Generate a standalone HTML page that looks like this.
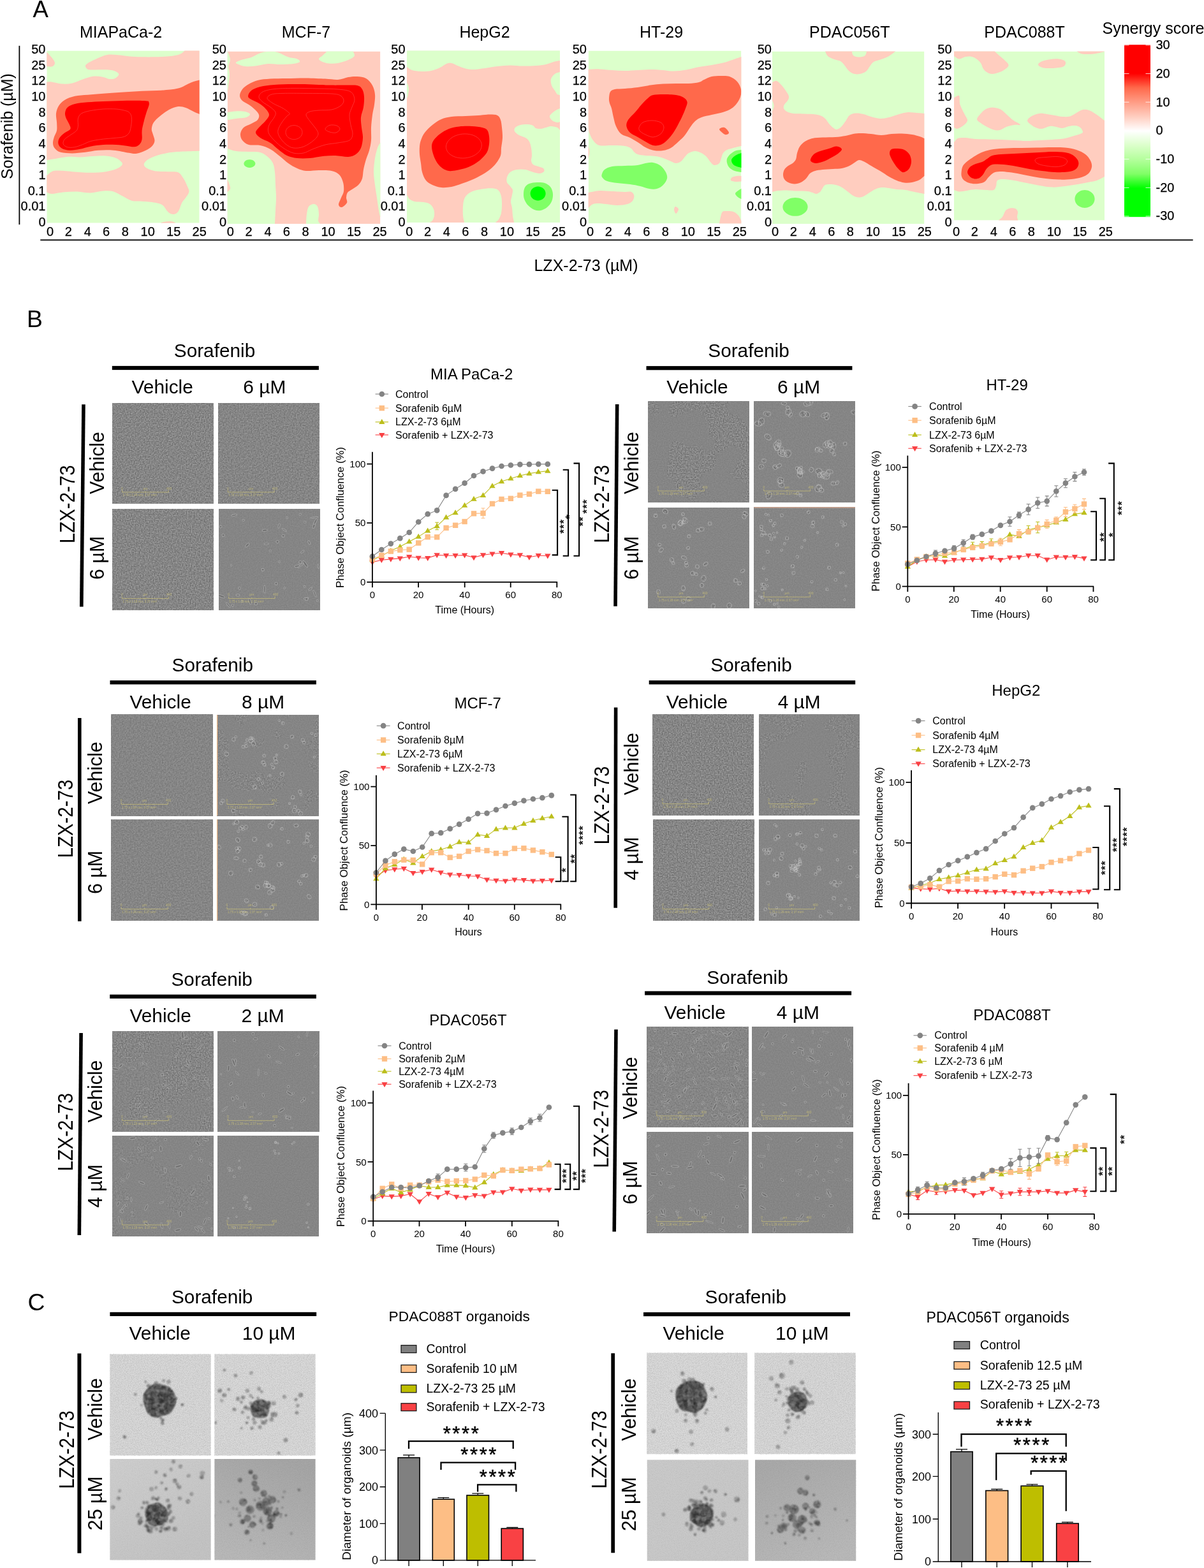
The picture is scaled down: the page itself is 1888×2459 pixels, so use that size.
<!DOCTYPE html>
<html lang="en">
<head>
<meta charset="utf-8">
<title>Figure</title>
<style>
html,body{margin:0;padding:0;background:#fff}
body{width:1888px;height:2459px;overflow:hidden}
svg{display:block}
text{font-family:"Liberation Sans",sans-serif;fill:#000}
</style>
</head>
<body>
<svg width="1888" height="2459" viewBox="0 0 1888 2459">
<g id="panelA">
<text x="51.4" y="27" font-size="36.5">A</text>
<rect x="29.5" y="71.8" width="1.8" height="280.4" fill="#000"/>
<text transform="translate(19.6 198) rotate(-90)" font-size="25" text-anchor="middle">Sorafenib (µM)</text>
<rect x="63.3" y="375.5" width="1807.4" height="1.8" fill="#000"/>
<text x="919" y="424.5" font-size="25" text-anchor="middle">LZX-2-73 (µM)</text>
<clipPath id="hc0"><rect x="73.3" y="79.5" width="239.4" height="270.2"/></clipPath>
<g clip-path="url(#hc0)">
<rect x="73.3" y="79.5" width="239.4" height="270.2" fill="#dcffcb"/>
<path d="M68.8 79.9C69.6 80.3 71.2 80.3 73.3 82C75.3 83.7 78.8 87.3 81 90.1C83.1 92.8 85.8 96.2 86 98.6C86.2 100.9 84.1 103.3 82 104.2C79.8 105.2 75.5 104.2 73.3 104.2C71.1 104.2 69.6 104.2 68.8 104.2L68.8 79.9Z" fill="#ffcdbf"/>
<path d="M289.4 74.9C289.4 75.7 291.1 77.7 289.4 79.5C287.7 81.4 285.4 84.4 279.3 86C273.2 87.6 264.1 88.5 253 89.1C241.9 89.6 224.3 89.6 212.5 89.1C200.7 88.5 189.6 86.5 182.1 86C174.7 85.5 172.7 85.2 168 86C163.3 86.9 158.9 88.9 153.8 91.1C148.8 93.3 140.9 97 137.6 99.2C134.3 101.4 133.6 102.5 134 104.2C134.3 105.9 135.7 108.4 139.6 109.3C143.6 110.1 151.8 109.1 157.9 109.3C163.9 109.5 171.4 109.2 176.1 110.3C180.8 111.4 185.4 113.7 186.2 115.8C187 117.8 183.5 121.1 181.1 122.4C178.8 123.8 175.6 124.2 172 123.9C168.5 123.5 164.3 121.1 159.9 120.4C155.5 119.7 150.8 119.1 145.7 119.8C140.7 120.5 134.9 122.7 129.5 124.5C124.1 126.3 118.7 129.4 113.3 130.5C107.9 131.7 102.5 131.9 97.1 131.6C91.7 131.2 84.9 129 81 128.5C77 128 75.6 128.5 73.3 128.5C70.9 128.5 67.9 128.5 66.8 128.5L66.8 251C67.9 251 70.2 251.2 73.3 251C76.3 250.7 79.7 250.2 85 249.3C90.3 248.5 98.5 246.4 105.2 245.9C112 245.4 118.7 246.7 125.5 246.5C132.2 246.3 139 245.2 145.7 244.9C152.5 244.6 159.9 244 166 244.5C172 245 177.9 246.2 182.1 247.9C186.4 249.7 189.9 253 191.3 255C192.6 257 191.8 258.4 190.2 260.1C188.7 261.8 186.2 263.6 182.1 265.1C178.1 266.6 172.7 268.2 166 269.2C159.2 270.1 150.4 270.8 141.7 270.8C132.9 270.8 121.8 269.7 113.3 269.2C104.9 268.6 96.5 267.6 91.1 267.6C85.7 267.6 83.9 267.9 81 269.2C78 270.5 75.6 274.1 73.3 275.2C70.9 276.4 67.9 276.1 66.8 276.3L66.8 301.6C67.9 301.6 70.9 301.2 73.3 301.6C75.6 302 76.3 304.1 81 304C85.6 303.9 94.4 301.7 101.2 301.2C107.9 300.6 114.7 300.3 121.4 300.5C128.2 300.8 134.9 302.7 141.7 302.6C148.4 302.4 155.8 299.9 161.9 299.5C168 299.2 173 299.2 178.1 300.5C183.2 301.9 187.5 305.3 192.3 307.6C197 310 201.4 313.4 206.4 314.7C211.5 316.1 216.6 315.2 222.6 315.7C228.7 316.2 237.5 316.7 242.9 317.7C248.3 318.8 251.6 319.4 255 321.8C258.4 324.2 260.4 329.6 263.1 331.9C265.8 334.3 268.5 336 271.2 336C273.9 336 276.9 335 279.3 331.9C281.7 328.9 283.3 321.5 285.4 317.7C287.4 314 289.6 312.5 291.4 309.7C293.3 306.8 296.2 303.6 296.5 300.5C296.8 297.5 295 295 293.5 291.4C291.9 287.9 289.8 282.8 287.4 279.3C285 275.8 283.3 271.9 279.3 270.2C275.2 268.5 269.2 269.5 263.1 269.2C257 268.8 248.3 269 242.9 268.2C237.5 267.3 233.6 265.8 230.7 264.1C227.9 262.4 225.7 260.2 225.7 258C225.7 255.9 227.9 253.2 230.7 251C233.6 248.8 237.5 246.7 242.9 244.9C248.3 243 256.4 241 263.1 239.8C269.9 238.6 275.1 238.3 283.3 237.8C291.6 237.3 306.6 237 312.7 236.8C318.8 236.6 318.6 236.8 319.8 236.8L319.8 74.9L289.4 74.9Z" fill="#ffcdbf"/>
<path d="M253 353.2C253 352.5 250.6 350.1 253 349.1C255.3 348.1 263.4 347 267.2 347.1C270.9 347.2 273.9 348.7 275.2 349.7C276.6 350.7 275.2 352.6 275.2 353.2L253 353.2Z" fill="#ffcdbf"/>
<path d="M319.8 123.5C318.6 123.8 316.1 124.5 312.7 125.5C309.3 126.5 305.1 127.3 299.5 129.5C294 131.7 287.1 136.6 279.3 138.6C271.5 140.7 262.4 141 253 141.7C243.5 142.3 233.1 142.2 222.6 142.7C212.2 143.2 200.4 144 190.2 144.7C180.1 145.4 170.7 146.1 161.9 146.7C153.1 147.4 145 148.1 137.6 148.8C130.2 149.4 123.5 149.4 117.4 150.8C111.3 152.1 105.4 154.3 101.2 156.9C97 159.4 94.3 162.4 92.1 166C89.9 169.5 88.5 173.7 88 178.1C87.5 182.5 88.9 187.9 89.1 192.3C89.2 196.7 89.7 200.7 89.1 204.4C88.4 208.1 86 211.2 85 214.5C84 217.9 82.8 221.6 83 224.7C83.1 227.7 84 230.4 86 232.7C88 235.1 90.6 237.5 95.1 238.8C99.7 240.1 106.9 240.4 113.3 240.4C119.7 240.4 126.8 239.6 133.6 238.8C140.3 238 146.4 236.3 153.8 235.8C161.2 235.3 170 235.1 178.1 235.8C186.2 236.5 196.3 239 202.4 239.8C208.5 240.7 210.1 241.5 214.5 240.8C218.9 240.2 224.7 237.8 228.7 235.8C232.7 233.8 236.5 231.2 238.8 228.7C241.1 226.2 242.3 223.6 242.5 220.6C242.6 217.6 240.6 213.5 239.8 210.5C239.1 207.4 237.6 205.4 237.8 202.4C238 199.4 238.6 195.6 240.8 192.3C243 188.9 246.9 185.5 251 182.1C255 178.8 260.4 174.6 265.1 172C269.9 169.5 274.9 167.5 279.3 167C283.7 166.5 287.4 167.6 291.4 169C295.5 170.3 300 173.4 303.6 175.1C307.1 176.8 310 177.9 312.7 179.1C315.4 180.3 318.6 181.6 319.8 182.1L319.8 123.5Z" fill="#ff694b"/>
<path d="M232.7 158.5C232.9 159.4 234.3 161 233.8 163.9C233.3 166.9 231.1 171.7 229.7 176.1C228.4 180.5 226.8 185.5 225.7 190.2C224.5 195 223.1 199.7 222.6 204.4C222.1 209.1 223.3 214.9 222.6 218.6C222 222.3 220.6 224.7 218.6 226.7C216.6 228.6 213.9 230 210.5 230.3C207.1 230.7 203.1 229.2 198.3 228.7C193.6 228.2 188.2 227.3 182.1 227.1C176.1 226.8 168.7 226.6 161.9 227.1C155.2 227.5 147.7 228.6 141.7 229.7C135.6 230.8 130.9 232.7 125.5 233.8C120.1 234.8 114 236 109.3 235.8C104.6 235.6 100.1 234.4 97.1 232.7C94.2 231.1 92.2 228.4 91.5 225.7C90.8 223 91.5 219.4 93.1 216.6C94.7 213.7 98.3 210.8 101.2 208.5C104.1 206.1 109.1 204.7 110.3 202.4C111.5 200 109.5 197.3 108.3 194.3C107.1 191.3 104.2 187.2 103.2 184.2C102.2 181.1 101.7 178.8 102.2 176.1C102.7 173.4 103.7 170.2 106.3 168C108.8 165.8 112.2 164.2 117.4 162.9C122.6 161.6 130.2 161 137.6 160.3C145 159.6 152.8 159.3 161.9 158.9C171 158.5 182.1 158 192.3 157.9C202.4 157.7 215.9 157.8 222.6 157.9C229.4 158 231.1 158.4 232.7 158.5Z" fill="#ff0000"/>
<path d="M202.4 176.1C204.4 177.9 205.9 180.5 206.4 184.2C206.9 187.9 206.1 194.3 205.4 198.3C204.7 202.4 204.2 205.8 202.4 208.5C200.5 211.2 198.3 213.2 194.3 214.5C190.2 215.9 184.2 215.9 178.1 216.6C172 217.2 163.9 217.7 157.9 218.6C151.8 219.4 146.4 220.3 141.7 221.6C136.9 223 133.6 225.2 129.5 226.7C125.5 228.2 121.4 230 117.4 230.7C113.3 231.4 108.3 231.6 105.2 230.7C102.2 229.9 99.8 227.7 99.2 225.7C98.5 223.6 99.5 220.8 101.2 218.6C102.9 216.4 106.3 214.7 109.3 212.5C112.3 210.3 117.2 207.8 119.4 205.4C121.6 203.1 121.9 201.5 122.4 198.3C123 195.1 121.6 189.6 122.4 186.2C123.3 182.8 124.3 180.2 127.5 178.1C130.7 176 135.9 174.8 141.7 173.6C147.4 172.5 155.2 171.5 161.9 171C168.7 170.6 176.8 170.7 182.1 171C187.5 171.4 190.9 172.2 194.3 173C197.7 173.9 200.4 174.2 202.4 176.1Z" fill="none" stroke="#ff5050" stroke-width="0.6"/>
</g>
<text x="189.6" y="58.7" font-size="25" text-anchor="middle">MIAPaCa-2</text>
<g font-size="20" text-anchor="end" stroke="#000" stroke-width="0.25">
<text x="71.5" y="84">50</text>
<text x="71.5" y="108.6">25</text>
<text x="71.5" y="133.3">12</text>
<text x="71.5" y="157.9">10</text>
<text x="71.5" y="182.6">8</text>
<text x="71.5" y="207.2">6</text>
<text x="71.5" y="231.8">4</text>
<text x="71.5" y="256.5">2</text>
<text x="71.5" y="281.1">1</text>
<text x="71.5" y="305.8">0.1</text>
<text x="71.5" y="330.4">0.01</text>
<text x="71.5" y="355">0</text>
</g>
<g font-size="20" text-anchor="middle" stroke="#000" stroke-width="0.25">
<text x="78.5" y="370">0</text>
<text x="107.3" y="370">2</text>
<text x="137.2" y="370">4</text>
<text x="166.6" y="370">6</text>
<text x="196.3" y="370">8</text>
<text x="231.7" y="370">10</text>
<text x="272.2" y="370">15</text>
<text x="312.7" y="370">25</text>
</g>
<clipPath id="hc1"><rect x="356.6" y="80.6" width="239.8" height="270.4"/></clipPath>
<g clip-path="url(#hc1)">
<rect x="356.6" y="80.6" width="239.8" height="270.4" fill="#ffcdbf"/>
<path d="M370 98C371 96.8 376 94.9 380 93.6C384 92.3 390 91.4 394 90C398 88.6 400.7 86.4 404 85C407.3 83.6 410 82.1 414 81.4C418 80.7 424 80.5 428 80.8C432 81.1 434 81.5 438 83C442 84.5 447.3 88 452 89.6C456.7 91.2 463 91.2 466 92.4C469 93.6 471 95.7 470 97C469 98.3 465 99.3 460 100C455 100.7 446.7 101 440 101C433.3 101 426.7 99.6 420 100C413.3 100.4 406 102.9 400 103.6C394 104.3 388.3 104.4 384 104C379.7 103.6 376.3 102 374 101C371.7 100 369 99.2 370 98Z" fill="#dcffcb"/>
<path d="M353 80.6C353.6 80.6 355.6 79.7 356.6 80.6C357.6 81.5 358.3 83.8 359 86C359.7 88.2 361.1 91 361 94C360.9 97 358.6 100.3 358.4 104C358.2 107.7 359.9 112 360 116C360.1 120 359.6 123.3 359 128C358.4 132.7 357.6 141.3 356.6 144C355.6 146.7 353.6 144 353 144L353 80.6Z" fill="#dcffcb"/>
<path d="M512 77C512 77.7 513 79.3 512 81C511 82.7 508 85.1 506 87C504 88.9 500 90.7 500 92.4C500 94.1 503.3 95.8 506 97C508.7 98.2 512 99.3 516 99.6C520 99.9 525 99.9 530 99C535 98.1 541.7 95.8 546 94C550.3 92.2 554.3 90.2 555.6 88C556.9 85.8 554.3 82.8 554 81C553.7 79.2 554 77.7 554 77L512 77Z" fill="#dcffcb"/>
<path d="M353 176C353.6 176 353.8 176.3 356.6 176C359.4 175.7 365.4 174.6 370 174.4C374.6 174.2 380.3 174.2 384 175C387.7 175.8 391.7 177.5 392 179C392.3 180.5 389.7 182.8 386 184C382.3 185.2 374.9 185.3 370 186C365.1 186.7 359.4 187.7 356.6 188C353.8 188.3 353.6 188 353 188L353 176Z" fill="#dcffcb"/>
<path d="M353 233C353.6 233 353.8 232.3 356.6 233C359.4 233.7 364.4 236.2 370 237C375.6 237.8 383.7 237.7 390 238C396.3 238.3 403 237.7 408 239C413 240.3 416.7 243.2 420 246C423.3 248.8 426.2 252 428 256C429.8 260 430.3 264.3 431 270C431.7 275.7 431.7 283.3 432 290C432.3 296.7 433 303.3 433 310C433 316.7 432.3 323.2 432 330C431.7 336.8 431.2 346.8 431 351C430.8 355.2 431 354.3 431 355L353 355L353 233Z" fill="#dcffcb"/>
<path d="M353 282C353.6 282 355.4 280.7 356.6 282C357.8 283.3 359.3 287.7 360 290C360.7 292.3 361.6 294.2 361 296C360.4 297.8 357.9 300.2 356.6 301C355.3 301.8 353.6 301 353 301L353 282Z" fill="#ffcdbf"/>
<path d="M480 355C480 354.3 479.8 354.2 480 351C480.2 347.8 480.3 340.5 481 336C481.7 331.5 482.2 326.7 484 324C485.8 321.3 489.7 320 492 320C494.3 320 496.7 321.3 498 324C499.3 326.7 499.8 332.3 500 336C500.2 339.7 498.7 343.5 499 346C499.3 348.5 501.5 349.5 502 351C502.5 352.5 502 354.3 502 355L480 355Z" fill="#dcffcb"/>
<path d="M600 224C599.4 224 597.7 222.7 596.4 224C595.1 225.3 593.4 228 592 232C590.6 236 589 241.7 588 248C587 254.3 586 263 586 270C586 277 587.2 283.3 588 290C588.8 296.7 590 303.3 591 310C592 316.7 593.1 325 594 330C594.9 335 595.4 338.3 596.4 340C597.4 341.7 599.4 340 600 340L600 224Z" fill="#dcffcb"/>
<path d="M400.4 256.6C400.4 257.7 399.9 258.9 399.2 259.8C398.4 260.7 397.2 261.6 395.9 262.1C394.6 262.7 392.9 263 391.4 263C389.9 263 388.2 262.7 386.9 262.1C385.6 261.6 384.4 260.7 383.6 259.8C382.9 258.9 382.4 257.7 382.4 256.6C382.4 255.5 382.9 254.3 383.6 253.4C384.4 252.5 385.6 251.6 386.9 251.1C388.2 250.5 389.9 250.2 391.4 250.2C392.9 250.2 394.6 250.5 395.9 251.1C397.2 251.6 398.4 252.5 399.2 253.4C399.9 254.3 400.4 255.5 400.4 256.6Z" fill="#80ff66"/>
<path d="M376 150C376 147 377.7 143 380 140C382.3 137 386 134.3 390 132C394 129.7 398.3 127.4 404 126C409.7 124.6 416.3 124.1 424 123.6C431.7 123.1 440.7 123.2 450 123C459.3 122.8 470 122.3 480 122.4C490 122.5 501.7 123.2 510 123.6C518.3 124 524 125.4 530 125C536 124.6 541 121.8 546 121C551 120.2 555.3 119.7 560 120C564.7 120.3 570 120.7 574 123C578 125.3 581.7 129.8 584 134C586.3 138.2 587.5 143 588 148C588.5 153 587.7 158.7 587 164C586.3 169.3 584.8 174 584 180C583.2 186 582.3 193.3 582 200C581.7 206.7 582.5 214 582 220C581.5 226 580.3 231 579 236C577.7 241 575.5 245 574 250C572.5 255 571 261 570 266C569 271 569.3 276 568 280C566.7 284 564.7 287.2 562 290C559.3 292.8 554.8 295 552 297C549.2 299 546.5 299.8 545 302C543.5 304.2 543.2 307.3 543 310C542.8 312.7 545.2 315.5 544 318C542.8 320.5 538.2 324.5 536 325C533.8 325.5 531.2 323.5 531 321C530.8 318.5 533.7 313.5 535 310C536.3 306.5 538.5 304 539 300C539.5 296 539.2 290.3 538 286C536.8 281.7 535 277 532 274C529 271 525.3 269.2 520 268C514.7 266.8 506.7 267 500 267C493.3 267 485.7 268.5 480 268C474.3 267.5 470.7 266 466 264C461.3 262 456.3 259 452 256C447.7 253 444.7 249.7 440 246C435.3 242.3 429.3 237 424 234C418.7 231 413.7 229.2 408 228C402.3 226.8 394.7 228.3 390 227C385.3 225.7 382.2 222.8 380 220C377.8 217.2 376.7 213.3 377 210C377.3 206.7 379.2 202.7 382 200C384.8 197.3 390.3 196 394 194C397.7 192 402 190.3 404 188C406 185.7 406.7 182.7 406 180C405.3 177.3 402.7 174.7 400 172C397.3 169.3 393.3 166.3 390 164C386.7 161.7 382.3 160.3 380 158C377.7 155.7 376 153 376 150Z" fill="#ff694b"/>
<path d="M389 151C389 148.7 390.8 144.5 394 142C397.2 139.5 402 137.5 408 136C414 134.5 421.3 133.7 430 133C438.7 132.3 450 132.1 460 132C470 131.9 480 132.1 490 132.4C500 132.7 511.7 133.4 520 133.6C528.3 133.8 533.3 133.5 540 133.6C546.7 133.7 555.3 132.9 560 134C564.7 135.1 566.2 137 568 140C569.8 143 570.7 147.3 571 152C571.3 156.7 570.8 162.7 570 168C569.2 173.3 566.5 178.7 566 184C565.5 189.3 566.5 194.7 567 200C567.5 205.3 569.2 210.7 569 216C568.8 221.3 567.8 227.7 566 232C564.2 236.3 561.3 239.7 558 242C554.7 244.3 551.3 245.7 546 246C540.7 246.3 532.7 244.2 526 244C519.3 243.8 512.7 244.3 506 245C499.3 245.7 492.7 247.5 486 248C479.3 248.5 472 248.7 466 248C460 247.3 455 246.3 450 244C445 241.7 440.3 237.3 436 234C431.7 230.7 428.7 227 424 224C419.3 221 411.8 218.7 408 216C404.2 213.3 401.3 210.7 401 208C400.7 205.3 403.5 203 406 200C408.5 197 413.3 193.3 416 190C418.7 186.7 422 183.3 422 180C422 176.7 418.7 173 416 170C413.3 167 409.7 164.3 406 162C402.3 159.7 396.8 157.8 394 156C391.2 154.2 389 153.3 389 151Z" fill="#ff0000"/>
<path d="M406 152C406 149.3 408 146.1 412 144C416 141.9 422 140.5 430 139.6C438 138.7 448.3 138.5 460 138.4C471.7 138.3 488.3 138.7 500 139C511.7 139.3 521.7 139.2 530 140C538.3 140.8 545.7 141.3 550 144C554.3 146.7 555.7 152 556 156C556.3 160 553.3 164 552 168C550.7 172 548.3 175.3 548 180C547.7 184.7 549.2 191 550 196C550.8 201 553.3 206 553 210C552.7 214 551.8 217.7 548 220C544.2 222.3 536.3 222.8 530 224C523.7 225.2 516.7 225.3 510 227C503.3 228.7 495.7 231.8 490 234C484.3 236.2 481 239 476 240C471 241 465.3 241.3 460 240C454.7 238.7 449 235.3 444 232C439 228.7 433.8 224 430 220C426.2 216 422.3 212 421 208C419.7 204 420.5 200 422 196C423.5 192 428.3 187.3 430 184C431.7 180.7 433 178.7 432 176C431 173.3 427.3 170.7 424 168C420.7 165.3 415 162.7 412 160C409 157.3 406 154.7 406 152Z" fill="none" stroke="#ff5050" stroke-width="0.6"/>
<path d="M419 154C418.7 151.7 421.8 149.3 426 148C430.2 146.7 435 146.7 444 146.4C453 146.1 467.3 146.3 480 146.4C492.7 146.5 511 146.4 520 147C529 147.6 530.8 148.2 534 150C537.2 151.8 539 155.3 539 158C539 160.7 537.2 163.7 534 166C530.8 168.3 525.7 170.8 520 172C514.3 173.2 505.7 172.5 500 173C494.3 173.5 489.3 173.8 486 175C482.7 176.2 480 177.5 480 180C480 182.5 483.7 186.7 486 190C488.3 193.3 491.8 196.7 494 200C496.2 203.3 499.3 206.7 499 210C498.7 213.3 495.8 216.7 492 220C488.2 223.3 481.3 228 476 230C470.7 232 464.7 232.7 460 232C455.3 231.3 451.7 229 448 226C444.3 223 440 217.7 438 214C436 210.3 435.3 207.7 436 204C436.7 200.3 439.7 195.7 442 192C444.3 188.3 448 184.3 450 182C452 179.7 455 180 454 178C453 176 448.3 172.7 444 170C439.7 167.3 432.2 164.7 428 162C423.8 159.3 419.3 156.3 419 154Z" fill="none" stroke="#ff5050" stroke-width="0.6"/>
<path d="M474 207.6C474 209.4 473.3 211.5 472.3 213.1C471.2 214.7 469.4 216.2 467.5 217.1C465.6 218 463.2 218.6 461 218.6C458.8 218.6 456.4 218 454.5 217.1C452.6 216.2 450.8 214.7 449.7 213.1C448.7 211.5 448 209.4 448 207.6C448 205.8 448.7 203.7 449.7 202.1C450.8 200.5 452.6 199 454.5 198.1C456.4 197.2 458.8 196.6 461 196.6C463.2 196.6 465.6 197.2 467.5 198.1C469.4 199 471.2 200.5 472.3 202.1C473.3 203.7 474 205.8 474 207.6Z" fill="none" stroke="#ff5050" stroke-width="0.6"/>
<path d="M510 202.4C510 200.6 514 197.3 517 196.4C520 195.5 525.3 196 528 197C530.7 198 533.2 200.6 533 202.4C532.8 204.2 529.7 207.2 527 208C524.3 208.8 519.8 207.9 517 207C514.2 206.1 510 204.2 510 202.4Z" fill="none" stroke="#ff5050" stroke-width="0.6"/>
</g>
<text x="480" y="58.7" font-size="25" text-anchor="middle">MCF-7</text>
<g font-size="20" text-anchor="end" stroke="#000" stroke-width="0.25">
<text x="355" y="84">50</text>
<text x="355" y="108.6">25</text>
<text x="355" y="133.3">12</text>
<text x="355" y="157.9">10</text>
<text x="355" y="182.6">8</text>
<text x="355" y="207.2">6</text>
<text x="355" y="231.8">4</text>
<text x="355" y="256.5">2</text>
<text x="355" y="281.1">1</text>
<text x="355" y="305.8">0.1</text>
<text x="355" y="330.4">0.01</text>
<text x="355" y="355">0</text>
</g>
<g font-size="20" text-anchor="middle" stroke="#000" stroke-width="0.25">
<text x="361.3" y="370">0</text>
<text x="390.1" y="370">2</text>
<text x="420" y="370">4</text>
<text x="449.4" y="370">6</text>
<text x="479.1" y="370">8</text>
<text x="514.5" y="370">10</text>
<text x="555" y="370">15</text>
<text x="595.5" y="370">25</text>
</g>
<clipPath id="hc2"><rect x="638" y="79.6" width="240" height="269.4"/></clipPath>
<g clip-path="url(#hc2)">
<rect x="638" y="79.6" width="240" height="269.4" fill="#ffcdbf"/>
<path d="M634 76L882 76L882 95C881.3 95 880.3 94.7 878 95C875.7 95.3 871.7 96 868 97C864.3 98 860.7 100 856 101C851.3 102 846 102.6 840 103C834 103.4 826.7 103.7 820 103.6C813.3 103.5 806.7 102.3 800 102.4C793.3 102.5 786.7 103.2 780 104C773.3 104.8 766 106.2 760 107C754 107.8 748.7 108.8 744 109C739.3 109.2 736 108.8 732 108C728 107.2 724 105.5 720 104C716 102.5 711.3 99.7 708 99C704.7 98.3 703 98.8 700 100C697 101.2 694 104.2 690 106C686 107.8 681 110 676 111C671 112 665 112.2 660 112C655 111.8 649.7 111.2 646 110C642.3 108.8 640 106 638 105C636 104 634.7 104.2 634 104L634 76Z" fill="#dcffcb"/>
<path d="M882 113C881.3 113 880 112.5 878 113C876 113.5 872.3 114.2 870 116C867.7 117.8 864.8 121 864 124C863.2 127 864 131 865 134C866 137 868.5 139.7 870 142C871.5 144.3 872.7 146.8 874 148C875.3 149.2 876.7 148.8 878 149C879.3 149.2 881.3 149 882 149L882 113Z" fill="#dcffcb"/>
<path d="M882 170C881.3 170 880 169.3 878 170C876 170.7 872.7 172 870 174C867.3 176 862.7 179.5 862 182C861.3 184.5 864 187.3 866 189C868 190.7 872 191.7 874 192C876 192.3 876.7 191.2 878 191C879.3 190.8 881.3 191 882 191L882 170Z" fill="#dcffcb"/>
<path d="M634 130C634.7 130 636.8 128.7 638 130C639.2 131.3 640.7 135 641 138C641.3 141 640.5 145.3 640 148C639.5 150.7 639 153 638 154C637 155 634.7 154 634 154L634 130Z" fill="#dcffcb"/>
<path d="M882 204C881.3 204 879.3 204.7 878 204C876.7 203.3 876.3 201 874 200C871.7 199 867 198 864 198C861 198 858.7 199.3 856 200C853.3 200.7 850.7 201.8 848 202C845.3 202.2 842 201.8 840 201C838 200.2 838 198 836 197C834 196 831.3 195.2 828 195C824.7 194.8 819.3 195.2 816 196C812.7 196.8 809.5 198.3 808 200C806.5 201.7 806 204 807 206C808 208 811.2 210.3 814 212C816.8 213.7 821.3 214.3 824 216C826.7 217.7 828.5 219.3 830 222C831.5 224.7 832.3 228.3 833 232C833.7 235.7 834 240.7 834 244C834 247.3 832.7 249.7 833 252C833.3 254.3 834.2 256.5 836 258C837.8 259.5 841.3 260 844 261C846.7 262 850.5 262.7 852 264C853.5 265.3 854 267.7 853 269C852 270.3 848.8 271.8 846 272C843.2 272.2 839.7 271 836 270C832.3 269 828.3 266.7 824 266C819.7 265.3 814 265.3 810 266C806 266.7 802.5 268 800 270C797.5 272 795.8 275.3 795 278C794.2 280.7 794.2 283.7 795 286C795.8 288.3 798.5 290 800 292C801.5 294 803.5 295.7 804 298C804.5 300.3 803.5 303 803 306C802.5 309 801 312.7 801 316C801 319.3 802.5 322.3 803 326C803.5 329.7 803.5 334.2 804 338C804.5 341.8 805.7 346.5 806 349C806.3 351.5 806 352.3 806 353L882 353L882 204Z" fill="#dcffcb"/>
<path d="M634 306C634.7 306 636.7 305 638 306C639.3 307 640 310.3 642 312C644 313.7 646.3 315.2 650 316C653.7 316.8 660 316.3 664 317C668 317.7 671.3 318.2 674 320C676.7 321.8 678.8 325 680 328C681.2 331 681.3 335 681 338C680.7 341 679.2 344.2 678 346C676.8 347.8 674.7 347.8 674 349C673.3 350.2 674 352.3 674 353L634 353L634 306Z" fill="#dcffcb"/>
<path d="M728 353C728 352.3 728.3 351.5 728 349C727.7 346.5 726.3 342.2 726 338C725.7 333.8 725.7 328.3 726 324C726.3 319.7 726.7 315.3 728 312C729.3 308.7 731.3 306.2 734 304C736.7 301.8 739.7 300.3 744 299C748.3 297.7 755 296.6 760 296C765 295.4 770.3 295.1 774 295.6C777.7 296.1 780 296.9 782 299C784 301.1 785.2 304.5 786 308C786.8 311.5 787 315.7 787 320C787 324.3 786.8 330 786 334C785.2 338 783.5 341.5 782 344C780.5 346.5 777.8 347.5 777 349C776.2 350.5 777 352.3 777 353L728 353Z" fill="#dcffcb"/>
<path d="M658 230C658.3 226.3 658.7 223.7 660 220C661.3 216.3 663 212 666 208C669 204 673.7 199.5 678 196C682.3 192.5 687 189.2 692 187C697 184.8 701.7 183.8 708 183C714.3 182.2 723 182.3 730 182C737 181.7 743.7 181.4 750 181C756.3 180.6 763 179.6 768 179.6C773 179.6 777.2 179.6 780 181C782.8 182.4 783.8 184.8 785 188C786.2 191.2 786.5 195.3 787 200C787.5 204.7 788.2 210.7 788 216C787.8 221.3 786.5 227.3 786 232C785.5 236.7 786.3 240 785 244C783.7 248 780.8 252.3 778 256C775.2 259.7 771.7 263 768 266C764.3 269 760.7 271.3 756 274C751.3 276.7 745.3 279.7 740 282C734.7 284.3 729.3 286.2 724 288C718.7 289.8 713.3 292 708 293C702.7 294 697 294.5 692 294C687 293.5 682 291.8 678 290C674 288.2 670.7 286.3 668 283C665.3 279.7 663.3 274.5 662 270C660.7 265.5 660.7 260.7 660 256C659.3 251.3 658.3 246.3 658 242C657.7 237.7 657.7 233.7 658 230Z" fill="#ff694b"/>
<path d="M677 230C677 226 677.8 223.3 680 220C682.2 216.7 686 213 690 210C694 207 699 203.9 704 202C709 200.1 714 199.1 720 198.4C726 197.7 734 197.7 740 198C746 198.3 752 199 756 200C760 201 762.2 201.7 764 204C765.8 206.3 766.5 210.3 767 214C767.5 217.7 767.5 222 767 226C766.5 230 765.8 234.3 764 238C762.2 241.7 759 245 756 248C753 251 750 253.5 746 256C742 258.5 737 261.2 732 263C727 264.8 720.7 266.2 716 267C711.3 267.8 707.7 268.5 704 268C700.3 267.5 697 266 694 264C691 262 688.3 259.3 686 256C683.7 252.7 681.5 248.3 680 244C678.5 239.7 677 234 677 230Z" fill="#ff0000"/>
<path d="M821 304C821.1 300.8 821.5 296.7 823 294C824.5 291.3 826.8 289.3 830 288C833.2 286.7 838 286.2 842 286C846 285.8 850.5 285.8 854 287C857.5 288.2 860.8 290.2 863 293C865.2 295.8 866.7 300.2 867 304C867.3 307.8 866.5 312.5 865 316C863.5 319.5 860.8 322.7 858 325C855.2 327.3 851.3 329.3 848 330C844.7 330.7 841.3 330.3 838 329C834.7 327.7 830.6 324.7 828 322C825.4 319.3 823.6 316 822.4 313C821.2 310 820.9 307.2 821 304Z" fill="#80ff66"/>
<path d="M855.6 303.6C855.6 305.4 855 307.5 854 309.1C853 310.7 851.3 312.2 849.6 313.1C847.9 314 845.6 314.6 843.6 314.6C841.6 314.6 839.3 314 837.6 313.1C835.9 312.2 834.2 310.7 833.2 309.1C832.2 307.5 831.6 305.4 831.6 303.6C831.6 301.8 832.2 299.7 833.2 298.1C834.2 296.5 835.9 295 837.6 294.1C839.3 293.2 841.6 292.6 843.6 292.6C845.6 292.6 847.9 293.2 849.6 294.1C851.3 295 853 296.5 854 298.1C855 299.7 855.6 301.8 855.6 303.6Z" fill="#00ff00"/>
<path d="M755.3 226.6C755.6 229.7 754.5 233.4 752.4 236.4C750.3 239.3 746.7 242.2 742.8 244.2C738.9 246.1 733.7 247.5 729.1 247.9C724.4 248.3 719.1 247.8 714.9 246.6C710.7 245.4 706.6 243.1 704.1 240.6C701.5 238 699.8 234.6 699.5 231.4C699.2 228.3 700.3 224.6 702.4 221.6C704.5 218.7 708.1 215.8 712 213.8C715.9 211.9 721.1 210.5 725.7 210.1C730.4 209.7 735.7 210.2 739.9 211.4C744.1 212.6 748.2 214.9 750.7 217.4C753.3 220 755 223.4 755.3 226.6Z" fill="none" stroke="#ff5050" stroke-width="0.6"/>
</g>
<text x="760" y="58.7" font-size="25" text-anchor="middle">HepG2</text>
<g font-size="20" text-anchor="end" stroke="#000" stroke-width="0.25">
<text x="635.6" y="84">50</text>
<text x="635.6" y="108.6">25</text>
<text x="635.6" y="133.3">12</text>
<text x="635.6" y="157.9">10</text>
<text x="635.6" y="182.6">8</text>
<text x="635.6" y="207.2">6</text>
<text x="635.6" y="231.8">4</text>
<text x="635.6" y="256.5">2</text>
<text x="635.6" y="281.1">1</text>
<text x="635.6" y="305.8">0.1</text>
<text x="635.6" y="330.4">0.01</text>
<text x="635.6" y="355">0</text>
</g>
<g font-size="20" text-anchor="middle" stroke="#000" stroke-width="0.25">
<text x="641.7" y="370">0</text>
<text x="670.5" y="370">2</text>
<text x="700.4" y="370">4</text>
<text x="729.8" y="370">6</text>
<text x="759.5" y="370">8</text>
<text x="794.9" y="370">10</text>
<text x="835.4" y="370">15</text>
<text x="875.9" y="370">25</text>
</g>
<clipPath id="hc3"><rect x="922.6" y="79.6" width="239.8" height="270.8"/></clipPath>
<g clip-path="url(#hc3)">
<rect x="922.6" y="79.6" width="239.8" height="270.8" fill="#dcffcb"/>
<path d="M919 109C919.6 109 919.1 109.1 922.6 109C926.1 108.9 933.8 108.2 940 108.4C946.2 108.6 953.3 109.6 960 110C966.7 110.4 973.3 111 980 111C986.7 111 993.3 110.3 1000 110C1006.7 109.7 1013.3 109 1020 109C1026.7 109 1034 109.6 1040 110C1046 110.4 1050 111.7 1056 111.6C1062 111.5 1069.3 110.7 1076 109.6C1082.7 108.5 1089.3 106.3 1096 105C1102.7 103.7 1109.3 103.2 1116 102C1122.7 100.8 1130.7 99.3 1136 98C1141.3 96.7 1143.6 95.5 1148 94C1152.4 92.5 1159.4 90 1162.4 89C1165.4 88 1165.4 88.2 1166 88L1166 229C1165.4 229 1165.1 228.5 1162.4 229C1159.7 229.5 1153.7 231 1150 232C1146.3 233 1142.7 233.7 1140 235C1137.3 236.3 1135.5 237.8 1134 240C1132.5 242.2 1132 245.3 1131 248C1130 250.7 1129.8 254.2 1128 256C1126.2 257.8 1122.3 259.3 1120 259C1117.7 258.7 1116 256.2 1114 254C1112 251.8 1110.3 248.3 1108 246C1105.7 243.7 1103 241.5 1100 240C1097 238.5 1093.3 237 1090 237C1086.7 237 1082.7 238.5 1080 240C1077.3 241.5 1076 243.8 1074 246C1072 248.2 1070.3 251.3 1068 253C1065.7 254.7 1062.7 256 1060 256C1057.3 256 1055.3 254.3 1052 253C1048.7 251.7 1044 249.3 1040 248C1036 246.7 1032.7 245.7 1028 245C1023.3 244.3 1016.7 244.5 1012 244C1007.3 243.5 1003 243 1000 242C997 241 995.7 239.5 994 238C992.3 236.5 992.3 234.5 990 233C987.7 231.5 985 229.8 980 229C975 228.2 966.7 228.2 960 228C953.3 227.8 945 229.3 940 228C935 226.7 932.7 223.3 930 220C927.3 216.7 925.2 211.3 924 208C922.8 204.7 923.4 201.3 922.6 200C921.8 198.7 919.6 200 919 200L919 109Z" fill="#ffcdbf"/>
<path d="M919 230C919.6 230 921.7 228.7 922.6 230C923.5 231.3 924.4 235 924.4 238C924.4 241 923.5 246.3 922.6 248C921.7 249.7 919.6 248 919 248L919 230Z" fill="#ffcdbf"/>
<path d="M919 302C919.6 302 919.1 302.5 922.6 302C926.1 301.5 933.8 299.3 940 299C946.2 298.7 953.3 299.7 960 300C966.7 300.3 975 300.8 980 301C985 301.2 987.6 300 990 301C992.4 302 994.1 304.7 994.4 307C994.7 309.3 993.7 312.8 992 315C990.3 317.2 988 318.8 984 320C980 321.2 973.7 322 968 322C962.3 322 955.3 320.5 950 320C944.7 319.5 939.7 318.8 936 319C932.3 319.2 930.2 319.8 928 321C925.8 322.2 924.1 325.2 922.6 326C921.1 326.8 919.6 326 919 326L919 302Z" fill="#ffcdbf"/>
<path d="M1166 276C1165.4 276 1164.1 276 1162.4 276C1160.7 276 1158.4 275.7 1156 276C1153.6 276.3 1149.7 276.8 1148 278C1146.3 279.2 1145 281.8 1146 283C1147 284.2 1151.3 284.8 1154 285C1156.7 285.2 1160.4 284.5 1162.4 284.4C1164.4 284.3 1165.4 284.4 1166 284.4L1166 276Z" fill="#ffcdbf"/>
<path d="M1057 329C1056.8 327.2 1057.8 324.2 1059 324C1060.2 323.8 1063.8 326.2 1064 328C1064.2 329.8 1061.2 334.8 1060 335C1058.8 335.2 1057.2 330.8 1057 329Z" fill="#ffcdbf"/>
<path d="M1128 355C1128 354.2 1127.7 352.9 1128 350.4C1128.3 347.9 1129.2 343.1 1130 340C1130.8 336.9 1131.3 333.5 1133 332C1134.7 330.5 1137.2 331 1140 331C1142.8 331 1147 330.8 1150 332C1153 333.2 1155.9 335.7 1158 338C1160.1 340.3 1161.1 344.3 1162.4 346C1163.7 347.7 1165.4 347.7 1166 348L1166 355L1128 355Z" fill="#ffcdbf"/>
<path d="M955 154C955.2 151 955.5 146.3 957 144C958.5 141.7 960.2 140.8 964 140C967.8 139.2 974 139.5 980 139C986 138.5 993.3 137.9 1000 137C1006.7 136.1 1013.3 134.5 1020 133.6C1026.7 132.7 1033.3 132 1040 131.6C1046.7 131.2 1053.3 131.1 1060 131C1066.7 130.9 1074 131.3 1080 131C1086 130.7 1092 130 1096 129C1100 128 1100.7 126.5 1104 125C1107.3 123.5 1111.7 121 1116 120C1120.3 119 1125.3 119 1130 119C1134.7 119 1139.7 118.5 1144 120C1148.3 121.5 1153 124.7 1156 128C1159 131.3 1161.2 136 1162 140C1162.8 144 1162.3 148 1161 152C1159.7 156 1156.8 160.7 1154 164C1151.2 167.3 1148 169.8 1144 172C1140 174.2 1134.7 175.7 1130 177C1125.3 178.3 1121 178.8 1116 180C1111 181.2 1104.3 182.3 1100 184C1095.7 185.7 1093 187.3 1090 190C1087 192.7 1084.7 196.3 1082 200C1079.3 203.7 1077 208.3 1074 212C1071 215.7 1067.7 218.7 1064 222C1060.3 225.3 1056 229.7 1052 232C1048 234.3 1044.3 235.3 1040 236C1035.7 236.7 1030.7 236.8 1026 236C1021.3 235.2 1016.3 233.2 1012 231C1007.7 228.8 1004 225.5 1000 223C996 220.5 992.3 218.2 988 216C983.7 213.8 977.7 213 974 210C970.3 207 968 202.3 966 198C964 193.7 963.2 188.7 962 184C960.8 179.3 960 173.7 959 170C958 166.3 956.7 164.7 956 162C955.3 159.3 954.8 157 955 154Z" fill="#ff694b"/>
<path d="M1128 203C1127.8 201.2 1133.5 199.2 1136 200C1138.5 200.8 1142.8 206.2 1143 208C1143.2 209.8 1139.5 211.8 1137 211C1134.5 210.2 1128.2 204.8 1128 203Z" fill="#ff694b"/>
<path d="M1016 154C1019 151.5 1020 150 1024 149C1028 148 1034 148 1040 148C1046 148 1054.7 148.2 1060 149C1065.3 149.8 1069.1 151.2 1072 153C1074.9 154.8 1077.1 157.2 1077.6 160C1078.1 162.8 1076.3 166.3 1075 170C1073.7 173.7 1071.8 178 1070 182C1068.2 186 1066.3 189.7 1064 194C1061.7 198.3 1059 203.7 1056 208C1053 212.3 1049.3 216.8 1046 220C1042.7 223.2 1039.7 225.7 1036 227C1032.3 228.3 1028 228.8 1024 228C1020 227.2 1016 224.2 1012 222C1008 219.8 1004 217.3 1000 215C996 212.7 990.9 210.8 988 208C985.1 205.2 982.9 201.3 982.4 198C981.9 194.7 982.7 191.7 985 188C987.3 184.3 992.5 180 996 176C999.5 172 1002.7 167.7 1006 164C1009.3 160.3 1013 156.5 1016 154Z" fill="#ff0000"/>
<path d="M943.6 274C944.1 271.8 945.3 268.2 948 266C950.7 263.8 954.7 262 960 261C965.3 260 973.3 260.3 980 260C986.7 259.7 994.7 259.7 1000 259C1005.3 258.3 1008 256.7 1012 256C1016 255.3 1020 254.3 1024 255C1028 255.7 1032.7 257.5 1036 260C1039.3 262.5 1042.3 266.7 1044 270C1045.7 273.3 1046.7 276.7 1046 280C1045.3 283.3 1042.7 287.3 1040 290C1037.3 292.7 1033.7 295 1030 296C1026.3 297 1022.3 296.7 1018 296C1013.7 295.3 1009 293.2 1004 292C999 290.8 994 289.8 988 289C982 288.2 974 287.8 968 287C962 286.2 955.8 285.3 952 284C948.2 282.7 946.4 280.7 945 279C943.6 277.3 943.1 276.2 943.6 274Z" fill="#80ff66"/>
<path d="M1166 235C1165.4 235 1164.7 234.7 1162.4 235C1160.1 235.3 1155.2 235.5 1152 237C1148.8 238.5 1145.1 241.5 1143 244C1140.9 246.5 1139.6 249 1139.6 252C1139.6 255 1140.9 259.3 1143 262C1145.1 264.7 1148.8 266.7 1152 268C1155.2 269.3 1160.1 269.7 1162.4 270C1164.7 270.3 1165.4 270 1166 270L1166 235Z" fill="#80ff66"/>
<path d="M1166 240C1165.4 240 1164.6 239.3 1162.4 240C1160.2 240.7 1155.6 242.2 1153 244C1150.4 245.8 1147.3 248.5 1147 251C1146.7 253.5 1148.4 257 1151 259C1153.6 261 1159.9 262.3 1162.4 263C1164.9 263.7 1165.4 263 1166 263L1166 240Z" fill="#00ff00"/>
<path d="M1166 296C1165.4 296 1164.1 295.3 1162.4 296C1160.7 296.7 1157.6 298.7 1156 300C1154.4 301.3 1152.8 302.5 1153 304C1153.2 305.5 1155.4 307.7 1157 309C1158.6 310.3 1160.9 311.5 1162.4 312C1163.9 312.5 1165.4 312 1166 312L1166 296Z" fill="#80ff66"/>
<path d="M1002 200C1002.7 197.7 1004.7 193.8 1008 192C1011.3 190.2 1017.3 189 1022 189C1026.7 189 1032.8 190.2 1036 192C1039.2 193.8 1041 197 1041 200C1041 203 1038.8 207.5 1036 210C1033.2 212.5 1028 214.8 1024 215C1020 215.2 1015.3 212.5 1012 211C1008.7 209.5 1005.7 207.8 1004 206C1002.3 204.2 1001.3 202.3 1002 200Z" fill="none" stroke="#ff5050" stroke-width="0.6"/>
</g>
<text x="1037" y="58.7" font-size="25" text-anchor="middle">HT-29</text>
<g font-size="20" text-anchor="end" stroke="#000" stroke-width="0.25">
<text x="920" y="84">50</text>
<text x="920" y="108.6">25</text>
<text x="920" y="133.3">12</text>
<text x="920" y="157.9">10</text>
<text x="920" y="182.6">8</text>
<text x="920" y="207.2">6</text>
<text x="920" y="231.8">4</text>
<text x="920" y="256.5">2</text>
<text x="920" y="281.1">1</text>
<text x="920" y="305.8">0.1</text>
<text x="920" y="330.4">0.01</text>
<text x="920" y="355">0</text>
</g>
<g font-size="20" text-anchor="middle" stroke="#000" stroke-width="0.25">
<text x="925.6" y="370">0</text>
<text x="954.4" y="370">2</text>
<text x="984.3" y="370">4</text>
<text x="1013.7" y="370">6</text>
<text x="1043.4" y="370">8</text>
<text x="1078.8" y="370">10</text>
<text x="1119.3" y="370">15</text>
<text x="1159.8" y="370">25</text>
</g>
<clipPath id="hc4"><rect x="1211" y="80.6" width="238.4" height="270.4"/></clipPath>
<g clip-path="url(#hc4)">
<rect x="1211" y="80.6" width="238.4" height="270.4" fill="#dcffcb"/>
<path d="M1294 77C1294 77.6 1293.3 78.8 1294 80.6C1294.7 82.4 1295.7 85.9 1298 88C1300.3 90.1 1304.7 91.7 1308 93C1311.3 94.3 1315.3 94.5 1318 96C1320.7 97.5 1322 99.7 1324 102C1326 104.3 1327.7 107.7 1330 110C1332.3 112.3 1335 114.6 1338 115.6C1341 116.6 1344.7 116.6 1348 116C1351.3 115.4 1355.3 114 1358 112C1360.7 110 1362 106.5 1364 104C1366 101.5 1367 98.8 1370 97C1373 95.2 1378 94.5 1382 93C1386 91.5 1390.3 90.1 1394 88C1397.7 85.9 1402.3 82.4 1404 80.6C1405.7 78.8 1404 77.6 1404 77L1294 77Z" fill="#ffcdbf"/>
<path d="M1336 77C1336 77.6 1335.7 78.9 1336 80.6C1336.3 82.3 1336.3 85.5 1338 87C1339.7 88.5 1343 89.5 1346 89.6C1349 89.7 1353.8 89.1 1356 87.6C1358.2 86.1 1358.5 82.4 1359 80.6C1359.5 78.8 1359 77.6 1359 77L1336 77Z" fill="#dcffcb"/>
<path d="M1207 129C1207.7 129 1209.2 129.3 1211 129C1212.8 128.7 1215.5 126.2 1218 127C1220.5 127.8 1223.7 131.5 1226 134C1228.3 136.5 1230.2 139.2 1232 142C1233.8 144.8 1236.5 148.3 1237 151C1237.5 153.7 1236.2 155.8 1235 158C1233.8 160.2 1231 162 1230 164C1229 166 1228.3 168.2 1229 170C1229.7 171.8 1231.5 173.7 1234 175C1236.5 176.3 1240 177.4 1244 178C1248 178.6 1253 178.2 1258 178.4C1263 178.6 1269.3 178.6 1274 179C1278.7 179.4 1282.7 179.8 1286 181C1289.3 182.2 1291.7 183.8 1294 186C1296.3 188.2 1298 191.7 1300 194C1302 196.3 1304 198.5 1306 200C1308 201.5 1309.8 203.2 1312 203C1314.2 202.8 1316.7 201.2 1319 199C1321.3 196.8 1323.8 193 1326 190C1328.2 187 1329.3 183.1 1332 181C1334.7 178.9 1338.3 177.9 1342 177.6C1345.7 177.3 1350 178.1 1354 179C1358 179.9 1361.7 181.8 1366 183C1370.3 184.2 1375.3 185.8 1380 186C1384.7 186.2 1389 185.2 1394 184C1399 182.8 1405 180.3 1410 179C1415 177.7 1419.3 176.3 1424 176C1428.7 175.7 1433.8 176.7 1438 177C1442.2 177.3 1446.9 177.8 1449.4 178C1451.9 178.2 1452.4 178 1453 178L1453 304C1452.4 304 1452.6 304.5 1449.4 304C1446.2 303.5 1438.9 302 1434 301C1429.1 300 1424.7 298.7 1420 298C1415.3 297.3 1410.3 297.5 1406 297C1401.7 296.5 1398 295.5 1394 295C1390 294.5 1385.7 293.7 1382 294C1378.3 294.3 1375.3 295.5 1372 297C1368.7 298.5 1365 301.2 1362 303C1359 304.8 1356.7 306.9 1354 308C1351.3 309.1 1348.7 309.8 1346 309.6C1343.3 309.4 1340.7 308.4 1338 307C1335.3 305.6 1332.7 303 1330 301C1327.3 299 1324.7 296.7 1322 295C1319.3 293.3 1317 292 1314 291C1311 290 1307.3 289.2 1304 289C1300.7 288.8 1296.3 289 1294 290C1291.7 291 1291.3 293.2 1290 295C1288.7 296.8 1287.7 299.5 1286 301C1284.3 302.5 1282 303.8 1280 304C1278 304.2 1276.3 302.7 1274 302C1271.7 301.3 1270 300.4 1266 300C1262 299.6 1255.3 299.9 1250 299.6C1244.7 299.3 1239 298.5 1234 298.4C1229 298.3 1223.8 298.6 1220 299C1216.2 299.4 1213.2 300.7 1211 301C1208.8 301.3 1207.7 301 1207 301L1207 129Z" fill="#ffcdbf"/>
<path d="M1207 158C1207.7 158 1209.9 156.7 1211 158C1212.1 159.3 1213.6 163.3 1213.6 166C1213.6 168.7 1212.1 172.7 1211 174C1209.9 175.3 1207.7 174 1207 174L1207 158Z" fill="#dcffcb"/>
<path d="M1453 218L1453 275C1452.4 275.2 1451.2 274.8 1449.4 276C1447.6 277.2 1445.2 280.3 1442 282C1438.8 283.7 1434 285.3 1430 286C1426 286.7 1422 286.9 1418 286.4C1414 285.9 1410 284.6 1406 283C1402 281.4 1398.3 279.5 1394 277C1389.7 274.5 1384.7 270.8 1380 268C1375.3 265.2 1370.3 262.5 1366 260C1361.7 257.5 1357.2 254.5 1354 253C1350.8 251.5 1349.3 250.7 1347 251C1344.7 251.3 1342.5 253.5 1340 255C1337.5 256.5 1335.3 258.5 1332 260C1328.7 261.5 1324.3 263.2 1320 264C1315.7 264.8 1311 264.7 1306 265C1301 265.3 1294.7 265.5 1290 266C1285.3 266.5 1281.3 267 1278 268C1274.7 269 1272.3 270 1270 272C1267.7 274 1266.3 277.7 1264 280C1261.7 282.3 1259 284.6 1256 286C1253 287.4 1249.3 288.4 1246 288.4C1242.7 288.4 1238.7 287.2 1236 286C1233.3 284.8 1231.3 283 1230 281C1228.7 279 1228 276.5 1228 274C1228 271.5 1228.7 268.3 1230 266C1231.3 263.7 1233.8 261.7 1236 260C1238.2 258.3 1241 257.7 1243 256C1245 254.3 1246.8 252.7 1248 250C1249.2 247.3 1249 243.3 1250 240C1251 236.7 1252 233 1254 230C1256 227 1258.7 224.2 1262 222C1265.3 219.8 1269.3 218.1 1274 217C1278.7 215.9 1284 215.9 1290 215.6C1296 215.3 1304 215.4 1310 215C1316 214.6 1321.3 213.8 1326 213C1330.7 212.2 1334 210.7 1338 210C1342 209.3 1345.3 209 1350 209C1354.7 209 1360.7 209.5 1366 210C1371.3 210.5 1376.7 212 1382 212C1387.3 212 1392.7 210.4 1398 210C1403.3 209.6 1408.7 209.4 1414 209.6C1419.3 209.8 1425.3 210.3 1430 211C1434.7 211.7 1438.8 213 1442 214C1445.2 215 1447.6 216.3 1449.4 217C1451.2 217.7 1452.4 217.8 1453 218Z" fill="#ff694b"/>
<path d="M1271 250C1271.5 248 1273.5 244.2 1276 242C1278.5 239.8 1282 238.5 1286 237C1290 235.5 1295.7 234.2 1300 233C1304.3 231.8 1308.7 229.4 1312 229.6C1315.3 229.8 1319.7 232.1 1320 234C1320.3 235.9 1316.7 238.8 1314 241C1311.3 243.2 1307.7 245 1304 247C1300.3 249 1296 251.5 1292 253C1288 254.5 1283.2 255.8 1280 256C1276.8 256.2 1274.5 255 1273 254C1271.5 253 1270.5 252 1271 250Z" fill="#ff0000"/>
<path d="M1395 240C1395.2 237.8 1395.8 235.2 1398 234C1400.2 232.8 1404.7 232.8 1408 233C1411.3 233.2 1415 233.5 1418 235C1421 236.5 1424.2 239.2 1426 242C1427.8 244.8 1428.8 248.7 1429 252C1429.2 255.3 1428.2 259.3 1427 262C1425.8 264.7 1424 266.7 1422 268C1420 269.3 1417.3 270.7 1415 270C1412.7 269.3 1410.2 266.3 1408 264C1405.8 261.7 1403.8 258.8 1402 256C1400.2 253.2 1398.2 249.7 1397 247C1395.8 244.3 1394.8 242.2 1395 240Z" fill="#ff0000"/>
<path d="M1266.6 324.4C1266.6 326.8 1265.6 329.5 1264 331.6C1262.3 333.7 1259.6 335.7 1256.8 336.9C1254 338.1 1250.3 338.8 1247 338.8C1243.7 338.8 1240 338.1 1237.2 336.9C1234.4 335.7 1231.7 333.7 1230 331.6C1228.4 329.5 1227.4 326.8 1227.4 324.4C1227.4 322 1228.4 319.3 1230 317.2C1231.7 315.1 1234.4 313.1 1237.2 311.9C1240 310.7 1243.7 310 1247 310C1250.3 310 1254 310.7 1256.8 311.9C1259.6 313.1 1262.3 315.1 1264 317.2C1265.6 319.3 1266.6 322 1266.6 324.4Z" fill="#80ff66"/>
</g>
<text x="1332.3" y="58.7" font-size="25" text-anchor="middle">PDAC056T</text>
<g font-size="20" text-anchor="end" stroke="#000" stroke-width="0.25">
<text x="1210" y="84">50</text>
<text x="1210" y="108.6">25</text>
<text x="1210" y="133.3">12</text>
<text x="1210" y="157.9">10</text>
<text x="1210" y="182.6">8</text>
<text x="1210" y="207.2">6</text>
<text x="1210" y="231.8">4</text>
<text x="1210" y="256.5">2</text>
<text x="1210" y="281.1">1</text>
<text x="1210" y="305.8">0.1</text>
<text x="1210" y="330.4">0.01</text>
<text x="1210" y="355">0</text>
</g>
<g font-size="20" text-anchor="middle" stroke="#000" stroke-width="0.25">
<text x="1215.6" y="370">0</text>
<text x="1244.4" y="370">2</text>
<text x="1274.3" y="370">4</text>
<text x="1303.7" y="370">6</text>
<text x="1333.4" y="370">8</text>
<text x="1368.8" y="370">10</text>
<text x="1409.3" y="370">15</text>
<text x="1449.8" y="370">25</text>
</g>
<clipPath id="hc5"><rect x="1496" y="80.6" width="236" height="265"/></clipPath>
<g clip-path="url(#hc5)">
<rect x="1496" y="80.6" width="236" height="265" fill="#dcffcb"/>
<path d="M1492 77L1560 77C1560 77.6 1558.7 78.8 1560 80.6C1561.3 82.4 1565.3 85.6 1568 88C1570.7 90.4 1573.7 92.7 1576 95C1578.3 97.3 1581.4 99.8 1581.6 102C1581.8 104.2 1579.3 106.2 1577 108C1574.7 109.8 1571.5 111.7 1568 113C1564.5 114.3 1559.3 115.9 1556 116C1552.7 116.1 1550.3 114.9 1548 113.6C1545.7 112.3 1543.7 110.4 1542 108C1540.3 105.6 1539.7 101.5 1538 99C1536.3 96.5 1534.3 94.7 1532 93C1529.7 91.3 1527 89.7 1524 89C1521 88.3 1517.3 88.4 1514 89C1510.7 89.6 1507 92.6 1504 92.4C1501 92.2 1498 88.9 1496 88C1494 87.1 1492.7 87.2 1492 87L1492 77Z" fill="#ffcdbf"/>
<path d="M1628 102C1627.3 100.4 1629.3 98.4 1632 97C1634.7 95.6 1639.3 94.4 1644 93.6C1648.7 92.8 1655.8 92.2 1660 92.4C1664.2 92.6 1667.2 93.7 1669 95C1670.8 96.3 1671.5 98.3 1671 100C1670.5 101.7 1669.5 103.8 1666 105C1662.5 106.2 1655 106.8 1650 107C1645 107.2 1639.7 107.2 1636 106.4C1632.3 105.6 1628.7 103.6 1628 102Z" fill="#ffcdbf"/>
<path d="M1689 77C1689 77.6 1687.8 79.4 1689 80.6C1690.2 81.8 1692.5 83.7 1696 84.4C1699.5 85.1 1705.3 85.2 1710 85C1714.7 84.8 1720.3 83.7 1724 83C1727.7 82.3 1730.7 81.6 1732 80.6C1733.3 79.6 1732 77.6 1732 77L1689 77Z" fill="#ffcdbf"/>
<path d="M1492 153C1492.7 153 1494 153.5 1496 153C1498 152.5 1502.5 148.5 1504 150C1505.5 151.5 1504.3 158.7 1505 162C1505.7 165.3 1506.7 167 1508 170C1509.3 173 1511.5 177 1513 180C1514.5 183 1516.8 185.7 1517 188C1517.2 190.3 1515.8 192 1514 194C1512.2 196 1508.3 198.7 1506 200C1503.7 201.3 1501.7 202 1500 202C1498.3 202 1497.3 200.3 1496 200C1494.7 199.7 1492.7 200 1492 200L1492 153Z" fill="#ffcdbf"/>
<path d="M1532 187C1532 184.5 1535.7 180.7 1538 178C1540.3 175.3 1543 172.6 1546 171C1549 169.4 1552.3 168.4 1556 168.4C1559.7 168.4 1564.3 169.2 1568 171C1571.7 172.8 1574.7 176.2 1578 179C1581.3 181.8 1584.3 185.2 1588 188C1591.7 190.8 1599.7 194.3 1600 195.6C1600.3 196.9 1593.7 195.4 1590 196C1586.3 196.6 1581.7 197.7 1578 199C1574.3 200.3 1571.3 203.2 1568 204C1564.7 204.8 1561.7 204.6 1558 203.6C1554.3 202.6 1549.3 199.8 1546 198C1542.7 196.2 1540.3 194.8 1538 193C1535.7 191.2 1532 189.5 1532 187Z" fill="#ffcdbf"/>
<path d="M1736 190L1736 276C1735.3 276.2 1734.7 275.8 1732 277C1729.3 278.2 1724.3 281.5 1720 283C1715.7 284.5 1711 285 1706 286C1701 287 1696 288 1690 289C1684 290 1676.7 291.2 1670 292C1663.3 292.8 1656.7 293.8 1650 293.6C1643.3 293.4 1636.7 292.1 1630 291C1623.3 289.9 1616.7 288.3 1610 287C1603.3 285.7 1596 284 1590 283C1584 282 1578.3 281 1574 281C1569.7 281 1566 281.2 1564 283C1562 284.8 1563 289.5 1562 292C1561 294.5 1560.7 297 1558 298C1555.3 299 1550.7 298.2 1546 298C1541.3 297.8 1535 296.8 1530 297C1525 297.2 1520.3 298.4 1516 299C1511.7 299.6 1507.3 300.6 1504 300.4C1500.7 300.2 1498 298.4 1496 298C1494 297.6 1492.7 298 1492 298L1492 223C1492.7 223 1494.3 224 1496 223C1497.7 222 1499 218.2 1502 217C1505 215.8 1509.3 215.8 1514 216C1518.7 216.2 1524 217.6 1530 218C1536 218.4 1543.3 218.2 1550 218.4C1556.7 218.6 1563.3 218.7 1570 219C1576.7 219.3 1583.3 219.7 1590 220C1596.7 220.3 1603.3 221 1610 221C1616.7 221 1623.3 220.3 1630 220C1636.7 219.7 1643.3 219.5 1650 219C1656.7 218.5 1664.3 218 1670 217C1675.7 216 1680 214.2 1684 213C1688 211.8 1691.7 211 1694 210C1696.3 209 1698 208.7 1698 207C1698 205.3 1696 201.7 1694 200C1692 198.3 1689 197.3 1686 197C1683 196.7 1679.3 197.3 1676 198C1672.7 198.7 1669.3 200.8 1666 201C1662.7 201.2 1659.3 199.5 1656 199C1652.7 198.5 1649.7 197.5 1646 198C1642.3 198.5 1637.7 201.7 1634 202C1630.3 202.3 1627 201.2 1624 200C1621 198.8 1618.2 196.8 1616 195C1613.8 193.2 1610.7 191.2 1611 189C1611.3 186.8 1614.8 183.8 1618 182C1621.2 180.2 1626 178.5 1630 178C1634 177.5 1638 178.5 1642 179C1646 179.5 1650 180.3 1654 181C1658 181.7 1662 182.8 1666 183C1670 183.2 1674.3 183.4 1678 182.4C1681.7 181.4 1684.7 178.7 1688 177C1691.3 175.3 1694.7 172.7 1698 172C1701.3 171.3 1704.3 171.7 1708 173C1711.7 174.3 1716 177.3 1720 180C1724 182.7 1729.3 187.3 1732 189C1734.7 190.7 1735.3 189.8 1736 190Z" fill="#ffcdbf"/>
<path d="M1566 349C1566 348.4 1565 347.1 1566 345.6C1567 344.1 1570.2 342.6 1572 340C1573.8 337.4 1575 332.3 1577 330C1579 327.7 1581.5 326.9 1584 326.4C1586.5 325.9 1590 326.1 1592 327C1594 327.9 1595.5 329.8 1596 332C1596.5 334.2 1594.9 337.7 1595 340C1595.1 342.3 1596.2 344.1 1596.4 345.6C1596.6 347.1 1596.4 348.4 1596.4 349L1566 349Z" fill="#ffcdbf"/>
<path d="M1507.6 270C1507.9 267.2 1508.3 263 1510 260C1511.7 257 1514.7 254.7 1518 252C1521.3 249.3 1526 246.3 1530 244C1534 241.7 1537.3 239.7 1542 238C1546.7 236.3 1552 234.9 1558 234C1564 233.1 1570.7 232.7 1578 232.4C1585.3 232.1 1594 232.1 1602 232C1610 231.9 1618 231.8 1626 231.6C1634 231.4 1642.7 231 1650 231C1657.3 231 1663.7 230.9 1670 231.6C1676.3 232.3 1682.7 233.3 1688 235C1693.3 236.7 1698.3 239.2 1702 242C1705.7 244.8 1708.3 248.7 1710 252C1711.7 255.3 1712.5 258.7 1712 262C1711.5 265.3 1709.7 269.3 1707 272C1704.3 274.7 1700.5 276.5 1696 278C1691.5 279.5 1686 280.4 1680 281C1674 281.6 1666.7 281.8 1660 281.6C1653.3 281.4 1646.7 280.8 1640 280C1633.3 279.2 1626.7 278.2 1620 277C1613.3 275.8 1606.3 274.2 1600 273C1593.7 271.8 1587.3 270.7 1582 270C1576.7 269.3 1572 268.8 1568 269C1564 269.2 1561 269.5 1558 271C1555 272.5 1552.3 275.7 1550 278C1547.7 280.3 1546.7 283.3 1544 285C1541.3 286.7 1537.7 287.6 1534 288C1530.3 288.4 1525.7 288.4 1522 287.6C1518.3 286.8 1514.3 284.8 1512 283C1509.7 281.2 1508.7 279.2 1508 277C1507.3 274.8 1507.3 272.8 1507.6 270Z" fill="#ff694b"/>
<path d="M1517 270C1517 267.5 1518.8 264.2 1521 262C1523.2 259.8 1526.8 258.3 1530 257C1533.2 255.7 1537 255.3 1540 254C1543 252.7 1545.3 250.7 1548 249C1550.7 247.3 1552.3 245.2 1556 244C1559.7 242.8 1564.3 242.5 1570 242C1575.7 241.5 1583.3 241.3 1590 241C1596.7 240.7 1603.3 240.3 1610 240C1616.7 239.7 1623.3 239.3 1630 239C1636.7 238.7 1643.3 238 1650 238C1656.7 238 1664.7 238.2 1670 239C1675.3 239.8 1678.7 241 1682 243C1685.3 245 1688.5 248.3 1690 251C1691.5 253.7 1691.7 256.5 1691 259C1690.3 261.5 1688.8 264.2 1686 266C1683.2 267.8 1679.3 268.9 1674 269.6C1668.7 270.3 1660.7 270.3 1654 270C1647.3 269.7 1640.7 268.8 1634 268C1627.3 267.2 1620.7 266.2 1614 265C1607.3 263.8 1600.7 262.2 1594 261C1587.3 259.8 1579.7 258.6 1574 258C1568.3 257.4 1563.7 257.3 1560 257.6C1556.3 257.9 1554.3 258.6 1552 260C1549.7 261.4 1547.7 263.8 1546 266C1544.3 268.2 1543.7 270.8 1542 273C1540.3 275.2 1538.3 277.8 1536 279C1533.7 280.2 1530.5 280.7 1528 280.4C1525.5 280.1 1522.8 278.7 1521 277C1519.2 275.3 1517 272.5 1517 270Z" fill="#ff0000"/>
<path d="M1716.6 312C1716.6 314.3 1715.8 317 1714.5 319C1713.2 321 1711.1 323 1708.8 324.1C1706.5 325.3 1703.6 326 1701 326C1698.4 326 1695.5 325.3 1693.2 324.1C1690.9 323 1688.8 321 1687.5 319C1686.2 317 1685.4 314.3 1685.4 312C1685.4 309.7 1686.2 307 1687.5 305C1688.8 303 1690.9 301 1693.2 299.9C1695.5 298.7 1698.4 298 1701 298C1703.6 298 1706.5 298.7 1708.8 299.9C1711.1 301 1713.2 303 1714.5 305C1715.8 307 1716.6 309.7 1716.6 312Z" fill="#80ff66"/>
<path d="M1623 252C1622.8 250.5 1623.8 248.9 1627 248C1630.2 247.1 1636.8 246.8 1642 246.4C1647.2 246 1653.5 245.3 1658 245.6C1662.5 245.9 1666.4 246.8 1669 248C1671.6 249.2 1673.6 251.2 1673.6 253C1673.6 254.8 1671.9 257.6 1669 259C1666.1 260.4 1660.8 261.4 1656 261.6C1651.2 261.8 1644.7 260.8 1640 260C1635.3 259.2 1630.8 258.3 1628 257C1625.2 255.7 1623.2 253.5 1623 252Z" fill="none" stroke="#ff5050" stroke-width="0.6"/>
</g>
<text x="1606.5" y="58.7" font-size="25" text-anchor="middle">PDAC088T</text>
<g font-size="20" text-anchor="end" stroke="#000" stroke-width="0.25">
<text x="1492.6" y="84">50</text>
<text x="1492.6" y="108.6">25</text>
<text x="1492.6" y="133.3">12</text>
<text x="1492.6" y="157.9">10</text>
<text x="1492.6" y="182.6">8</text>
<text x="1492.6" y="207.2">6</text>
<text x="1492.6" y="231.8">4</text>
<text x="1492.6" y="256.5">2</text>
<text x="1492.6" y="281.1">1</text>
<text x="1492.6" y="305.8">0.1</text>
<text x="1492.6" y="330.4">0.01</text>
<text x="1492.6" y="355">0</text>
</g>
<g font-size="20" text-anchor="middle" stroke="#000" stroke-width="0.25">
<text x="1499.6" y="370">0</text>
<text x="1528.4" y="370">2</text>
<text x="1558.3" y="370">4</text>
<text x="1587.7" y="370">6</text>
<text x="1617.4" y="370">8</text>
<text x="1652.8" y="370">10</text>
<text x="1693.3" y="370">15</text>
<text x="1733.8" y="370">25</text>
</g>
<linearGradient id="cb" x1="0" y1="0" x2="0" y2="1"><stop offset="0" stop-color="#ff0000"/><stop offset="0.1667" stop-color="#ff0000"/><stop offset="0.25" stop-color="#ff694b"/><stop offset="0.3333" stop-color="#ff9c85"/><stop offset="0.4167" stop-color="#ffcdbf"/><stop offset="0.5" stop-color="#ffffff"/><stop offset="0.5833" stop-color="#dcffcb"/><stop offset="0.6667" stop-color="#b4ff9c"/><stop offset="0.75" stop-color="#80ff66"/><stop offset="0.8333" stop-color="#00ff00"/><stop offset="1" stop-color="#00ff00"/></linearGradient>
<rect x="1763" y="70.2" width="41" height="270" fill="url(#cb)"/>
<path d="M1763 70.8 h7.5 M1796.5 70.8 h7.5" stroke="#fff" stroke-width="0.8"/>
<path d="M1763 115.5 h7.5 M1796.5 115.5 h7.5" stroke="#fff" stroke-width="0.8"/>
<path d="M1763 160.2 h7.5 M1796.5 160.2 h7.5" stroke="#fff" stroke-width="0.8"/>
<path d="M1763 204.9 h7.5 M1796.5 204.9 h7.5" stroke="#fff" stroke-width="0.8"/>
<path d="M1763 249.6 h7.5 M1796.5 249.6 h7.5" stroke="#fff" stroke-width="0.8"/>
<path d="M1763 294.3 h7.5 M1796.5 294.3 h7.5" stroke="#fff" stroke-width="0.8"/>
<path d="M1763 339 h7.5 M1796.5 339 h7.5" stroke="#fff" stroke-width="0.8"/>
<g font-size="20" stroke="#000" stroke-width="0.25">
<text x="1812.5" y="77.1">30</text>
<text x="1812.5" y="121.8">20</text>
<text x="1812.5" y="166.5">10</text>
<text x="1812.5" y="211.2">0</text>
<text x="1812.5" y="255.9">-10</text>
<text x="1812.5" y="300.6">-20</text>
<text x="1812.5" y="345.3">-30</text>
</g>
<text x="1728.5" y="52.9" font-size="25">Synergy score</text>
</g>
<g id="panelB">

<text x="41.9" y="512.8" font-size="37.3">B</text>
<text transform="translate(336.5 559.7) rotate(0) scale(0.980 1)" font-size="30.4" text-anchor="middle">Sorafenib</text><rect x="175.8" y="573.9" width="324.1" height="6.2" fill="#000"/><text transform="translate(254.7 616.8) rotate(0) scale(0.990 1)" font-size="30.2" text-anchor="middle">Vehicle</text><text transform="translate(414.8 616.8) rotate(0) scale(0.990 1)" font-size="30.2" text-anchor="middle">6 µM</text>
<path d="M131 634.3L127.8 951.5" stroke="#000" stroke-width="5.6" fill="none"/><text transform="translate(117.3 790.8) rotate(-90) scale(0.912 1)" font-size="32.3" text-anchor="middle">LZX-2-73</text><text transform="translate(162.8 726) rotate(-90) scale(0.975 1)" font-size="31.2" text-anchor="middle">Vehicle</text><text transform="translate(162.8 874.8) rotate(-90) scale(0.975 1)" font-size="31.2" text-anchor="middle">6 µM</text>
<g><filter id="mf1" x="0" y="0" width="100%" height="100%" color-interpolation-filters="sRGB"><feTurbulence type="fractalNoise" baseFrequency="0.5" numOctaves="2" seed="1" result="n"/><feColorMatrix in="n" type="matrix" values="0.36 0 0 0 0.342 0.36 0 0 0 0.342 0.36 0 0 0 0.342 0 0 0 0 1" result="g"/></filter><rect x="176.1" y="632.1" width="158.8" height="157.4" filter="url(#mf1)"/><path d="M191.5 768.7v3.2H264.2v-3.2M227.9 771.9v-1.6" stroke="#d2c776" stroke-width="0.9" stroke-opacity="0.75" fill="none"/><g font-size="5" text-anchor="middle" opacity="0.7"><text x="191.5" y="767.5" style="fill:#d2c776">0</text><text x="227.9" y="767.5" style="fill:#d2c776">µm</text><text x="265.2" y="767.5" style="fill:#d2c776">400</text><text x="192.5" y="778.3" text-anchor="start" font-size="4.6" style="fill:#d2c776">1.75 x 1.28 mm, 2.37 mm²</text></g></g>
<g><filter id="mf2" x="0" y="0" width="100%" height="100%" color-interpolation-filters="sRGB"><feTurbulence type="fractalNoise" baseFrequency="0.48" numOctaves="2" seed="2" result="n"/><feColorMatrix in="n" type="matrix" values="0.27 0 0 0 0.387 0.27 0 0 0 0.387 0.27 0 0 0 0.387 0 0 0 0 1" result="g"/></filter><rect x="342" y="632.1" width="158.5" height="157.4" filter="url(#mf2)"/><path d="M357.4 768.7v3.2H430v-3.2M393.7 771.9v-1.6" stroke="#d2c776" stroke-width="0.9" stroke-opacity="0.75" fill="none"/><g font-size="5" text-anchor="middle" opacity="0.7"><text x="357.4" y="767.5" style="fill:#d2c776">0</text><text x="393.7" y="767.5" style="fill:#d2c776">µm</text><text x="431" y="767.5" style="fill:#d2c776">400</text><text x="358.4" y="778.3" text-anchor="start" font-size="4.6" style="fill:#d2c776">1.75 x 1.28 mm, 2.37 mm²</text></g></g>
<g><filter id="mf3" x="0" y="0" width="100%" height="100%" color-interpolation-filters="sRGB"><feTurbulence type="fractalNoise" baseFrequency="0.5" numOctaves="2" seed="3" result="n"/><feColorMatrix in="n" type="matrix" values="0.36 0 0 0 0.342 0.36 0 0 0 0.342 0.36 0 0 0 0.342 0 0 0 0 1" result="g"/></filter><rect x="176.1" y="798" width="158.8" height="158.3" filter="url(#mf3)"/><path d="M191.5 935.4v3.2H264.2v-3.2M227.9 938.6v-1.6" stroke="#d2c776" stroke-width="0.9" stroke-opacity="0.75" fill="none"/><g font-size="5" text-anchor="middle" opacity="0.7"><text x="191.5" y="934.2" style="fill:#d2c776">0</text><text x="227.9" y="934.2" style="fill:#d2c776">µm</text><text x="265.2" y="934.2" style="fill:#d2c776">400</text><text x="192.5" y="945" text-anchor="start" font-size="4.6" style="fill:#d2c776">1.75 x 1.28 mm, 2.37 mm²</text></g></g>
<g><filter id="mf4" x="0" y="0" width="100%" height="100%" color-interpolation-filters="sRGB"><feTurbulence type="fractalNoise" baseFrequency="0.55" numOctaves="1" seed="4" result="n"/><feColorMatrix in="n" type="matrix" values="0.1 0 0 0 0.472 0.1 0 0 0 0.472 0.1 0 0 0 0.472 0 0 0 0 1" result="g"/></filter><rect x="343.2" y="798" width="158.3" height="158.3" filter="url(#mf4)"/><clipPath id="mc4"><rect x="343.2" y="798" width="158.3" height="158.3"/></clipPath><g clip-path="url(#mc4)"><path d="M488.9 921.7L492.3 918.2M495.2 935.1L499.4 939.8M389.9 852.8L391.2 850.9M360.5 952L360.9 956.1M498.6 885.5L498.1 879.3M448.4 832.9L451.6 836.5M343.1 933.7L335.4 930M412 831.9L408.8 832.5M472.2 866.7L469.1 867.1M462.5 888.4L458.4 890.2M483.7 848.5L483.3 842M393 946.8L394 950.8M414.8 928.8L413.3 933.2" fill="none" stroke="#b4b4b4" stroke-width="1.6" stroke-opacity="0.3" stroke-linecap="round"/><path d="M488.9 921.7L492.3 918.2M495.2 935.1L499.4 939.8M389.9 852.8L391.2 850.9M360.5 952L360.9 956.1M498.6 885.5L498.1 879.3M448.4 832.9L451.6 836.5M343.1 933.7L335.4 930M412 831.9L408.8 832.5M472.2 866.7L469.1 867.1M462.5 888.4L458.4 890.2M483.7 848.5L483.3 842M393 946.8L394 950.8M414.8 928.8L413.3 933.2" fill="none" stroke="#686868" stroke-width="0.8" stroke-opacity="0.6" stroke-linecap="round"/><g fill="#666666" fill-opacity="0.6" stroke="#c2c2c2" stroke-width="1.1" stroke-opacity="0.5"><circle cx="381.6" cy="815.9" r="1.5"/><ellipse cx="486.8" cy="923.5" rx="3.4" ry="1.1" transform="rotate(137 486.8 923.5)"/><circle cx="444.1" cy="840.2" r="2"/><ellipse cx="493.5" cy="930.9" rx="5.6" ry="1.2" transform="rotate(67 493.5 930.9)"/><ellipse cx="478.7" cy="884.5" rx="5.9" ry="1.7" transform="rotate(54 478.7 884.5)"/><circle cx="423.6" cy="863.9" r="1.4"/><circle cx="470.6" cy="806.7" r="1.6"/><ellipse cx="417.9" cy="852.9" rx="3.3" ry="1.1" transform="rotate(179 417.9 852.9)"/><ellipse cx="387.8" cy="854.9" rx="3.8" ry="1.7" transform="rotate(134 387.8 854.9)"/><circle cx="478.2" cy="818.8" r="1.5"/><ellipse cx="357.9" cy="948.8" rx="5" ry="1.2" transform="rotate(51 357.9 948.8)"/><circle cx="450.1" cy="812" r="1.4"/><ellipse cx="437.6" cy="824.5" rx="3.9" ry="1.2" transform="rotate(103 437.6 824.5)"/><ellipse cx="499.1" cy="888.2" rx="3.3" ry="1" transform="rotate(79 499.1 888.2)"/><circle cx="435.1" cy="849.6" r="2.1"/><ellipse cx="445.7" cy="830.9" rx="4.2" ry="1.1" transform="rotate(36 445.7 830.9)"/><circle cx="350.1" cy="839.3" r="2"/><ellipse cx="367.1" cy="807.9" rx="4.6" ry="1.3" transform="rotate(167 367.1 807.9)"/><circle cx="446.1" cy="922" r="1.3"/><ellipse cx="480" cy="938.8" rx="3.8" ry="1.6" transform="rotate(166 480 938.8)"/><circle cx="470.9" cy="881.5" r="2"/><ellipse cx="492.8" cy="811.5" rx="6.1" ry="0.9" transform="rotate(174 492.8 811.5)"/><circle cx="364.9" cy="949.4" r="1.7"/><circle cx="433" cy="915.2" r="2"/><ellipse cx="347.2" cy="935.2" rx="5.5" ry="1.7" transform="rotate(20 347.2 935.2)"/><ellipse cx="471.5" cy="886.8" rx="5.9" ry="1" transform="rotate(141 471.5 886.8)"/><circle cx="362.6" cy="886.5" r="1.2"/><circle cx="480.8" cy="939.6" r="2.1"/><ellipse cx="415.2" cy="831.7" rx="4" ry="1.7" transform="rotate(175 415.2 831.7)"/><circle cx="477.6" cy="919.8" r="1.4"/><ellipse cx="474.3" cy="865.2" rx="3.2" ry="1.1" transform="rotate(143 474.3 865.2)"/><circle cx="346" cy="826" r="1.9"/><circle cx="437.9" cy="881.2" r="1.3"/><ellipse cx="373" cy="933.3" rx="2.8" ry="1.4" transform="rotate(0 373 933.3)"/><ellipse cx="465.9" cy="887.7" rx="4.4" ry="1.5" transform="rotate(168 465.9 887.7)"/><circle cx="412.1" cy="893.4" r="2"/><circle cx="375.7" cy="922.5" r="1.7"/><ellipse cx="484.7" cy="850.9" rx="3.2" ry="1.4" transform="rotate(66 484.7 850.9)"/><ellipse cx="492.3" cy="824.5" rx="4.4" ry="1.7" transform="rotate(105 492.3 824.5)"/><ellipse cx="494.6" cy="818" rx="5" ry="1.5" transform="rotate(117 494.6 818)"/><ellipse cx="391.9" cy="943.2" rx="4.8" ry="1.5" transform="rotate(73 391.9 943.2)"/><ellipse cx="414.9" cy="923.9" rx="6.1" ry="1.3" transform="rotate(91 414.9 923.9)"/><circle cx="401.4" cy="946.7" r="2.1"/><circle cx="497.6" cy="942" r="1.4"/><circle cx="379.5" cy="943.2" r="1.3"/></g></g><path d="M358.6 935.4v3.2H431.1v-3.2M394.8 938.6v-1.6" stroke="#d2c776" stroke-width="0.9" stroke-opacity="0.75" fill="none"/><g font-size="5" text-anchor="middle" opacity="0.7"><text x="358.6" y="934.2" style="fill:#d2c776">0</text><text x="394.8" y="934.2" style="fill:#d2c776">µm</text><text x="432.1" y="934.2" style="fill:#d2c776">400</text><text x="359.6" y="945" text-anchor="start" font-size="4.6" style="fill:#d2c776">1.75 x 1.28 mm, 2.37 mm²</text></g></g>
<g>
<text x="739.7" y="594.8" font-size="24" text-anchor="middle">MIA PaCa-2</text>
<g font-size="16">
<g fill="#848484" stroke="none"><path d="M588.6 618H609" stroke="#848484" stroke-width="1.1"/><circle cx="598.8" cy="618" r="4.35"/></g>
<text x="620" y="623.6">Control</text>
<g fill="#fdbe85" stroke="none"><path d="M588.6 640H609" stroke="#fdbe85" stroke-width="1.1"/><rect x="594.6" y="635.8" width="8.4" height="8.4"/></g>
<text x="620" y="645.6">Sorafenib 6µM</text>
<g fill="#bcbe1c" stroke="none"><path d="M588.6 661.8H609" stroke="#bcbe1c" stroke-width="1.1"/><path d="M598.8 656.9l4.7 8h-9.4z"/></g>
<text x="620" y="667.4">LZX-2-73 6µM</text>
<g fill="#f94144" stroke="none"><path d="M588.6 682H609" stroke="#f94144" stroke-width="1.1"/><path d="M598.8 686.9l4.7 -8h-9.4z"/></g>
<text x="620" y="687.6">Sorafenib + LZX-2-73</text>
</g>
<g fill="#f94144" stroke="none"><polyline points="583.9,881.6 598.3,878.2 612.8,876.9 627.3,875.6 641.7,873 656.2,874.8 670.7,875.1 685.2,870.4 699.6,871.2 714.1,871.2 728.6,870.6 743,874.3 757.5,870.4 772,868.5 786.5,867.2 800.9,869.6 815.4,870.4 829.9,873.8 844.3,871.2 858.8,871.7" fill="none" stroke="#f94144" stroke-width="1.1"/><path d="M583.9 886.5l4.7 -8h-9.4z"/><path d="M598.3 883.1l4.7 -8h-9.4z"/><path d="M612.8 881.8l4.7 -8h-9.4z"/><path d="M627.3 880.5l4.7 -8h-9.4z"/><path d="M641.7 877.9l4.7 -8h-9.4z"/><path d="M656.2 879.7l4.7 -8h-9.4z"/><path d="M670.7 880l4.7 -8h-9.4z"/><path d="M685.2 875.3l4.7 -8h-9.4z"/><path d="M699.6 876.1l4.7 -8h-9.4z"/><path d="M714.1 876.1l4.7 -8h-9.4z"/><path d="M728.6 875.5l4.7 -8h-9.4z"/><path d="M743 879.2l4.7 -8h-9.4z"/><path d="M757.5 875.3l4.7 -8h-9.4z"/><path d="M772 873.4l4.7 -8h-9.4z"/><path d="M786.5 872.1l4.7 -8h-9.4z"/><path d="M800.9 874.5l4.7 -8h-9.4z"/><path d="M815.4 875.3l4.7 -8h-9.4z"/><path d="M829.9 878.7l4.7 -8h-9.4z"/><path d="M844.3 876.1l4.7 -8h-9.4z"/><path d="M858.8 876.6l4.7 -8h-9.4z"/></g>
<g fill="#bcbe1c" stroke="none"><polyline points="583.9,878.2 598.3,871.7 612.8,863.8 627.3,857.3 641.7,849.4 656.2,841.6 670.7,832.4 685.2,825.1 699.6,811.4 714.1,804.1 728.6,792.6 743,782.6 757.5,776.9 772,762.2 786.5,755.1 800.9,750.4 815.4,746 829.9,742.6 844.3,740.2 858.8,738.6" fill="none" stroke="#bcbe1c" stroke-width="1.1"/><path d="M685.2 819.3V830.8M682.2 819.3h6M682.2 830.8h6" fill="none" stroke="#bcbe1c" stroke-width="1.1"/><path d="M583.9 873.3l4.7 8h-9.4z"/><path d="M598.3 866.8l4.7 8h-9.4z"/><path d="M612.8 858.9l4.7 8h-9.4z"/><path d="M627.3 852.4l4.7 8h-9.4z"/><path d="M641.7 844.5l4.7 8h-9.4z"/><path d="M656.2 836.7l4.7 8h-9.4z"/><path d="M670.7 827.5l4.7 8h-9.4z"/><path d="M685.2 820.2l4.7 8h-9.4z"/><path d="M699.6 806.5l4.7 8h-9.4z"/><path d="M714.1 799.2l4.7 8h-9.4z"/><path d="M728.6 787.7l4.7 8h-9.4z"/><path d="M743 777.7l4.7 8h-9.4z"/><path d="M757.5 772l4.7 8h-9.4z"/><path d="M772 757.3l4.7 8h-9.4z"/><path d="M786.5 750.2l4.7 8h-9.4z"/><path d="M800.9 745.5l4.7 8h-9.4z"/><path d="M815.4 741.1l4.7 8h-9.4z"/><path d="M829.9 737.7l4.7 8h-9.4z"/><path d="M844.3 735.3l4.7 8h-9.4z"/><path d="M858.8 733.7l4.7 8h-9.4z"/></g>
<g fill="#fdbe85" stroke="none"><polyline points="583.9,876.9 598.3,870.9 612.8,864.6 627.3,862.5 641.7,861.7 656.2,851.5 670.7,842.1 685.2,842.3 699.6,827.9 714.1,823.8 728.6,818 743,805.4 757.5,804.9 772,790 786.5,782.9 800.9,781.8 815.4,776.6 829.9,774.8 844.3,770.6 858.8,770.8" fill="none" stroke="#fdbe85" stroke-width="1.1"/><path d="M757.5 797V812.8M754.5 797h6M754.5 812.8h6" fill="none" stroke="#fdbe85" stroke-width="1.1"/><rect x="579.7" y="872.7" width="8.4" height="8.4"/><rect x="594.1" y="866.7" width="8.4" height="8.4"/><rect x="608.6" y="860.4" width="8.4" height="8.4"/><rect x="623.1" y="858.3" width="8.4" height="8.4"/><rect x="637.5" y="857.5" width="8.4" height="8.4"/><rect x="652" y="847.3" width="8.4" height="8.4"/><rect x="666.5" y="837.9" width="8.4" height="8.4"/><rect x="681" y="838.1" width="8.4" height="8.4"/><rect x="695.4" y="823.7" width="8.4" height="8.4"/><rect x="709.9" y="819.6" width="8.4" height="8.4"/><rect x="724.4" y="813.8" width="8.4" height="8.4"/><rect x="738.8" y="801.2" width="8.4" height="8.4"/><rect x="753.3" y="800.7" width="8.4" height="8.4"/><rect x="767.8" y="785.8" width="8.4" height="8.4"/><rect x="782.3" y="778.7" width="8.4" height="8.4"/><rect x="796.7" y="777.6" width="8.4" height="8.4"/><rect x="811.2" y="772.4" width="8.4" height="8.4"/><rect x="825.7" y="770.6" width="8.4" height="8.4"/><rect x="840.1" y="766.4" width="8.4" height="8.4"/><rect x="854.6" y="766.6" width="8.4" height="8.4"/></g>
<g fill="#848484" stroke="none"><polyline points="583.9,872.5 598.3,862 612.8,852.6 627.3,844.2 641.7,835 656.2,818.5 670.7,806.2 685.2,800.4 699.6,776.9 714.1,766.9 728.6,757.7 743,746 757.5,739.4 772,734.7 786.5,731 800.9,729.5 815.4,728.4 829.9,728.2 844.3,727.9 858.8,727.9" fill="none" stroke="#848484" stroke-width="1.1"/><circle cx="583.9" cy="872.5" r="4.35"/><circle cx="598.3" cy="862" r="4.35"/><circle cx="612.8" cy="852.6" r="4.35"/><circle cx="627.3" cy="844.2" r="4.35"/><circle cx="641.7" cy="835" r="4.35"/><circle cx="656.2" cy="818.5" r="4.35"/><circle cx="670.7" cy="806.2" r="4.35"/><circle cx="685.2" cy="800.4" r="4.35"/><circle cx="699.6" cy="776.9" r="4.35"/><circle cx="714.1" cy="766.9" r="4.35"/><circle cx="728.6" cy="757.7" r="4.35"/><circle cx="743" cy="746" r="4.35"/><circle cx="757.5" cy="739.4" r="4.35"/><circle cx="772" cy="734.7" r="4.35"/><circle cx="786.5" cy="731" r="4.35"/><circle cx="800.9" cy="729.5" r="4.35"/><circle cx="815.4" cy="728.4" r="4.35"/><circle cx="829.9" cy="728.2" r="4.35"/><circle cx="844.3" cy="727.9" r="4.35"/><circle cx="858.8" cy="727.9" r="4.35"/></g>
<path d="M583.9 708.8V913.7M575.3 912.8H874.1M575.3 727.6h8.6M575.3 820.1h8.6M583.9 912.8v8.4M656.1 912.8v8.4M728.7 912.8v8.4M800.7 912.8v8.4M873.3 912.8v8.4" fill="none" stroke="#000" stroke-width="1.8"/>
<g font-size="15" text-anchor="end">
<text x="573.4" y="732.9">100</text>
<text x="573.4" y="825.4">50</text>
<text x="573.4" y="918.1">0</text>
</g><g font-size="15" text-anchor="middle">
<text x="583.9" y="938">0</text>
<text x="656.1" y="938">20</text>
<text x="728.7" y="938">40</text>
<text x="800.7" y="938">60</text>
<text x="873.3" y="938">80</text>
</g>
<text x="728.7" y="961.5" font-size="16" text-anchor="middle">Time (Hours)</text>
<text transform="translate(539.3 811.4) rotate(-90)" font-size="16.8" text-anchor="middle">Phase Object Confluence (%)</text>
<text transform="translate(889.5 825.4) rotate(-90)" font-size="17.4" text-anchor="middle" letter-spacing="0.85" stroke="#000" stroke-width="0.45">***</text>
<text transform="translate(898.7 810.3) rotate(-90)" font-size="17.4" text-anchor="middle" letter-spacing="0.85" stroke="#000" stroke-width="0.45">*</text>
<text transform="translate(919.6 817.6) rotate(-90)" font-size="17.4" text-anchor="middle" letter-spacing="0.85" stroke="#000" stroke-width="0.45">**</text>
<path d="M865.7 768.7H874.1V870.4H865.7M882.7 736.8H891.1V871.7H882.7M899.5 726.6H908.1V871.7H899.5" fill="none" stroke="#000" stroke-width="2.1"/>
</g>
<text transform="translate(925.7 794) rotate(-90)" font-size="17.4" text-anchor="middle" letter-spacing="0.85" stroke="#000" stroke-width="0.45">***</text>
<text transform="translate(1174 560) rotate(0) scale(0.980 1)" font-size="30.4" text-anchor="middle">Sorafenib</text><rect x="1013.5" y="574.1" width="322.9" height="6.2" fill="#000"/><text transform="translate(1093.4 616.9) rotate(0) scale(0.990 1)" font-size="30.2" text-anchor="middle">Vehicle</text><text transform="translate(1252.6 616.9) rotate(0) scale(0.990 1)" font-size="30.2" text-anchor="middle">6 µM</text>
<path d="M967.7 633.9L965 950.8" stroke="#000" stroke-width="5.6" fill="none"/><text transform="translate(955.1 790.4) rotate(-90) scale(0.912 1)" font-size="32.3" text-anchor="middle">LZX-2-73</text><text transform="translate(1001.3 726) rotate(-90) scale(0.975 1)" font-size="31.2" text-anchor="middle">Vehicle</text><text transform="translate(1001.3 874.8) rotate(-90) scale(0.975 1)" font-size="31.2" text-anchor="middle">6 µM</text>
<g><filter id="mb5" x="0" y="0" width="100%" height="100%" color-interpolation-filters="sRGB"><feTurbulence type="fractalNoise" baseFrequency="0.55" numOctaves="1" seed="105" result="n"/><feColorMatrix in="n" type="matrix" values="0.1 0 0 0 0.472 0.1 0 0 0 0.472 0.1 0 0 0 0.472 0 0 0 0 1" result="g"/></filter><rect x="1016.4" y="629.5" width="158.4" height="158.2" filter="url(#mb5)"/><filter id="mf5" x="0" y="0" width="100%" height="100%" color-interpolation-filters="sRGB"><feTurbulence type="fractalNoise" baseFrequency="0.5" numOctaves="2" seed="5" result="n"/><feColorMatrix in="n" type="matrix" values="0.36 0 0 0 0.342 0.36 0 0 0 0.342 0.36 0 0 0 0.342 0 0 0 0 1" result="g"/><feTurbulence type="fractalNoise" baseFrequency="0.02" numOctaves="2" seed="36" result="p"/><feColorMatrix in="p" type="matrix" values="0 0 0 0 0 0 0 0 0 0 0 0 0 0 0 14 0 0 0 -6.58" result="m"/><feComposite in="g" in2="m" operator="in"/></filter><rect x="1016.4" y="629.5" width="158.4" height="158.2" filter="url(#mf5)"/><path d="M1031.8 766.8v3.2H1104.3v-3.2M1068 770v-1.6" stroke="#d2c776" stroke-width="0.9" stroke-opacity="0.75" fill="none"/><g font-size="5" text-anchor="middle" opacity="0.7"><text x="1031.8" y="765.6" style="fill:#d2c776">0</text><text x="1068" y="765.6" style="fill:#d2c776">µm</text><text x="1105.3" y="765.6" style="fill:#d2c776">400</text><text x="1032.8" y="776.4" text-anchor="start" font-size="4.6" style="fill:#d2c776">1.75 x 1.28 mm, 2.37 mm²</text></g></g>
<g><filter id="mf6" x="0" y="0" width="100%" height="100%" color-interpolation-filters="sRGB"><feTurbulence type="fractalNoise" baseFrequency="0.55" numOctaves="1" seed="6" result="n"/><feColorMatrix in="n" type="matrix" values="0.1 0 0 0 0.472 0.1 0 0 0 0.472 0.1 0 0 0 0.472 0 0 0 0 1" result="g"/></filter><rect x="1182.4" y="629.5" width="158.5" height="158.2" filter="url(#mf6)"/><clipPath id="mc6"><rect x="1182.4" y="629.5" width="158.5" height="158.2"/></clipPath><g clip-path="url(#mc6)"><defs><g id="cs6"><ellipse cx="1307" cy="758.2" rx="4" ry="2.7" transform="rotate(0 1307 758.2)"/><ellipse cx="1312.9" cy="756.9" rx="3.4" ry="2.1" transform="rotate(125 1312.9 756.9)"/><ellipse cx="1297.2" cy="695.3" rx="4.2" ry="3.4" transform="rotate(49 1297.2 695.3)"/><ellipse cx="1292.5" cy="743.9" rx="4.7" ry="3.7" transform="rotate(22 1292.5 743.9)"/><ellipse cx="1236.2" cy="645.9" rx="5.2" ry="4.4" transform="rotate(113 1236.2 645.9)"/><ellipse cx="1301.1" cy="739.6" rx="5.2" ry="3.3" transform="rotate(11 1301.1 739.6)"/><ellipse cx="1215.4" cy="732.6" rx="3.6" ry="3.1" transform="rotate(49 1215.4 732.6)"/><ellipse cx="1284" cy="739.1" rx="5.3" ry="4.7" transform="rotate(7 1284 739.1)"/><ellipse cx="1222.2" cy="697.8" rx="3.6" ry="2.3" transform="rotate(128 1222.2 697.8)"/><ellipse cx="1265.6" cy="649.5" rx="4.7" ry="3.3" transform="rotate(50 1265.6 649.5)"/><ellipse cx="1295.2" cy="747.1" rx="5.5" ry="4.4" transform="rotate(3 1295.2 747.1)"/><ellipse cx="1301.8" cy="695.8" rx="5.6" ry="4.4" transform="rotate(78 1301.8 695.8)"/><ellipse cx="1219.2" cy="700.3" rx="6" ry="3.7" transform="rotate(108 1219.2 700.3)"/><ellipse cx="1338.6" cy="646.3" rx="3.9" ry="3.3" transform="rotate(22 1338.6 646.3)"/><ellipse cx="1287.9" cy="768.7" rx="3.9" ry="3.3" transform="rotate(19 1287.9 768.7)"/><ellipse cx="1257.2" cy="740.3" rx="3.8" ry="2.3" transform="rotate(174 1257.2 740.3)"/><circle cx="1256" cy="733.5" r="2.3"/><circle cx="1223.2" cy="755.1" r="2.9"/><ellipse cx="1235.3" cy="711.2" rx="5.9" ry="5.2" transform="rotate(107 1235.3 711.2)"/><ellipse cx="1225.8" cy="704.7" rx="4" ry="2.6" transform="rotate(96 1225.8 704.7)"/><ellipse cx="1282.4" cy="703.6" rx="3.6" ry="2.3" transform="rotate(158 1282.4 703.6)"/><ellipse cx="1225.2" cy="710.4" rx="5.9" ry="4.8" transform="rotate(40 1225.2 710.4)"/><ellipse cx="1229.3" cy="632.5" rx="3.9" ry="2.4" transform="rotate(7 1229.3 632.5)"/><ellipse cx="1272.4" cy="736.7" rx="3.6" ry="3.2" transform="rotate(127 1272.4 736.7)"/><ellipse cx="1194" cy="661.2" rx="5.8" ry="4.5" transform="rotate(108 1194 661.2)"/><circle cx="1308" cy="712.4" r="2.5"/><ellipse cx="1299.2" cy="698.9" rx="4.6" ry="3.6" transform="rotate(36 1299.2 698.9)"/><ellipse cx="1228.4" cy="712.7" rx="4.7" ry="3.4" transform="rotate(17 1228.4 712.7)"/><ellipse cx="1292.8" cy="651.1" rx="5.4" ry="3.4" transform="rotate(158 1292.8 651.1)"/><ellipse cx="1225.4" cy="760.8" rx="4.7" ry="3.5" transform="rotate(5 1225.4 760.8)"/><ellipse cx="1205.6" cy="777" rx="5.7" ry="4.1" transform="rotate(112 1205.6 777)"/><ellipse cx="1216.8" cy="698.5" rx="5.4" ry="3.7" transform="rotate(93 1216.8 698.5)"/><circle cx="1302.8" cy="698.6" r="3.3"/><circle cx="1250.9" cy="773.7" r="2.3"/><circle cx="1253.6" cy="739.5" r="2.9"/><ellipse cx="1298.3" cy="742.1" rx="5.1" ry="3.4" transform="rotate(110 1298.3 742.1)"/><ellipse cx="1239.5" cy="650.8" rx="3.7" ry="2.4" transform="rotate(126 1239.5 650.8)"/><ellipse cx="1204.2" cy="685.5" rx="5.9" ry="3.9" transform="rotate(38 1204.2 685.5)"/><ellipse cx="1259.1" cy="649.2" rx="5.2" ry="4.6" transform="rotate(178 1259.1 649.2)"/><circle cx="1325.1" cy="696.1" r="2.8"/><ellipse cx="1253.9" cy="739" rx="5.3" ry="3.8" transform="rotate(83 1253.9 739)"/><ellipse cx="1265.7" cy="633" rx="5.4" ry="4.1" transform="rotate(169 1265.7 633)"/><ellipse cx="1284.1" cy="763.7" rx="3.6" ry="2.9" transform="rotate(38 1284.1 763.7)"/><circle cx="1256.4" cy="741.8" r="2.2"/><ellipse cx="1193.6" cy="731.9" rx="4.3" ry="3.4" transform="rotate(152 1193.6 731.9)"/><ellipse cx="1254.4" cy="744.4" rx="5.1" ry="4.1" transform="rotate(75 1254.4 744.4)"/><circle cx="1235.2" cy="639.4" r="2.8"/><ellipse cx="1202.9" cy="648.8" rx="5.9" ry="3.7" transform="rotate(7 1202.9 648.8)"/><ellipse cx="1288.8" cy="744" rx="4.7" ry="3.2" transform="rotate(113 1288.8 744)"/><circle cx="1266.8" cy="626.8" r="3"/><ellipse cx="1223.8" cy="753.4" rx="5" ry="4.5" transform="rotate(175 1223.8 753.4)"/><circle cx="1255.6" cy="776.8" r="2.3"/><ellipse cx="1284.9" cy="745.2" rx="3.6" ry="2.9" transform="rotate(87 1284.9 745.2)"/><ellipse cx="1290.5" cy="746.9" rx="3.5" ry="2.6" transform="rotate(118 1290.5 746.9)"/><circle cx="1197.9" cy="722.6" r="3.2"/><ellipse cx="1295" cy="697.7" rx="4.7" ry="4.2" transform="rotate(109 1295 697.7)"/><circle cx="1281.3" cy="705.6" r="3.2"/><circle cx="1287.3" cy="706.8" r="2.6"/><ellipse cx="1221.4" cy="730.5" rx="4.2" ry="2.6" transform="rotate(151 1221.4 730.5)"/><ellipse cx="1220.2" cy="694.4" rx="4.8" ry="4.1" transform="rotate(120 1220.2 694.4)"/><ellipse cx="1269" cy="630.6" rx="5.7" ry="4.9" transform="rotate(2 1269 630.6)"/><ellipse cx="1254.1" cy="737.6" rx="4.4" ry="3.6" transform="rotate(57 1254.1 737.6)"/><ellipse cx="1228" cy="709.1" rx="4.6" ry="3.1" transform="rotate(164 1228 709.1)"/><ellipse cx="1188.8" cy="664.4" rx="5.7" ry="3.7" transform="rotate(12 1188.8 664.4)"/><ellipse cx="1304.4" cy="706.8" rx="3.6" ry="3.2" transform="rotate(151 1304.4 706.8)"/><circle cx="1249.9" cy="734.4" r="2.5"/><ellipse cx="1283.2" cy="765.7" rx="6" ry="5" transform="rotate(129 1283.2 765.7)"/><ellipse cx="1307.3" cy="699.2" rx="5.1" ry="3.4" transform="rotate(86 1307.3 699.2)"/><ellipse cx="1218.6" cy="702.2" rx="4.6" ry="3.9" transform="rotate(117 1218.6 702.2)"/><ellipse cx="1296.6" cy="652.6" rx="5.9" ry="3.9" transform="rotate(95 1296.6 652.6)"/></g></defs><mask id="mm6" maskUnits="userSpaceOnUse" x="1182.4" y="629.5" width="158.5" height="158.2"><use href="#cs6" fill="#fff"/></mask><filter id="mi6" x="0" y="0" width="100%" height="100%" color-interpolation-filters="sRGB"><feTurbulence type="fractalNoise" baseFrequency="0.45" numOctaves="2" seed="13" result="n"/><feColorMatrix in="n" type="matrix" values="0.4 0 0 0 0.305 0.4 0 0 0 0.305 0.4 0 0 0 0.305 0 0 0 0 1" result="g"/></filter><g mask="url(#mm6)"><rect x="1182.4" y="629.5" width="158.5" height="158.2" filter="url(#mi6)"/></g><use href="#cs6" fill="none" stroke="#c8c8c8" stroke-width="1.3" stroke-opacity="0.42"/></g><path d="M1197.8 766.8v3.2H1270.4v-3.2M1234.1 770v-1.6" stroke="#d2c776" stroke-width="0.9" stroke-opacity="0.75" fill="none"/><g font-size="5" text-anchor="middle" opacity="0.7"><text x="1197.8" y="765.6" style="fill:#d2c776">0</text><text x="1234.1" y="765.6" style="fill:#d2c776">µm</text><text x="1271.4" y="765.6" style="fill:#d2c776">400</text><text x="1198.8" y="776.4" text-anchor="start" font-size="4.6" style="fill:#d2c776">1.75 x 1.28 mm, 2.37 mm²</text></g></g>
<g><filter id="mf7" x="0" y="0" width="100%" height="100%" color-interpolation-filters="sRGB"><feTurbulence type="fractalNoise" baseFrequency="0.55" numOctaves="1" seed="7" result="n"/><feColorMatrix in="n" type="matrix" values="0.1 0 0 0 0.472 0.1 0 0 0 0.472 0.1 0 0 0 0.472 0 0 0 0 1" result="g"/></filter><rect x="1016.4" y="796.3" width="158.4" height="157.7" filter="url(#mf7)"/><clipPath id="mc7"><rect x="1016.4" y="796.3" width="158.4" height="157.7"/></clipPath><g clip-path="url(#mc7)"><defs><g id="cs7"><ellipse cx="1068.4" cy="821.5" rx="3.8" ry="2.3" transform="rotate(137 1068.4 821.5)"/><circle cx="1072" cy="819.2" r="2.4"/><circle cx="1055.6" cy="883" r="2.3"/><ellipse cx="1164.7" cy="895.2" rx="3.6" ry="2.2" transform="rotate(149 1164.7 895.2)"/><ellipse cx="1169.1" cy="805.5" rx="4.3" ry="2.9" transform="rotate(36 1169.1 805.5)"/><ellipse cx="1106.5" cy="884.4" rx="3.8" ry="2.4" transform="rotate(146 1106.5 884.4)"/><circle cx="1075.9" cy="882.5" r="2.4"/><ellipse cx="1066.6" cy="819.3" rx="4.1" ry="3" transform="rotate(116 1066.6 819.3)"/><ellipse cx="1056.8" cy="825.9" rx="4.1" ry="2.5" transform="rotate(76 1056.8 825.9)"/><circle cx="1153.5" cy="910.4" r="2.9"/><ellipse cx="1036.6" cy="862.6" rx="4" ry="2.6" transform="rotate(125 1036.6 862.6)"/><ellipse cx="1166.9" cy="810.2" rx="3.5" ry="3" transform="rotate(80 1166.9 810.2)"/><ellipse cx="1072.5" cy="874.6" rx="4.1" ry="2.6" transform="rotate(23 1072.5 874.6)"/><circle cx="1091.6" cy="900.4" r="2.3"/><ellipse cx="1118.3" cy="950.9" rx="4.2" ry="2.9" transform="rotate(98 1118.3 950.9)"/><circle cx="1072" cy="942.9" r="3.1"/><circle cx="1094.6" cy="831.8" r="2.9"/><circle cx="1079.8" cy="939.2" r="3.4"/><circle cx="1080.4" cy="841" r="2.5"/><ellipse cx="1103.4" cy="906.9" rx="4.6" ry="3.7" transform="rotate(97 1103.4 906.9)"/><circle cx="1041.7" cy="825.4" r="2.8"/><circle cx="1093.3" cy="888.8" r="2.8"/><circle cx="1086.1" cy="899.2" r="3"/><ellipse cx="1100.1" cy="830.1" rx="4" ry="2.9" transform="rotate(174 1100.1 830.1)"/><circle cx="1079" cy="859.6" r="2.4"/><circle cx="1028" cy="808.7" r="2.7"/><circle cx="1070.9" cy="806.4" r="2.2"/><circle cx="1034.1" cy="854.2" r="2.3"/><circle cx="1113.2" cy="821.1" r="2.8"/><ellipse cx="1074.6" cy="817.2" rx="4.2" ry="3.8" transform="rotate(119 1074.6 817.2)"/><ellipse cx="1066.5" cy="820.5" rx="4" ry="3.3" transform="rotate(122 1066.5 820.5)"/><ellipse cx="1043.3" cy="801.8" rx="4.5" ry="3.4" transform="rotate(37 1043.3 801.8)"/><circle cx="1159.5" cy="914.8" r="2.9"/><ellipse cx="1032.5" cy="928.2" rx="3.4" ry="3" transform="rotate(91 1032.5 928.2)"/><circle cx="1100.6" cy="918" r="3"/><ellipse cx="1143.7" cy="949.7" rx="4.2" ry="3.6" transform="rotate(102 1143.7 949.7)"/><circle cx="1053.4" cy="877.9" r="3.1"/><circle cx="1073.3" cy="814.2" r="2.7"/><ellipse cx="1071.6" cy="922.6" rx="3.9" ry="2.8" transform="rotate(93 1071.6 922.6)"/><circle cx="1076.5" cy="886.6" r="2.7"/></g></defs><mask id="mm7" maskUnits="userSpaceOnUse" x="1016.4" y="796.3" width="158.4" height="157.7"><use href="#cs7" fill="#fff"/></mask><filter id="mi7" x="0" y="0" width="100%" height="100%" color-interpolation-filters="sRGB"><feTurbulence type="fractalNoise" baseFrequency="0.45" numOctaves="2" seed="14" result="n"/><feColorMatrix in="n" type="matrix" values="0.4 0 0 0 0.305 0.4 0 0 0 0.305 0.4 0 0 0 0.305 0 0 0 0 1" result="g"/></filter><g mask="url(#mm7)"><rect x="1016.4" y="796.3" width="158.4" height="157.7" filter="url(#mi7)"/></g><use href="#cs7" fill="none" stroke="#c8c8c8" stroke-width="1.3" stroke-opacity="0.42"/></g><path d="M1031.8 933.1v3.2H1104.3v-3.2M1068 936.3v-1.6" stroke="#d2c776" stroke-width="0.9" stroke-opacity="0.75" fill="none"/><g font-size="5" text-anchor="middle" opacity="0.7"><text x="1031.8" y="931.9" style="fill:#d2c776">0</text><text x="1068" y="931.9" style="fill:#d2c776">µm</text><text x="1105.3" y="931.9" style="fill:#d2c776">400</text><text x="1032.8" y="942.7" text-anchor="start" font-size="4.6" style="fill:#d2c776">1.75 x 1.28 mm, 2.37 mm²</text></g></g>
<g><filter id="mf8" x="0" y="0" width="100%" height="100%" color-interpolation-filters="sRGB"><feTurbulence type="fractalNoise" baseFrequency="0.55" numOctaves="1" seed="8" result="n"/><feColorMatrix in="n" type="matrix" values="0.1 0 0 0 0.472 0.1 0 0 0 0.472 0.1 0 0 0 0.472 0 0 0 0 1" result="g"/></filter><rect x="1182.4" y="795.5" width="158.5" height="158.5" filter="url(#mf8)"/><clipPath id="mc8"><rect x="1182.4" y="795.5" width="158.5" height="158.5"/></clipPath><g clip-path="url(#mc8)"><defs><g id="cs8"><circle cx="1219.4" cy="946.2" r="1.4"/><circle cx="1197.6" cy="835.7" r="2.7"/><circle cx="1214.5" cy="947.5" r="1.9"/><circle cx="1201.2" cy="838" r="1.2"/><circle cx="1194.6" cy="839.1" r="2.3"/><circle cx="1199.4" cy="923.3" r="1.8"/><circle cx="1201" cy="806.5" r="1.6"/><circle cx="1195.2" cy="922.9" r="2.4"/><circle cx="1267.8" cy="803.3" r="2.3"/><circle cx="1194.3" cy="916.3" r="1.6"/><circle cx="1320.1" cy="818.4" r="2.3"/><circle cx="1197.4" cy="916.8" r="2.5"/><circle cx="1214.9" cy="820.7" r="2"/><circle cx="1195.4" cy="937" r="2"/><circle cx="1218.4" cy="835.2" r="1.2"/><circle cx="1225.6" cy="862.9" r="1.8"/><circle cx="1322.1" cy="824.6" r="1.8"/><circle cx="1221.3" cy="952.1" r="1.7"/><circle cx="1212.7" cy="824.1" r="1.9"/><circle cx="1190.9" cy="935.1" r="1.3"/><circle cx="1206.9" cy="839.3" r="2.3"/><circle cx="1208.1" cy="942.2" r="1.9"/><circle cx="1194.2" cy="936.5" r="1.4"/><circle cx="1273" cy="912.4" r="1.7"/><circle cx="1184.9" cy="926.6" r="1.5"/><circle cx="1189.5" cy="946.6" r="2.3"/><circle cx="1274" cy="825" r="2.7"/><circle cx="1197.3" cy="891" r="1.9"/><circle cx="1208.3" cy="816.4" r="2.1"/><circle cx="1203.9" cy="865.4" r="2.3"/><circle cx="1257.2" cy="858.3" r="1.7"/><circle cx="1204.8" cy="807.6" r="1.5"/><circle cx="1194" cy="830.4" r="2"/><circle cx="1300.1" cy="890.2" r="2.4"/><circle cx="1261.9" cy="847.6" r="1.8"/><circle cx="1214.7" cy="842.2" r="1.6"/><circle cx="1213.1" cy="836.2" r="1.5"/><circle cx="1209.4" cy="845.2" r="2.4"/><circle cx="1234" cy="844.2" r="2.4"/><circle cx="1322.7" cy="898.1" r="1.4"/><circle cx="1242.9" cy="887.9" r="2.6"/><circle cx="1184.6" cy="942.4" r="2.2"/><circle cx="1296.9" cy="924.3" r="2.1"/><circle cx="1250.4" cy="873.2" r="2"/><circle cx="1225.9" cy="808.1" r="2.3"/><circle cx="1275.1" cy="819.4" r="2.4"/><circle cx="1226.7" cy="925" r="1.6"/><circle cx="1282.1" cy="835.3" r="1.6"/><circle cx="1193.9" cy="826.1" r="2.4"/><circle cx="1312.6" cy="854.3" r="2.4"/><circle cx="1244.3" cy="898.6" r="2.4"/><circle cx="1326.6" cy="919" r="1.4"/><circle cx="1290.2" cy="810.9" r="1.9"/><circle cx="1324.3" cy="940.5" r="1.3"/><circle cx="1318" cy="898.3" r="1.7"/><circle cx="1203.1" cy="918.8" r="1.7"/><circle cx="1310.3" cy="909.5" r="2.1"/><circle cx="1230.2" cy="852.7" r="1.7"/><circle cx="1202" cy="909" r="1.7"/><circle cx="1325.3" cy="822.1" r="2.3"/></g></defs><mask id="mm8" maskUnits="userSpaceOnUse" x="1182.4" y="795.5" width="158.5" height="158.5"><use href="#cs8" fill="#fff"/></mask><filter id="mi8" x="0" y="0" width="100%" height="100%" color-interpolation-filters="sRGB"><feTurbulence type="fractalNoise" baseFrequency="0.45" numOctaves="2" seed="15" result="n"/><feColorMatrix in="n" type="matrix" values="0.4 0 0 0 0.305 0.4 0 0 0 0.305 0.4 0 0 0 0.305 0 0 0 0 1" result="g"/></filter><g mask="url(#mm8)"><rect x="1182.4" y="795.5" width="158.5" height="158.5" filter="url(#mi8)"/></g><use href="#cs8" fill="none" stroke="#c8c8c8" stroke-width="1.3" stroke-opacity="0.42"/></g><rect x="1182.4" y="795.5" width="158.5" height="1" fill="#f0b090"/><path d="M1197.8 933v3.2H1270.4v-3.2M1234.1 936.2v-1.6" stroke="#d2c776" stroke-width="0.9" stroke-opacity="0.75" fill="none"/><g font-size="5" text-anchor="middle" opacity="0.7"><text x="1197.8" y="931.8" style="fill:#d2c776">0</text><text x="1234.1" y="931.8" style="fill:#d2c776">µm</text><text x="1271.4" y="931.8" style="fill:#d2c776">400</text><text x="1198.8" y="942.6" text-anchor="start" font-size="4.6" style="fill:#d2c776">1.75 x 1.28 mm, 2.37 mm²</text></g></g>
<g>
<text x="1579.1" y="611.6" font-size="24" text-anchor="middle">HT-29</text>
<g font-size="16">
<g fill="#848484" stroke="none"><path d="M1424.3 637.4H1444.8" stroke="#848484" stroke-width="1.1"/><circle cx="1434.6" cy="637.4" r="4.35"/></g>
<text x="1457.1" y="643">Control</text>
<g fill="#fdbe85" stroke="none"><path d="M1424.3 659.2H1444.8" stroke="#fdbe85" stroke-width="1.1"/><rect x="1430.4" y="655" width="8.4" height="8.4"/></g>
<text x="1457.1" y="664.8">Sorafenib 6µM</text>
<g fill="#bcbe1c" stroke="none"><path d="M1424.3 682H1444.8" stroke="#bcbe1c" stroke-width="1.1"/><path d="M1434.6 677.1l4.7 8h-9.4z"/></g>
<text x="1457.1" y="687.6">LZX-2-73 6µM</text>
<g fill="#f94144" stroke="none"><path d="M1424.3 703.2H1444.8" stroke="#f94144" stroke-width="1.1"/><path d="M1434.6 708.1l4.7 -8h-9.4z"/></g>
<text x="1457.1" y="708.8">Sorafenib + LZX-2-73</text>
</g>
<g fill="#f94144" stroke="none"><polyline points="1423.3,888.7 1437.9,880.8 1452.4,878.2 1467,877.7 1481.5,880.8 1496.1,878.2 1510.7,877.7 1525.2,877.4 1539.8,876.9 1554.4,874.3 1568.9,878.2 1583.5,874.3 1598,873.8 1612.6,871.2 1627.2,871.2 1641.7,877.7 1656.3,873.5 1670.9,873.8 1685.4,873 1700,875.6" fill="none" stroke="#f94144" stroke-width="1.1"/><path d="M1423.3 893.6l4.7 -8h-9.4z"/><path d="M1437.9 885.7l4.7 -8h-9.4z"/><path d="M1452.4 883.1l4.7 -8h-9.4z"/><path d="M1467 882.6l4.7 -8h-9.4z"/><path d="M1481.5 885.7l4.7 -8h-9.4z"/><path d="M1496.1 883.1l4.7 -8h-9.4z"/><path d="M1510.7 882.6l4.7 -8h-9.4z"/><path d="M1525.2 882.3l4.7 -8h-9.4z"/><path d="M1539.8 881.8l4.7 -8h-9.4z"/><path d="M1554.4 879.2l4.7 -8h-9.4z"/><path d="M1568.9 883.1l4.7 -8h-9.4z"/><path d="M1583.5 879.2l4.7 -8h-9.4z"/><path d="M1598 878.7l4.7 -8h-9.4z"/><path d="M1612.6 876.1l4.7 -8h-9.4z"/><path d="M1627.2 876.1l4.7 -8h-9.4z"/><path d="M1641.7 882.6l4.7 -8h-9.4z"/><path d="M1656.3 878.4l4.7 -8h-9.4z"/><path d="M1670.9 878.7l4.7 -8h-9.4z"/><path d="M1685.4 877.9l4.7 -8h-9.4z"/><path d="M1700 880.5l4.7 -8h-9.4z"/></g>
<g fill="#bcbe1c" stroke="none"><polyline points="1423.3,888.7 1437.9,878.2 1452.4,873 1467,870.9 1481.5,871.7 1496.1,867 1510.7,861.2 1525.2,856 1539.8,854.7 1554.4,850.7 1568.9,848.1 1583.5,838.4 1598,840.8 1612.6,831.1 1627.2,827.2 1641.7,824 1656.3,819.3 1670.9,814.6 1685.4,806.2 1700,804.1" fill="none" stroke="#bcbe1c" stroke-width="1.1"/><path d="M1525.2 850.2V861.7M1522.2 850.2h6M1522.2 861.7h6M1539.8 849.4V859.9M1536.8 849.4h6M1536.8 859.9h6M1554.4 845V856.5M1551.4 845h6M1551.4 856.5h6M1612.6 824.5V837.6M1609.6 824.5h6M1609.6 837.6h6M1627.2 818.5V835.8M1624.2 818.5h6M1624.2 835.8h6" fill="none" stroke="#bcbe1c" stroke-width="1.1"/><path d="M1423.3 883.8l4.7 8h-9.4z"/><path d="M1437.9 873.3l4.7 8h-9.4z"/><path d="M1452.4 868.1l4.7 8h-9.4z"/><path d="M1467 866l4.7 8h-9.4z"/><path d="M1481.5 866.8l4.7 8h-9.4z"/><path d="M1496.1 862.1l4.7 8h-9.4z"/><path d="M1510.7 856.3l4.7 8h-9.4z"/><path d="M1525.2 851.1l4.7 8h-9.4z"/><path d="M1539.8 849.8l4.7 8h-9.4z"/><path d="M1554.4 845.8l4.7 8h-9.4z"/><path d="M1568.9 843.2l4.7 8h-9.4z"/><path d="M1583.5 833.5l4.7 8h-9.4z"/><path d="M1598 835.9l4.7 8h-9.4z"/><path d="M1612.6 826.2l4.7 8h-9.4z"/><path d="M1627.2 822.3l4.7 8h-9.4z"/><path d="M1641.7 819.1l4.7 8h-9.4z"/><path d="M1656.3 814.4l4.7 8h-9.4z"/><path d="M1670.9 809.7l4.7 8h-9.4z"/><path d="M1685.4 801.3l4.7 8h-9.4z"/><path d="M1700 799.2l4.7 8h-9.4z"/></g>
<g fill="#fdbe85" stroke="none"><polyline points="1423.3,883.5 1437.9,877.4 1452.4,873 1467,870.4 1481.5,867.8 1496.1,866.4 1510.7,862 1525.2,858.6 1539.8,856 1554.4,852.8 1568.9,849.9 1583.5,846.3 1598,837.1 1612.6,833.7 1627.2,827.7 1641.7,821.9 1656.3,815.9 1670.9,802.8 1685.4,797.8 1700,790.5" fill="none" stroke="#fdbe85" stroke-width="1.1"/><path d="M1568.9 844.2V855.7M1565.9 844.2h6M1565.9 855.7h6M1598 830.6V843.7M1595 830.6h6M1595 843.7h6M1641.7 815.4V828.5M1638.7 815.4h6M1638.7 828.5h6M1656.3 810.7V821.1M1653.3 810.7h6M1653.3 821.1h6M1670.9 795.5V810.1M1667.9 795.5h6M1667.9 810.1h6M1685.4 791.3V804.4M1682.4 791.3h6M1682.4 804.4h6M1700 782.1V798.9M1697 782.1h6M1697 798.9h6" fill="none" stroke="#fdbe85" stroke-width="1.1"/><rect x="1419.1" y="879.3" width="8.4" height="8.4"/><rect x="1433.7" y="873.2" width="8.4" height="8.4"/><rect x="1448.2" y="868.8" width="8.4" height="8.4"/><rect x="1462.8" y="866.2" width="8.4" height="8.4"/><rect x="1477.3" y="863.6" width="8.4" height="8.4"/><rect x="1491.9" y="862.2" width="8.4" height="8.4"/><rect x="1506.5" y="857.8" width="8.4" height="8.4"/><rect x="1521" y="854.4" width="8.4" height="8.4"/><rect x="1535.6" y="851.8" width="8.4" height="8.4"/><rect x="1550.2" y="848.6" width="8.4" height="8.4"/><rect x="1564.7" y="845.7" width="8.4" height="8.4"/><rect x="1579.3" y="842.1" width="8.4" height="8.4"/><rect x="1593.8" y="832.9" width="8.4" height="8.4"/><rect x="1608.4" y="829.5" width="8.4" height="8.4"/><rect x="1623" y="823.5" width="8.4" height="8.4"/><rect x="1637.5" y="817.7" width="8.4" height="8.4"/><rect x="1652.1" y="811.7" width="8.4" height="8.4"/><rect x="1666.7" y="798.6" width="8.4" height="8.4"/><rect x="1681.2" y="793.6" width="8.4" height="8.4"/><rect x="1695.8" y="786.3" width="8.4" height="8.4"/></g>
<g fill="#848484" stroke="none"><polyline points="1423.3,884.8 1437.9,878.8 1452.4,873 1467,867.8 1481.5,863.8 1496.1,859.9 1510.7,851.5 1525.2,842.1 1539.8,837.9 1554.4,832.7 1568.9,823.8 1583.5,818 1598,807.8 1612.6,798.9 1627.2,788.7 1641.7,785.8 1656.3,770.3 1670.9,757.7 1685.4,747.5 1700,740.5" fill="none" stroke="#848484" stroke-width="1.1"/><path d="M1467 863V872.5M1464 863h6M1464 872.5h6M1496.1 855.7V864.1M1493.1 855.7h6M1493.1 864.1h6M1510.7 846.3V856.8M1507.7 846.3h6M1507.7 856.8h6M1525.2 838.2V846M1522.2 838.2h6M1522.2 846h6M1583.5 810.7V825.3M1580.5 810.7h6M1580.5 825.3h6M1598 803.1V812.5M1595 803.1h6M1595 812.5h6M1612.6 790.5V807.2M1609.6 790.5h6M1609.6 807.2h6M1627.2 780V797.3M1624.2 780h6M1624.2 797.3h6M1641.7 777.9V793.6M1638.7 777.9h6M1638.7 793.6h6M1656.3 761.7V779M1653.3 761.7h6M1653.3 779h6M1670.9 750.7V764.8M1667.9 750.7h6M1667.9 764.8h6M1685.4 740.5V754.6M1682.4 740.5h6M1682.4 754.6h6M1700 735.7V745.2M1697 735.7h6M1697 745.2h6" fill="none" stroke="#848484" stroke-width="1.1"/><circle cx="1423.3" cy="884.8" r="4.35"/><circle cx="1437.9" cy="878.8" r="4.35"/><circle cx="1452.4" cy="873" r="4.35"/><circle cx="1467" cy="867.8" r="4.35"/><circle cx="1481.5" cy="863.8" r="4.35"/><circle cx="1496.1" cy="859.9" r="4.35"/><circle cx="1510.7" cy="851.5" r="4.35"/><circle cx="1525.2" cy="842.1" r="4.35"/><circle cx="1539.8" cy="837.9" r="4.35"/><circle cx="1554.4" cy="832.7" r="4.35"/><circle cx="1568.9" cy="823.8" r="4.35"/><circle cx="1583.5" cy="818" r="4.35"/><circle cx="1598" cy="807.8" r="4.35"/><circle cx="1612.6" cy="798.9" r="4.35"/><circle cx="1627.2" cy="788.7" r="4.35"/><circle cx="1641.7" cy="785.8" r="4.35"/><circle cx="1656.3" cy="770.3" r="4.35"/><circle cx="1670.9" cy="757.7" r="4.35"/><circle cx="1685.4" cy="747.5" r="4.35"/><circle cx="1700" cy="740.5" r="4.35"/></g>
<path d="M1423.3 714.5V920.5M1414.7 919.6H1715.1M1414.7 732.9h8.6M1414.7 826.4h8.6M1423.3 919.6v8.4M1495.8 919.6v8.4M1568.7 919.6v8.4M1641.7 919.6v8.4M1714.5 919.6v8.4" fill="none" stroke="#000" stroke-width="1.8"/>
<g font-size="15" text-anchor="end">
<text x="1412.8" y="738.2">100</text>
<text x="1412.8" y="831.7">50</text>
<text x="1412.8" y="924.9">0</text>
</g><g font-size="15" text-anchor="middle">
<text x="1423.3" y="944.8">0</text>
<text x="1495.8" y="944.8">20</text>
<text x="1568.7" y="944.8">40</text>
<text x="1641.7" y="944.8">60</text>
<text x="1714.5" y="944.8">80</text>
</g>
<text x="1568.7" y="969.4" font-size="16" text-anchor="middle">Time (Hours)</text>
<text transform="translate(1379.2 817) rotate(-90)" font-size="16.8" text-anchor="middle">Phase Object Confluence (%)</text>
<text transform="translate(1736.5 841.9) rotate(-90)" font-size="17.4" text-anchor="middle" letter-spacing="0.85" stroke="#000" stroke-width="0.45">**</text>
<text transform="translate(1750.9 838.5) rotate(-90)" font-size="17.4" text-anchor="middle" letter-spacing="0.85" stroke="#000" stroke-width="0.45">*</text>
<text transform="translate(1764.6 796.6) rotate(-90)" font-size="17.4" text-anchor="middle" letter-spacing="0.85" stroke="#000" stroke-width="0.45">***</text>
<path d="M1710.1 802.3H1719V878.2H1710.1M1724.2 781.8H1732.9V878.2H1724.2M1738.1 726.6H1746.8V878.2H1738.1" fill="none" stroke="#000" stroke-width="2.1"/>
</g>
<text transform="translate(333.3 1053.2) rotate(0) scale(0.980 1)" font-size="30.4" text-anchor="middle">Sorafenib</text><rect x="172.5" y="1067.1" width="323.4" height="6.2" fill="#000"/><text transform="translate(251.6 1110.8) rotate(0) scale(0.990 1)" font-size="30.2" text-anchor="middle">Vehicle</text><text transform="translate(412.6 1110.8) rotate(0) scale(0.990 1)" font-size="30.2" text-anchor="middle">8 µM</text>
<path d="M124.8 1126L124.8 1444.8" stroke="#000" stroke-width="5.6" fill="none"/><text transform="translate(113.7 1284.1) rotate(-90) scale(0.912 1)" font-size="32.3" text-anchor="middle">LZX-2-73</text><text transform="translate(160 1212) rotate(-90) scale(0.975 1)" font-size="31.2" text-anchor="middle">Vehicle</text><text transform="translate(160 1368) rotate(-90) scale(0.975 1)" font-size="31.2" text-anchor="middle">6 µM</text>
<g><filter id="mf9" x="0" y="0" width="100%" height="100%" color-interpolation-filters="sRGB"><feTurbulence type="fractalNoise" baseFrequency="0.46" numOctaves="2" seed="9" result="n"/><feColorMatrix in="n" type="matrix" values="0.2 0 0 0 0.422 0.2 0 0 0 0.422 0.2 0 0 0 0.422 0 0 0 0 1" result="g"/></filter><rect x="174.8" y="1120.5" width="159.2" height="158.7" filter="url(#mf9)"/><path d="M190.2 1258.2v3.2H263.2v-3.2M226.7 1261.4v-1.6" stroke="#d2c776" stroke-width="0.9" stroke-opacity="0.75" fill="none"/><g font-size="5" text-anchor="middle" opacity="0.7"><text x="190.2" y="1257" style="fill:#d2c776">0</text><text x="226.7" y="1257" style="fill:#d2c776">µm</text><text x="264.2" y="1257" style="fill:#d2c776">400</text><text x="191.2" y="1267.8" text-anchor="start" font-size="4.6" style="fill:#d2c776">1.75 x 1.28 mm, 2.37 mm²</text></g></g>
<g><filter id="mb10" x="0" y="0" width="100%" height="100%" color-interpolation-filters="sRGB"><feTurbulence type="fractalNoise" baseFrequency="0.55" numOctaves="1" seed="110" result="n"/><feColorMatrix in="n" type="matrix" values="0.1 0 0 0 0.472 0.1 0 0 0 0.472 0.1 0 0 0 0.472 0 0 0 0 1" result="g"/></filter><rect x="340.6" y="1121.3" width="159.2" height="157.9" filter="url(#mb10)"/><filter id="mf10" x="0" y="0" width="100%" height="100%" color-interpolation-filters="sRGB"><feTurbulence type="fractalNoise" baseFrequency="0.48" numOctaves="2" seed="10" result="n"/><feColorMatrix in="n" type="matrix" values="0.27 0 0 0 0.387 0.27 0 0 0 0.387 0.27 0 0 0 0.387 0 0 0 0 1" result="g"/><feTurbulence type="fractalNoise" baseFrequency="0.025" numOctaves="2" seed="41" result="p"/><feColorMatrix in="p" type="matrix" values="0 0 0 0 0 0 0 0 0 0 0 0 0 0 0 14 0 0 0 -7" result="m"/><feComposite in="g" in2="m" operator="in"/></filter><rect x="340.6" y="1121.3" width="159.2" height="157.9" filter="url(#mf10)"/><clipPath id="mc10"><rect x="340.6" y="1121.3" width="159.2" height="157.9"/></clipPath><g clip-path="url(#mc10)"><defs><g id="cs10"><circle cx="431.3" cy="1189.3" r="2.5"/><circle cx="433.9" cy="1184.1" r="1.8"/><circle cx="393.5" cy="1161.8" r="3.1"/><circle cx="349.5" cy="1255.7" r="2.5"/><circle cx="395.5" cy="1157.9" r="1.8"/><circle cx="397.6" cy="1166.4" r="3.2"/><circle cx="437.8" cy="1130.1" r="1.5"/><circle cx="387.4" cy="1160.4" r="1.9"/><circle cx="412.5" cy="1195.6" r="2.6"/><circle cx="414.9" cy="1199.2" r="2.2"/><circle cx="385.7" cy="1165.7" r="1.6"/><circle cx="355.2" cy="1182.5" r="3.1"/><circle cx="365.8" cy="1271.6" r="2.8"/><circle cx="495" cy="1152.7" r="2.1"/><circle cx="411.8" cy="1228.1" r="1.7"/><circle cx="476.8" cy="1164.4" r="2"/><circle cx="489" cy="1150.1" r="1.8"/><circle cx="393.5" cy="1157.7" r="2.4"/><circle cx="385.9" cy="1170.1" r="2.2"/><circle cx="474.8" cy="1160.5" r="2.4"/><circle cx="423.3" cy="1216" r="1.6"/><circle cx="414.2" cy="1185" r="2.2"/><circle cx="426.2" cy="1198.7" r="1.8"/><circle cx="492.9" cy="1187.2" r="1.6"/><circle cx="397.9" cy="1159.6" r="1.8"/><circle cx="472" cy="1246.3" r="1.7"/><circle cx="462.8" cy="1265.3" r="2.1"/><circle cx="470.3" cy="1241.6" r="2.6"/><circle cx="366.4" cy="1159.8" r="2.6"/><circle cx="442.3" cy="1213.9" r="2.9"/><circle cx="467.9" cy="1271.4" r="2.2"/><circle cx="454.1" cy="1260.1" r="1.6"/><circle cx="461.6" cy="1271.4" r="3.2"/><circle cx="471.5" cy="1275.7" r="3.1"/><circle cx="428.5" cy="1203.8" r="2.2"/><circle cx="448.8" cy="1170.8" r="3.1"/><circle cx="459.2" cy="1250.6" r="2.7"/><circle cx="458" cy="1155.4" r="2.5"/><circle cx="432.7" cy="1194.8" r="3"/><circle cx="443.8" cy="1134.1" r="2.2"/><circle cx="346.8" cy="1259.6" r="2.2"/><circle cx="381.4" cy="1171.1" r="2.3"/><circle cx="405.4" cy="1221.7" r="2.1"/><circle cx="369.8" cy="1155.4" r="1.6"/><circle cx="399.6" cy="1234.4" r="3"/></g></defs><mask id="mm10" maskUnits="userSpaceOnUse" x="340.6" y="1121.3" width="159.2" height="157.9"><use href="#cs10" fill="#fff"/></mask><filter id="mi10" x="0" y="0" width="100%" height="100%" color-interpolation-filters="sRGB"><feTurbulence type="fractalNoise" baseFrequency="0.45" numOctaves="2" seed="17" result="n"/><feColorMatrix in="n" type="matrix" values="0.4 0 0 0 0.305 0.4 0 0 0 0.305 0.4 0 0 0 0.305 0 0 0 0 1" result="g"/></filter><g mask="url(#mm10)"><rect x="340.6" y="1121.3" width="159.2" height="157.9" filter="url(#mi10)"/></g><use href="#cs10" fill="none" stroke="#c8c8c8" stroke-width="1.3" stroke-opacity="0.42"/></g><rect x="339.9" y="1121.3" width="1.2" height="157.9" fill="#ffc08e"/><path d="M356 1258.3v3.2H429v-3.2M392.5 1261.5v-1.6" stroke="#d2c776" stroke-width="0.9" stroke-opacity="0.75" fill="none"/><g font-size="5" text-anchor="middle" opacity="0.7"><text x="356" y="1257.1" style="fill:#d2c776">0</text><text x="392.5" y="1257.1" style="fill:#d2c776">µm</text><text x="430" y="1257.1" style="fill:#d2c776">400</text><text x="357" y="1267.9" text-anchor="start" font-size="4.6" style="fill:#d2c776">1.75 x 1.28 mm, 2.37 mm²</text></g></g>
<g><filter id="mf11" x="0" y="0" width="100%" height="100%" color-interpolation-filters="sRGB"><feTurbulence type="fractalNoise" baseFrequency="0.46" numOctaves="2" seed="11" result="n"/><feColorMatrix in="n" type="matrix" values="0.2 0 0 0 0.422 0.2 0 0 0 0.422 0.2 0 0 0 0.422 0 0 0 0 1" result="g"/></filter><rect x="174.8" y="1285" width="159.2" height="158.5" filter="url(#mf11)"/><path d="M190.2 1422.5v3.2H263.2v-3.2M226.7 1425.7v-1.6" stroke="#d2c776" stroke-width="0.9" stroke-opacity="0.75" fill="none"/><g font-size="5" text-anchor="middle" opacity="0.7"><text x="190.2" y="1421.3" style="fill:#d2c776">0</text><text x="226.7" y="1421.3" style="fill:#d2c776">µm</text><text x="264.2" y="1421.3" style="fill:#d2c776">400</text><text x="191.2" y="1432.1" text-anchor="start" font-size="4.6" style="fill:#d2c776">1.75 x 1.28 mm, 2.37 mm²</text></g></g>
<g><filter id="mf12" x="0" y="0" width="100%" height="100%" color-interpolation-filters="sRGB"><feTurbulence type="fractalNoise" baseFrequency="0.55" numOctaves="1" seed="12" result="n"/><feColorMatrix in="n" type="matrix" values="0.1 0 0 0 0.472 0.1 0 0 0 0.472 0.1 0 0 0 0.472 0 0 0 0 1" result="g"/></filter><rect x="340.6" y="1285" width="159.2" height="158.5" filter="url(#mf12)"/><clipPath id="mc12"><rect x="340.6" y="1285" width="159.2" height="158.5"/></clipPath><g clip-path="url(#mc12)"><defs><g id="cs12"><circle cx="416.3" cy="1388.6" r="3.2"/><circle cx="421.4" cy="1388.5" r="3.1"/><circle cx="476.7" cy="1322.2" r="1.6"/><circle cx="494.4" cy="1343.8" r="2.4"/><circle cx="426.7" cy="1391.1" r="2.4"/><ellipse cx="419.9" cy="1389" rx="3.8" ry="2.9" transform="rotate(23 419.9 1389)"/><circle cx="408.4" cy="1355.6" r="3.2"/><circle cx="426.3" cy="1423.3" r="2.9"/><circle cx="480" cy="1372.8" r="2.8"/><circle cx="405.8" cy="1351.1" r="3.1"/><circle cx="442" cy="1299.8" r="2.1"/><ellipse cx="383.2" cy="1432.4" rx="3.7" ry="2.6" transform="rotate(79 383.2 1432.4)"/><circle cx="491.9" cy="1347.9" r="3"/><ellipse cx="370.4" cy="1345.9" rx="3.7" ry="2.2" transform="rotate(6 370.4 1345.9)"/><circle cx="412.4" cy="1356.7" r="3.1"/><circle cx="376.8" cy="1299" r="2.3"/><circle cx="373.6" cy="1303.8" r="1.7"/><circle cx="375" cy="1330.6" r="2.7"/><circle cx="417.3" cy="1434.7" r="2"/><circle cx="399.1" cy="1316.2" r="3.4"/><ellipse cx="343.6" cy="1328.4" rx="3.4" ry="2.4" transform="rotate(61 343.6 1328.4)"/><circle cx="420.4" cy="1325.2" r="1.9"/><circle cx="371.4" cy="1330.5" r="2.4"/><circle cx="471.7" cy="1385.8" r="2.2"/><circle cx="416.7" cy="1383.9" r="2.2"/><circle cx="481.4" cy="1312.1" r="2.3"/><circle cx="385.8" cy="1432.8" r="2.8"/><circle cx="452" cy="1320.1" r="2.3"/><circle cx="424" cy="1325.3" r="2.9"/><ellipse cx="427" cy="1396.2" rx="4" ry="3" transform="rotate(159 427 1396.2)"/><circle cx="487.9" cy="1326.8" r="1.7"/><circle cx="481.8" cy="1318.5" r="3"/><circle cx="468.6" cy="1382.1" r="2"/><circle cx="366.7" cy="1291.8" r="1.7"/><circle cx="379.7" cy="1431.5" r="2.5"/><ellipse cx="373.1" cy="1334.6" rx="3.5" ry="2.8" transform="rotate(125 373.1 1334.6)"/><circle cx="362" cy="1369.5" r="3.3"/><circle cx="381.1" cy="1301.1" r="1.8"/><circle cx="419.1" cy="1384.5" r="2"/><circle cx="441.5" cy="1354.4" r="2"/><circle cx="437.6" cy="1355.8" r="3.2"/><circle cx="379.7" cy="1296.5" r="2.1"/><circle cx="399.5" cy="1418.1" r="3.3"/><circle cx="371.3" cy="1289.2" r="3.3"/><circle cx="423" cy="1399.5" r="3.3"/><ellipse cx="464.5" cy="1294.6" rx="3.5" ry="2.5" transform="rotate(178 464.5 1294.6)"/><circle cx="403.9" cy="1391" r="3.2"/><circle cx="428.6" cy="1392.2" r="2.4"/><circle cx="392.6" cy="1364.2" r="2.5"/><circle cx="473.8" cy="1373.7" r="1.9"/><circle cx="409.2" cy="1343.4" r="2.6"/><ellipse cx="386.5" cy="1412.6" rx="3.5" ry="2.7" transform="rotate(37 386.5 1412.6)"/><ellipse cx="385.4" cy="1297.7" rx="3.5" ry="2.5" transform="rotate(108 385.4 1297.7)"/><circle cx="383.4" cy="1349.9" r="2.5"/><ellipse cx="483" cy="1308.2" rx="3.5" ry="3" transform="rotate(28 483 1308.2)"/><ellipse cx="423.7" cy="1295.2" rx="3.6" ry="3.1" transform="rotate(91 423.7 1295.2)"/><ellipse cx="484.6" cy="1406.1" rx="3.7" ry="2.5" transform="rotate(54 484.6 1406.1)"/><circle cx="476" cy="1372.8" r="1.7"/><ellipse cx="372.9" cy="1317.4" rx="3.5" ry="3.1" transform="rotate(47 372.9 1317.4)"/><ellipse cx="427.4" cy="1290.4" rx="3.8" ry="2.7" transform="rotate(127 427.4 1290.4)"/></g></defs><mask id="mm12" maskUnits="userSpaceOnUse" x="340.6" y="1285" width="159.2" height="158.5"><use href="#cs12" fill="#fff"/></mask><filter id="mi12" x="0" y="0" width="100%" height="100%" color-interpolation-filters="sRGB"><feTurbulence type="fractalNoise" baseFrequency="0.45" numOctaves="2" seed="19" result="n"/><feColorMatrix in="n" type="matrix" values="0.4 0 0 0 0.305 0.4 0 0 0 0.305 0.4 0 0 0 0.305 0 0 0 0 1" result="g"/></filter><g mask="url(#mm12)"><rect x="340.6" y="1285" width="159.2" height="158.5" filter="url(#mi12)"/></g><use href="#cs12" fill="none" stroke="#c8c8c8" stroke-width="1.3" stroke-opacity="0.42"/></g><rect x="339.9" y="1285" width="1.2" height="158.5" fill="#ffc08e"/><path d="M356 1422.5v3.2H429v-3.2M392.5 1425.7v-1.6" stroke="#d2c776" stroke-width="0.9" stroke-opacity="0.75" fill="none"/><g font-size="5" text-anchor="middle" opacity="0.7"><text x="356" y="1421.3" style="fill:#d2c776">0</text><text x="392.5" y="1421.3" style="fill:#d2c776">µm</text><text x="430" y="1421.3" style="fill:#d2c776">400</text><text x="357" y="1432.1" text-anchor="start" font-size="4.6" style="fill:#d2c776">1.75 x 1.28 mm, 2.37 mm²</text></g></g>
<g>
<text x="749.1" y="1110.6" font-size="24" text-anchor="middle">MCF-7</text>
<g font-size="16">
<g fill="#848484" stroke="none"><path d="M590.7 1138.2H611.6" stroke="#848484" stroke-width="1.1"/><circle cx="601.1" cy="1138.2" r="4.35"/></g>
<text x="623.1" y="1143.8">Control</text>
<g fill="#fdbe85" stroke="none"><path d="M590.7 1160.5H611.6" stroke="#fdbe85" stroke-width="1.1"/><rect x="596.9" y="1156.3" width="8.4" height="8.4"/></g>
<text x="623.1" y="1166.1">Sorafenib 8µM</text>
<g fill="#bcbe1c" stroke="none"><path d="M590.7 1182.2H611.6" stroke="#bcbe1c" stroke-width="1.1"/><path d="M601.1 1177.3l4.7 8h-9.4z"/></g>
<text x="623.1" y="1187.8">LZX-2-73 6µM</text>
<g fill="#f94144" stroke="none"><path d="M590.7 1204.2H611.6" stroke="#f94144" stroke-width="1.1"/><path d="M601.1 1209.1l4.7 -8h-9.4z"/></g>
<text x="623.1" y="1209.8">Sorafenib + LZX-2-73</text>
</g>
<g fill="#f94144" stroke="none"><polyline points="589.9,1374.3 604.4,1365.1 618.8,1363.3 633.3,1362 647.8,1369.1 662.2,1367 676.7,1363.8 691.2,1368.3 705.7,1371.7 720.1,1372.2 734.6,1373.8 749.1,1374.3 763.5,1379.5 778,1380.8 792.5,1381.6 806.9,1379.5 821.4,1380.1 835.9,1381.6 850.4,1381.1 864.8,1380.6" fill="none" stroke="#f94144" stroke-width="1.1"/><path d="M589.9 1379.2l4.7 -8h-9.4z"/><path d="M604.4 1370l4.7 -8h-9.4z"/><path d="M618.8 1368.2l4.7 -8h-9.4z"/><path d="M633.3 1366.9l4.7 -8h-9.4z"/><path d="M647.8 1374l4.7 -8h-9.4z"/><path d="M662.2 1371.9l4.7 -8h-9.4z"/><path d="M676.7 1368.7l4.7 -8h-9.4z"/><path d="M691.2 1373.2l4.7 -8h-9.4z"/><path d="M705.7 1376.6l4.7 -8h-9.4z"/><path d="M720.1 1377.1l4.7 -8h-9.4z"/><path d="M734.6 1378.7l4.7 -8h-9.4z"/><path d="M749.1 1379.2l4.7 -8h-9.4z"/><path d="M763.5 1384.4l4.7 -8h-9.4z"/><path d="M778 1385.7l4.7 -8h-9.4z"/><path d="M792.5 1386.5l4.7 -8h-9.4z"/><path d="M806.9 1384.4l4.7 -8h-9.4z"/><path d="M821.4 1385l4.7 -8h-9.4z"/><path d="M835.9 1386.5l4.7 -8h-9.4z"/><path d="M850.4 1386l4.7 -8h-9.4z"/><path d="M864.8 1385.5l4.7 -8h-9.4z"/></g>
<g fill="#bcbe1c" stroke="none"><polyline points="589.9,1378.2 604.4,1361.7 618.8,1356 633.3,1347.6 647.8,1353.3 662.2,1342.9 676.7,1335 691.2,1332.4 705.7,1327.7 720.1,1320.6 734.6,1321.1 749.1,1308.8 763.5,1310.9 778,1300.4 792.5,1298.3 806.9,1298.3 821.4,1291.8 835.9,1286.8 850.4,1283.2 864.8,1280.5" fill="none" stroke="#bcbe1c" stroke-width="1.1"/><path d="M589.9 1373.3l4.7 8h-9.4z"/><path d="M604.4 1356.8l4.7 8h-9.4z"/><path d="M618.8 1351.1l4.7 8h-9.4z"/><path d="M633.3 1342.7l4.7 8h-9.4z"/><path d="M647.8 1348.4l4.7 8h-9.4z"/><path d="M662.2 1338l4.7 8h-9.4z"/><path d="M676.7 1330.1l4.7 8h-9.4z"/><path d="M691.2 1327.5l4.7 8h-9.4z"/><path d="M705.7 1322.8l4.7 8h-9.4z"/><path d="M720.1 1315.7l4.7 8h-9.4z"/><path d="M734.6 1316.2l4.7 8h-9.4z"/><path d="M749.1 1303.9l4.7 8h-9.4z"/><path d="M763.5 1306l4.7 8h-9.4z"/><path d="M778 1295.5l4.7 8h-9.4z"/><path d="M792.5 1293.4l4.7 8h-9.4z"/><path d="M806.9 1293.4l4.7 8h-9.4z"/><path d="M821.4 1286.9l4.7 8h-9.4z"/><path d="M835.9 1281.9l4.7 8h-9.4z"/><path d="M850.4 1278.3l4.7 8h-9.4z"/><path d="M864.8 1275.6l4.7 8h-9.4z"/></g>
<g fill="#fdbe85" stroke="none"><polyline points="589.9,1370.4 604.4,1356.8 618.8,1351.3 633.3,1348.6 647.8,1348.9 662.2,1355.4 676.7,1337.1 691.2,1337.1 705.7,1344.7 720.1,1342.9 734.6,1335 749.1,1332.4 763.5,1334 778,1338.2 792.5,1338.2 806.9,1330.6 821.4,1330.3 835.9,1333.4 850.4,1336.1 864.8,1340" fill="none" stroke="#fdbe85" stroke-width="1.1"/><rect x="585.7" y="1366.2" width="8.4" height="8.4"/><rect x="600.2" y="1352.6" width="8.4" height="8.4"/><rect x="614.6" y="1347.1" width="8.4" height="8.4"/><rect x="629.1" y="1344.4" width="8.4" height="8.4"/><rect x="643.6" y="1344.7" width="8.4" height="8.4"/><rect x="658" y="1351.2" width="8.4" height="8.4"/><rect x="672.5" y="1332.9" width="8.4" height="8.4"/><rect x="687" y="1332.9" width="8.4" height="8.4"/><rect x="701.5" y="1340.5" width="8.4" height="8.4"/><rect x="715.9" y="1338.7" width="8.4" height="8.4"/><rect x="730.4" y="1330.8" width="8.4" height="8.4"/><rect x="744.9" y="1328.2" width="8.4" height="8.4"/><rect x="759.3" y="1329.8" width="8.4" height="8.4"/><rect x="773.8" y="1334" width="8.4" height="8.4"/><rect x="788.3" y="1334" width="8.4" height="8.4"/><rect x="802.7" y="1326.4" width="8.4" height="8.4"/><rect x="817.2" y="1326.1" width="8.4" height="8.4"/><rect x="831.7" y="1329.2" width="8.4" height="8.4"/><rect x="846.2" y="1331.9" width="8.4" height="8.4"/><rect x="860.6" y="1335.8" width="8.4" height="8.4"/></g>
<g fill="#848484" stroke="none"><polyline points="589.9,1368.5 604.4,1349.9 618.8,1339.7 633.3,1331.6 647.8,1335 662.2,1328.5 676.7,1307.2 691.2,1306.2 705.7,1299.7 720.1,1292.6 734.6,1284.7 749.1,1275.8 763.5,1275.3 778,1269.8 792.5,1264 806.9,1259.6 821.4,1255.7 835.9,1253 850.4,1251.2 864.8,1247.3" fill="none" stroke="#848484" stroke-width="1.1"/><circle cx="589.9" cy="1368.5" r="4.35"/><circle cx="604.4" cy="1349.9" r="4.35"/><circle cx="618.8" cy="1339.7" r="4.35"/><circle cx="633.3" cy="1331.6" r="4.35"/><circle cx="647.8" cy="1335" r="4.35"/><circle cx="662.2" cy="1328.5" r="4.35"/><circle cx="676.7" cy="1307.2" r="4.35"/><circle cx="691.2" cy="1306.2" r="4.35"/><circle cx="705.7" cy="1299.7" r="4.35"/><circle cx="720.1" cy="1292.6" r="4.35"/><circle cx="734.6" cy="1284.7" r="4.35"/><circle cx="749.1" cy="1275.8" r="4.35"/><circle cx="763.5" cy="1275.3" r="4.35"/><circle cx="778" cy="1269.8" r="4.35"/><circle cx="792.5" cy="1264" r="4.35"/><circle cx="806.9" cy="1259.6" r="4.35"/><circle cx="821.4" cy="1255.7" r="4.35"/><circle cx="835.9" cy="1253" r="4.35"/><circle cx="850.4" cy="1251.2" r="4.35"/><circle cx="864.8" cy="1247.3" r="4.35"/></g>
<path d="M589.9 1215.8V1419.2M581.3 1418.3H880.1M581.3 1233.7h8.6M581.3 1326.1h8.6M589.9 1418.3v8.4M661.9 1418.3v8.4M734.7 1418.3v8.4M806.8 1418.3v8.4M879.3 1418.3v8.4" fill="none" stroke="#000" stroke-width="1.8"/>
<g font-size="15" text-anchor="end">
<text x="579.4" y="1239">100</text>
<text x="579.4" y="1331.4">50</text>
<text x="579.4" y="1423.6">0</text>
</g><g font-size="15" text-anchor="middle">
<text x="589.9" y="1443.5">0</text>
<text x="661.9" y="1443.5">20</text>
<text x="734.7" y="1443.5">40</text>
<text x="806.8" y="1443.5">60</text>
<text x="879.3" y="1443.5">80</text>
</g>
<text x="734.5" y="1467.3" font-size="16" text-anchor="middle">Hours</text>
<text transform="translate(545 1318) rotate(-90)" font-size="16.8" text-anchor="middle">Phase Object Confluence (%)</text>
<text transform="translate(892.9 1364.2) rotate(-90)" font-size="17.4" text-anchor="middle" letter-spacing="0.85" stroke="#000" stroke-width="0.45">*</text>
<text transform="translate(906.5 1346.4) rotate(-90)" font-size="17.4" text-anchor="middle" letter-spacing="0.85" stroke="#000" stroke-width="0.45">**</text>
<text transform="translate(919.6 1309.7) rotate(-90)" font-size="17.4" text-anchor="middle" letter-spacing="0.85" stroke="#000" stroke-width="0.45">****</text>
<path d="M870.7 1344.2H879.3V1382.2H870.7M881.4 1280.8H890.6V1382.2H881.4M894.2 1246.5H902.9V1382.2H894.2" fill="none" stroke="#000" stroke-width="2.1"/>
</g>
<text transform="translate(1178 1053.2) rotate(0) scale(0.980 1)" font-size="30.4" text-anchor="middle">Sorafenib</text><rect x="1017.7" y="1067.1" width="323.5" height="6.2" fill="#000"/><text transform="translate(1092.9 1110.8) rotate(0) scale(0.990 1)" font-size="30.2" text-anchor="middle">Vehicle</text><text transform="translate(1253.2 1110.8) rotate(0) scale(0.990 1)" font-size="30.2" text-anchor="middle">4 µM</text>
<path d="M965.6 1109.5L965.2 1423.8" stroke="#000" stroke-width="5.6" fill="none"/><text transform="translate(955.1 1263.1) rotate(-90) scale(0.912 1)" font-size="32.3" text-anchor="middle">LZX-2-73</text><text transform="translate(1001.3 1198) rotate(-90) scale(0.975 1)" font-size="31.2" text-anchor="middle">Vehicle</text><text transform="translate(1001.3 1346.5) rotate(-90) scale(0.975 1)" font-size="31.2" text-anchor="middle">4 µM</text>
<g><filter id="mf13" x="0" y="0" width="100%" height="100%" color-interpolation-filters="sRGB"><feTurbulence type="fractalNoise" baseFrequency="0.5" numOctaves="2" seed="13" result="n"/><feColorMatrix in="n" type="matrix" values="0.36 0 0 0 0.342 0.36 0 0 0 0.342 0.36 0 0 0 0.342 0 0 0 0 1" result="g"/></filter><rect x="1023.4" y="1120" width="158.5" height="158.5" filter="url(#mf13)"/><path d="M1038.8 1257.5v3.2H1111.4v-3.2M1075.1 1260.7v-1.6" stroke="#d2c776" stroke-width="0.9" stroke-opacity="0.75" fill="none"/><g font-size="5" text-anchor="middle" opacity="0.7"><text x="1038.8" y="1256.3" style="fill:#d2c776">0</text><text x="1075.1" y="1256.3" style="fill:#d2c776">µm</text><text x="1112.4" y="1256.3" style="fill:#d2c776">400</text><text x="1039.8" y="1267.1" text-anchor="start" font-size="4.6" style="fill:#d2c776">1.75 x 1.28 mm, 2.37 mm²</text></g></g>
<g><filter id="mb14" x="0" y="0" width="100%" height="100%" color-interpolation-filters="sRGB"><feTurbulence type="fractalNoise" baseFrequency="0.55" numOctaves="1" seed="114" result="n"/><feColorMatrix in="n" type="matrix" values="0.1 0 0 0 0.472 0.1 0 0 0 0.472 0.1 0 0 0 0.472 0 0 0 0 1" result="g"/></filter><rect x="1190.3" y="1120" width="157.4" height="158.5" filter="url(#mb14)"/><filter id="mf14" x="0" y="0" width="100%" height="100%" color-interpolation-filters="sRGB"><feTurbulence type="fractalNoise" baseFrequency="0.48" numOctaves="2" seed="14" result="n"/><feColorMatrix in="n" type="matrix" values="0.27 0 0 0 0.387 0.27 0 0 0 0.387 0.27 0 0 0 0.387 0 0 0 0 1" result="g"/><feTurbulence type="fractalNoise" baseFrequency="0.02" numOctaves="2" seed="45" result="p"/><feColorMatrix in="p" type="matrix" values="0 0 0 0 0 0 0 0 0 0 0 0 0 0 0 12 0 0 0 -5.52" result="m"/><feComposite in="g" in2="m" operator="in"/></filter><rect x="1190.3" y="1120" width="157.4" height="158.5" filter="url(#mf14)"/><path d="M1205.6 1257.5v3.2H1277.7v-3.2M1241.6 1260.7v-1.6" stroke="#d2c776" stroke-width="0.9" stroke-opacity="0.75" fill="none"/><g font-size="5" text-anchor="middle" opacity="0.7"><text x="1205.6" y="1256.3" style="fill:#d2c776">0</text><text x="1241.6" y="1256.3" style="fill:#d2c776">µm</text><text x="1278.7" y="1256.3" style="fill:#d2c776">400</text><text x="1206.6" y="1267.1" text-anchor="start" font-size="4.6" style="fill:#d2c776">1.75 x 1.28 mm, 2.37 mm²</text></g></g>
<g><filter id="mf15" x="0" y="0" width="100%" height="100%" color-interpolation-filters="sRGB"><feTurbulence type="fractalNoise" baseFrequency="0.5" numOctaves="2" seed="15" result="n"/><feColorMatrix in="n" type="matrix" values="0.36 0 0 0 0.342 0.36 0 0 0 0.342 0.36 0 0 0 0.342 0 0 0 0 1" result="g"/></filter><rect x="1024" y="1285" width="158.4" height="158.5" filter="url(#mf15)"/><path d="M1039.4 1422.5v3.2H1111.9v-3.2M1075.6 1425.7v-1.6" stroke="#d2c776" stroke-width="0.9" stroke-opacity="0.75" fill="none"/><g font-size="5" text-anchor="middle" opacity="0.7"><text x="1039.4" y="1421.3" style="fill:#d2c776">0</text><text x="1075.6" y="1421.3" style="fill:#d2c776">µm</text><text x="1112.9" y="1421.3" style="fill:#d2c776">400</text><text x="1040.4" y="1432.1" text-anchor="start" font-size="4.6" style="fill:#d2c776">1.75 x 1.28 mm, 2.37 mm²</text></g></g>
<g><filter id="mf16" x="0" y="0" width="100%" height="100%" color-interpolation-filters="sRGB"><feTurbulence type="fractalNoise" baseFrequency="0.55" numOctaves="1" seed="16" result="n"/><feColorMatrix in="n" type="matrix" values="0.1 0 0 0 0.472 0.1 0 0 0 0.472 0.1 0 0 0 0.472 0 0 0 0 1" result="g"/></filter><rect x="1190.3" y="1285" width="157.4" height="158.5" filter="url(#mf16)"/><clipPath id="mc16"><rect x="1190.3" y="1285" width="157.4" height="158.5"/></clipPath><g clip-path="url(#mc16)"><defs><g id="cs16"><circle cx="1247.8" cy="1361.2" r="2.1"/><circle cx="1251.4" cy="1356.5" r="1.8"/><circle cx="1249.9" cy="1360.9" r="1.6"/><circle cx="1239.9" cy="1408.9" r="3.1"/><circle cx="1253.5" cy="1351" r="1.4"/><circle cx="1288.4" cy="1332.8" r="1.7"/><circle cx="1246.6" cy="1362.7" r="2.2"/><circle cx="1218.7" cy="1373.9" r="2.4"/><circle cx="1254.5" cy="1351" r="2.3"/><circle cx="1248.2" cy="1365.2" r="2.2"/><circle cx="1218.2" cy="1370.4" r="2.9"/><circle cx="1333.2" cy="1360.4" r="2.8"/><circle cx="1286.3" cy="1364.1" r="1.3"/><circle cx="1245.7" cy="1405.7" r="1.4"/><circle cx="1214.5" cy="1373.1" r="2.3"/><circle cx="1312.4" cy="1388.3" r="2.9"/><circle cx="1238.4" cy="1403.7" r="1.8"/><circle cx="1254.8" cy="1354.6" r="2.6"/><circle cx="1309.7" cy="1310.7" r="2.5"/><circle cx="1284.7" cy="1330.6" r="1.8"/><circle cx="1252.9" cy="1355.9" r="2.1"/><circle cx="1263.8" cy="1327.2" r="1.4"/><circle cx="1257.9" cy="1326.5" r="3.1"/><circle cx="1250.9" cy="1366.5" r="1.8"/><circle cx="1214" cy="1348.8" r="1.5"/><circle cx="1282.4" cy="1365.9" r="1.7"/><circle cx="1319" cy="1419.9" r="1.7"/><circle cx="1242.3" cy="1361.6" r="3.2"/><circle cx="1307.6" cy="1408.5" r="2.7"/><circle cx="1247.4" cy="1356.9" r="2.3"/><circle cx="1204.5" cy="1384.7" r="2.6"/><circle cx="1240.4" cy="1358.4" r="2.8"/><circle cx="1200.3" cy="1338.7" r="1.6"/><circle cx="1254" cy="1347.4" r="1.7"/><circle cx="1302.5" cy="1384.5" r="1.7"/><circle cx="1251.9" cy="1408" r="1.3"/><circle cx="1214.9" cy="1434.8" r="2.6"/><circle cx="1201.7" cy="1333.2" r="2.3"/><circle cx="1303.5" cy="1432.8" r="1.8"/><circle cx="1205.4" cy="1337.8" r="2.2"/><circle cx="1247.4" cy="1350.2" r="1.5"/><circle cx="1250" cy="1359.5" r="2.8"/><circle cx="1216.1" cy="1315.7" r="2.5"/><circle cx="1210.3" cy="1433.5" r="1.7"/><circle cx="1248" cy="1365.3" r="2.2"/><circle cx="1280.4" cy="1310.6" r="2.7"/><circle cx="1240.3" cy="1408.8" r="1.5"/><circle cx="1255.2" cy="1306" r="2"/><circle cx="1250.5" cy="1307.8" r="2"/><circle cx="1224.9" cy="1346.3" r="3"/><circle cx="1240.5" cy="1408.9" r="2.4"/><circle cx="1279.1" cy="1370.6" r="2.1"/><circle cx="1217.9" cy="1295.7" r="1.4"/><circle cx="1248.8" cy="1308.2" r="1.6"/><circle cx="1218" cy="1423.6" r="1.7"/><circle cx="1286.5" cy="1437" r="2.1"/><circle cx="1200.2" cy="1425.9" r="2.3"/><circle cx="1341" cy="1335.5" r="2.5"/><circle cx="1238.7" cy="1309.7" r="2.1"/><circle cx="1207.3" cy="1332.7" r="3"/><circle cx="1215.1" cy="1293.6" r="1.8"/><circle cx="1299.3" cy="1429.3" r="1.9"/><circle cx="1317.9" cy="1384.1" r="2"/><circle cx="1344.5" cy="1374.2" r="2.2"/><circle cx="1219.9" cy="1312.6" r="3.1"/><circle cx="1241.8" cy="1365.2" r="2.6"/><circle cx="1326.2" cy="1410.4" r="1.6"/><circle cx="1226.6" cy="1338.9" r="2.4"/><circle cx="1308.8" cy="1383.3" r="2.8"/><circle cx="1260" cy="1331.1" r="2"/><circle cx="1284.2" cy="1360.9" r="2.3"/><circle cx="1243.8" cy="1358.9" r="2.9"/><circle cx="1307.6" cy="1388.3" r="1.3"/><circle cx="1197.8" cy="1332.7" r="1.9"/><circle cx="1249.8" cy="1323.7" r="1.7"/><circle cx="1253.7" cy="1371.9" r="2"/><circle cx="1236.1" cy="1404.1" r="3.1"/><circle cx="1289.4" cy="1301" r="1.8"/><circle cx="1332" cy="1423.8" r="1.9"/><circle cx="1313.2" cy="1348.2" r="1.9"/></g></defs><mask id="mm16" maskUnits="userSpaceOnUse" x="1190.3" y="1285" width="157.4" height="158.5"><use href="#cs16" fill="#fff"/></mask><filter id="mi16" x="0" y="0" width="100%" height="100%" color-interpolation-filters="sRGB"><feTurbulence type="fractalNoise" baseFrequency="0.45" numOctaves="2" seed="23" result="n"/><feColorMatrix in="n" type="matrix" values="0.4 0 0 0 0.305 0.4 0 0 0 0.305 0.4 0 0 0 0.305 0 0 0 0 1" result="g"/></filter><g mask="url(#mm16)"><rect x="1190.3" y="1285" width="157.4" height="158.5" filter="url(#mi16)"/></g><use href="#cs16" fill="none" stroke="#c8c8c8" stroke-width="1.3" stroke-opacity="0.42"/></g><path d="M1205.6 1422.5v3.2H1277.7v-3.2M1241.6 1425.7v-1.6" stroke="#d2c776" stroke-width="0.9" stroke-opacity="0.75" fill="none"/><g font-size="5" text-anchor="middle" opacity="0.7"><text x="1205.6" y="1421.3" style="fill:#d2c776">0</text><text x="1241.6" y="1421.3" style="fill:#d2c776">µm</text><text x="1278.7" y="1421.3" style="fill:#d2c776">400</text><text x="1206.6" y="1432.1" text-anchor="start" font-size="4.6" style="fill:#d2c776">1.75 x 1.28 mm, 2.37 mm²</text></g></g>
<g>
<text x="1593.3" y="1091.4" font-size="24" text-anchor="middle">HepG2</text>
<g font-size="16">
<g fill="#848484" stroke="none"><path d="M1429.6 1130.4H1450.5" stroke="#848484" stroke-width="1.1"/><circle cx="1440.1" cy="1130.4" r="4.35"/></g>
<text x="1462.3" y="1136">Control</text>
<g fill="#fdbe85" stroke="none"><path d="M1429.6 1153.1H1450.5" stroke="#fdbe85" stroke-width="1.1"/><rect x="1435.9" y="1148.9" width="8.4" height="8.4"/></g>
<text x="1462.3" y="1158.7">Sorafenib 4µM</text>
<g fill="#bcbe1c" stroke="none"><path d="M1429.6 1175.7H1450.5" stroke="#bcbe1c" stroke-width="1.1"/><path d="M1440.1 1170.8l4.7 8h-9.4z"/></g>
<text x="1462.3" y="1181.3">LZX-2-73 4µM</text>
<g fill="#f94144" stroke="none"><path d="M1429.6 1197.7H1450.5" stroke="#f94144" stroke-width="1.1"/><path d="M1440.1 1202.6l4.7 -8h-9.4z"/></g>
<text x="1462.3" y="1203.3">Sorafenib + LZX-2-73</text>
</g>
<g fill="#f94144" stroke="none"><polyline points="1429.1,1392.6 1443.7,1393.9 1458.3,1394.5 1472.9,1393.4 1487.6,1397.9 1502.2,1397.3 1516.8,1397.9 1531.4,1397.9 1546.1,1398.4 1560.7,1398.9 1575.3,1397.9 1590,1400 1604.6,1400 1619.2,1400.5 1633.8,1400.5 1648.5,1397.9 1663.1,1400 1677.7,1400 1692.4,1398.4 1707,1398.4" fill="none" stroke="#f94144" stroke-width="1.1"/><path d="M1429.1 1397.5l4.7 -8h-9.4z"/><path d="M1443.7 1398.8l4.7 -8h-9.4z"/><path d="M1458.3 1399.4l4.7 -8h-9.4z"/><path d="M1472.9 1398.3l4.7 -8h-9.4z"/><path d="M1487.6 1402.8l4.7 -8h-9.4z"/><path d="M1502.2 1402.2l4.7 -8h-9.4z"/><path d="M1516.8 1402.8l4.7 -8h-9.4z"/><path d="M1531.4 1402.8l4.7 -8h-9.4z"/><path d="M1546.1 1403.3l4.7 -8h-9.4z"/><path d="M1560.7 1403.8l4.7 -8h-9.4z"/><path d="M1575.3 1402.8l4.7 -8h-9.4z"/><path d="M1590 1404.9l4.7 -8h-9.4z"/><path d="M1604.6 1404.9l4.7 -8h-9.4z"/><path d="M1619.2 1405.4l4.7 -8h-9.4z"/><path d="M1633.8 1405.4l4.7 -8h-9.4z"/><path d="M1648.5 1402.8l4.7 -8h-9.4z"/><path d="M1663.1 1404.9l4.7 -8h-9.4z"/><path d="M1677.7 1404.9l4.7 -8h-9.4z"/><path d="M1692.4 1403.3l4.7 -8h-9.4z"/><path d="M1707 1403.3l4.7 -8h-9.4z"/></g>
<g fill="#bcbe1c" stroke="none"><polyline points="1429.1,1392.6 1443.7,1388.7 1458.3,1384.8 1472.9,1378.8 1487.6,1376.1 1502.2,1373 1516.8,1368.3 1531.4,1363.8 1546.1,1362.5 1560.7,1353.9 1575.3,1348.9 1590,1343.4 1604.6,1329 1619.2,1321.9 1633.8,1318 1648.5,1297.6 1663.1,1289.2 1677.7,1280 1692.4,1266.1 1707,1263.5" fill="none" stroke="#bcbe1c" stroke-width="1.1"/><path d="M1429.1 1387.7l4.7 8h-9.4z"/><path d="M1443.7 1383.8l4.7 8h-9.4z"/><path d="M1458.3 1379.9l4.7 8h-9.4z"/><path d="M1472.9 1373.9l4.7 8h-9.4z"/><path d="M1487.6 1371.2l4.7 8h-9.4z"/><path d="M1502.2 1368.1l4.7 8h-9.4z"/><path d="M1516.8 1363.4l4.7 8h-9.4z"/><path d="M1531.4 1358.9l4.7 8h-9.4z"/><path d="M1546.1 1357.6l4.7 8h-9.4z"/><path d="M1560.7 1349l4.7 8h-9.4z"/><path d="M1575.3 1344l4.7 8h-9.4z"/><path d="M1590 1338.5l4.7 8h-9.4z"/><path d="M1604.6 1324.1l4.7 8h-9.4z"/><path d="M1619.2 1317l4.7 8h-9.4z"/><path d="M1633.8 1313.1l4.7 8h-9.4z"/><path d="M1648.5 1292.7l4.7 8h-9.4z"/><path d="M1663.1 1284.3l4.7 8h-9.4z"/><path d="M1677.7 1275.1l4.7 8h-9.4z"/><path d="M1692.4 1261.2l4.7 8h-9.4z"/><path d="M1707 1258.6l4.7 8h-9.4z"/></g>
<g fill="#fdbe85" stroke="none"><polyline points="1429.1,1391.3 1443.7,1390.5 1458.3,1387.4 1472.9,1390.8 1487.6,1382.2 1502.2,1381.6 1516.8,1378.2 1531.4,1378.8 1546.1,1378.2 1560.7,1375.1 1575.3,1370.9 1590,1372.2 1604.6,1365.7 1619.2,1361.7 1633.8,1359.1 1648.5,1352.3 1663.1,1349.7 1677.7,1346.5 1692.4,1338.7 1707,1333.4" fill="none" stroke="#fdbe85" stroke-width="1.1"/><rect x="1424.9" y="1387.1" width="8.4" height="8.4"/><rect x="1439.5" y="1386.3" width="8.4" height="8.4"/><rect x="1454.1" y="1383.2" width="8.4" height="8.4"/><rect x="1468.7" y="1386.6" width="8.4" height="8.4"/><rect x="1483.4" y="1378" width="8.4" height="8.4"/><rect x="1498" y="1377.4" width="8.4" height="8.4"/><rect x="1512.6" y="1374" width="8.4" height="8.4"/><rect x="1527.2" y="1374.6" width="8.4" height="8.4"/><rect x="1541.9" y="1374" width="8.4" height="8.4"/><rect x="1556.5" y="1370.9" width="8.4" height="8.4"/><rect x="1571.1" y="1366.7" width="8.4" height="8.4"/><rect x="1585.8" y="1368" width="8.4" height="8.4"/><rect x="1600.4" y="1361.5" width="8.4" height="8.4"/><rect x="1615" y="1357.5" width="8.4" height="8.4"/><rect x="1629.6" y="1354.9" width="8.4" height="8.4"/><rect x="1644.3" y="1348.1" width="8.4" height="8.4"/><rect x="1658.9" y="1345.5" width="8.4" height="8.4"/><rect x="1673.5" y="1342.3" width="8.4" height="8.4"/><rect x="1688.2" y="1334.5" width="8.4" height="8.4"/><rect x="1702.8" y="1329.2" width="8.4" height="8.4"/></g>
<g fill="#848484" stroke="none"><polyline points="1429.1,1390.8 1443.7,1385.3 1458.3,1377.4 1472.9,1365.1 1487.6,1356 1502.2,1349.7 1516.8,1343.7 1531.4,1337.1 1546.1,1331.1 1560.7,1319 1575.3,1307.5 1590,1298.1 1604.6,1281.6 1619.2,1266.9 1633.8,1260.9 1648.5,1253 1663.1,1248.1 1677.7,1242 1692.4,1238.6 1707,1237.1" fill="none" stroke="#848484" stroke-width="1.1"/><circle cx="1429.1" cy="1390.8" r="4.35"/><circle cx="1443.7" cy="1385.3" r="4.35"/><circle cx="1458.3" cy="1377.4" r="4.35"/><circle cx="1472.9" cy="1365.1" r="4.35"/><circle cx="1487.6" cy="1356" r="4.35"/><circle cx="1502.2" cy="1349.7" r="4.35"/><circle cx="1516.8" cy="1343.7" r="4.35"/><circle cx="1531.4" cy="1337.1" r="4.35"/><circle cx="1546.1" cy="1331.1" r="4.35"/><circle cx="1560.7" cy="1319" r="4.35"/><circle cx="1575.3" cy="1307.5" r="4.35"/><circle cx="1590" cy="1298.1" r="4.35"/><circle cx="1604.6" cy="1281.6" r="4.35"/><circle cx="1619.2" cy="1266.9" r="4.35"/><circle cx="1633.8" cy="1260.9" r="4.35"/><circle cx="1648.5" cy="1253" r="4.35"/><circle cx="1663.1" cy="1248.1" r="4.35"/><circle cx="1677.7" cy="1242" r="4.35"/><circle cx="1692.4" cy="1238.6" r="4.35"/><circle cx="1707" cy="1237.1" r="4.35"/></g>
<path d="M1429.1 1208V1417.4M1420.5 1416.5H1722.4M1420.5 1226.8h8.6M1420.5 1321.9h8.6M1429.1 1416.5v8.4M1502.1 1416.5v8.4M1575.2 1416.5v8.4M1648.5 1416.5v8.4M1721.6 1416.5v8.4" fill="none" stroke="#000" stroke-width="1.8"/>
<g font-size="15" text-anchor="end">
<text x="1418.6" y="1232.1">100</text>
<text x="1418.6" y="1327.2">50</text>
<text x="1418.6" y="1421.8">0</text>
</g><g font-size="15" text-anchor="middle">
<text x="1429.1" y="1441.7">0</text>
<text x="1502.1" y="1441.7">20</text>
<text x="1575.2" y="1441.7">40</text>
<text x="1648.5" y="1441.7">60</text>
<text x="1721.6" y="1441.7">80</text>
</g>
<text x="1574.9" y="1466.8" font-size="16" text-anchor="middle">Hours</text>
<text transform="translate(1383.8 1313.4) rotate(-90)" font-size="16.8" text-anchor="middle">Phase Object Confluence (%)</text>
<text transform="translate(1739.2 1360.8) rotate(-90)" font-size="17.4" text-anchor="middle" letter-spacing="0.85" stroke="#000" stroke-width="0.45">***</text>
<text transform="translate(1756.7 1324.7) rotate(-90)" font-size="17.4" text-anchor="middle" letter-spacing="0.85" stroke="#000" stroke-width="0.45">***</text>
<text transform="translate(1773.2 1311.8) rotate(-90)" font-size="17.4" text-anchor="middle" letter-spacing="0.85" stroke="#000" stroke-width="0.45">****</text>
<path d="M1713.2 1329H1722.4V1394.5H1713.2M1731 1264.3H1740.2V1395.3H1731M1746.8 1237.1H1755.9V1395.3H1746.8" fill="none" stroke="#000" stroke-width="2.1"/>
</g>
<text transform="translate(332.2 1545.8) rotate(0) scale(0.980 1)" font-size="30.4" text-anchor="middle">Sorafenib</text><rect x="172.2" y="1559.7" width="323.7" height="6.2" fill="#000"/><text transform="translate(251.6 1603.4) rotate(0) scale(0.990 1)" font-size="30.2" text-anchor="middle">Vehicle</text><text transform="translate(412.1 1603.4) rotate(0) scale(0.990 1)" font-size="30.2" text-anchor="middle">2 µM</text>
<path d="M127.1 1620L124.3 1936.9" stroke="#000" stroke-width="5.6" fill="none"/><text transform="translate(113.7 1775.4) rotate(-90) scale(0.912 1)" font-size="32.3" text-anchor="middle">LZX-2-73</text><text transform="translate(160 1711.5) rotate(-90) scale(0.975 1)" font-size="31.2" text-anchor="middle">Vehicle</text><text transform="translate(160 1860) rotate(-90) scale(0.975 1)" font-size="31.2" text-anchor="middle">4 µM</text>
<g><filter id="mb17" x="0" y="0" width="100%" height="100%" color-interpolation-filters="sRGB"><feTurbulence type="fractalNoise" baseFrequency="0.46" numOctaves="2" seed="117" result="n"/><feColorMatrix in="n" type="matrix" values="0.2 0 0 0 0.422 0.2 0 0 0 0.422 0.2 0 0 0 0.422 0 0 0 0 1" result="g"/></filter><rect x="176.1" y="1617.1" width="158.7" height="157.9" filter="url(#mb17)"/><filter id="mf17" x="0" y="0" width="100%" height="100%" color-interpolation-filters="sRGB"><feTurbulence type="fractalNoise" baseFrequency="0.5" numOctaves="2" seed="17" result="n"/><feColorMatrix in="n" type="matrix" values="0.36 0 0 0 0.342 0.36 0 0 0 0.342 0.36 0 0 0 0.342 0 0 0 0 1" result="g"/><feTurbulence type="fractalNoise" baseFrequency="0.015" numOctaves="2" seed="48" result="p"/><feColorMatrix in="p" type="matrix" values="0 0 0 0 0 0 0 0 0 0 0 0 0 0 0 10 0 0 0 -4.5" result="m"/><feComposite in="g" in2="m" operator="in"/></filter><rect x="176.1" y="1617.1" width="158.7" height="157.9" filter="url(#mf17)"/><clipPath id="mc17"><rect x="176.1" y="1617.1" width="158.7" height="157.9"/></clipPath><g clip-path="url(#mc17)"><path d="M315.7 1639.4L318.7 1631.8M185 1677.1L192 1678.7M267.7 1705.9L275.1 1704.8M215.8 1737L214.4 1738.4M229.8 1669.4L237.8 1669.7M289.1 1690.7L284.4 1684.1M293.2 1662.4L290.3 1657.3M285.9 1618.7L284.7 1611.1M289.5 1628.5L281.9 1633.1M219.1 1635.4L217.6 1634.7M242.8 1759.6L238.3 1760.9M224.4 1763.3L229.2 1766.2M191.6 1669.4L196.4 1667.6" fill="none" stroke="#b4b4b4" stroke-width="1.6" stroke-opacity="0.3" stroke-linecap="round"/><path d="M315.7 1639.4L318.7 1631.8M185 1677.1L192 1678.7M267.7 1705.9L275.1 1704.8M215.8 1737L214.4 1738.4M229.8 1669.4L237.8 1669.7M289.1 1690.7L284.4 1684.1M293.2 1662.4L290.3 1657.3M285.9 1618.7L284.7 1611.1M289.5 1628.5L281.9 1633.1M219.1 1635.4L217.6 1634.7M242.8 1759.6L238.3 1760.9M224.4 1763.3L229.2 1766.2M191.6 1669.4L196.4 1667.6" fill="none" stroke="#686868" stroke-width="0.8" stroke-opacity="0.6" stroke-linecap="round"/><g fill="#666666" fill-opacity="0.6" stroke="#c2c2c2" stroke-width="1.1" stroke-opacity="0.5"><ellipse cx="258.9" cy="1743.2" rx="3.6" ry="1.5" transform="rotate(172 258.9 1743.2)"/><circle cx="195.1" cy="1623.2" r="1.6"/><ellipse cx="227.2" cy="1749.3" rx="4" ry="1" transform="rotate(170 227.2 1749.3)"/><ellipse cx="313.5" cy="1642.3" rx="4.6" ry="1.1" transform="rotate(127 313.5 1642.3)"/><ellipse cx="323.5" cy="1692.1" rx="3.1" ry="1.6" transform="rotate(179 323.5 1692.1)"/><ellipse cx="180.9" cy="1676.4" rx="5.3" ry="1.8" transform="rotate(9 180.9 1676.4)"/><ellipse cx="326.2" cy="1700.2" rx="3.6" ry="1.1" transform="rotate(64 326.2 1700.2)"/><ellipse cx="264" cy="1704.3" rx="5" ry="1.2" transform="rotate(23 264 1704.3)"/><circle cx="331.3" cy="1622.1" r="1.3"/><ellipse cx="218" cy="1734.2" rx="4.3" ry="1.4" transform="rotate(128 218 1734.2)"/><ellipse cx="326.8" cy="1723.2" rx="2.8" ry="1.2" transform="rotate(163 326.8 1723.2)"/><ellipse cx="226.9" cy="1667.8" rx="4.1" ry="1.2" transform="rotate(29 226.9 1667.8)"/><circle cx="276.6" cy="1656.3" r="1.4"/><ellipse cx="290.2" cy="1694" rx="4.4" ry="1.4" transform="rotate(70 290.2 1694)"/><ellipse cx="207.3" cy="1675.1" rx="5.3" ry="1.3" transform="rotate(5 207.3 1675.1)"/><ellipse cx="229" cy="1708.1" rx="4.6" ry="1.2" transform="rotate(167 229 1708.1)"/><ellipse cx="294.9" cy="1665.8" rx="4.7" ry="1.4" transform="rotate(63 294.9 1665.8)"/><circle cx="256.1" cy="1701.6" r="2.1"/><circle cx="305.9" cy="1691" r="1.6"/><ellipse cx="286.3" cy="1623.3" rx="5.9" ry="1.8" transform="rotate(84 286.3 1623.3)"/><circle cx="321" cy="1752.6" r="2.1"/><ellipse cx="292.3" cy="1628.3" rx="3.5" ry="1.7" transform="rotate(175 292.3 1628.3)"/><circle cx="294.1" cy="1671.3" r="1.8"/><circle cx="222.2" cy="1668.6" r="1.6"/><ellipse cx="221.9" cy="1638.3" rx="5.1" ry="1.1" transform="rotate(44 221.9 1638.3)"/><ellipse cx="245.8" cy="1757.2" rx="4.8" ry="1.5" transform="rotate(140 245.8 1757.2)"/><ellipse cx="221.7" cy="1762.7" rx="3.5" ry="1" transform="rotate(11 221.7 1762.7)"/><circle cx="222.8" cy="1656.4" r="1.2"/><circle cx="254.3" cy="1685.4" r="2"/><ellipse cx="189.4" cy="1671.4" rx="3.8" ry="1.6" transform="rotate(137 189.4 1671.4)"/></g></g><path d="M191.5 1754.1v3.2H264.2v-3.2M227.8 1757.3v-1.6" stroke="#d2c776" stroke-width="0.9" stroke-opacity="0.75" fill="none"/><g font-size="5" text-anchor="middle" opacity="0.7"><text x="191.5" y="1752.9" style="fill:#d2c776">0</text><text x="227.8" y="1752.9" style="fill:#d2c776">µm</text><text x="265.2" y="1752.9" style="fill:#d2c776">400</text><text x="192.5" y="1763.7" text-anchor="start" font-size="4.6" style="fill:#d2c776">1.75 x 1.28 mm, 2.37 mm²</text></g></g>
<g><filter id="mf18" x="0" y="0" width="100%" height="100%" color-interpolation-filters="sRGB"><feTurbulence type="fractalNoise" baseFrequency="0.55" numOctaves="1" seed="18" result="n"/><feColorMatrix in="n" type="matrix" values="0.1 0 0 0 0.472 0.1 0 0 0 0.472 0.1 0 0 0 0.472 0 0 0 0 1" result="g"/></filter><rect x="341.9" y="1617.1" width="159" height="157.9" filter="url(#mf18)"/><clipPath id="mc18"><rect x="341.9" y="1617.1" width="159" height="157.9"/></clipPath><g clip-path="url(#mc18)"><path d="M373.3 1723.2L377.3 1728.3M360.3 1701.2L357.4 1704.6M438.5 1641.3L436 1639M444.9 1738.8L450.2 1737.7M374.1 1685.6L375.9 1690.5M469 1652.6L475.8 1651.5M472 1728.1L467.6 1729.6M365.5 1725.5L366.6 1731M476.8 1721.1L472.6 1713.6M397.8 1629.2L390.6 1629.3M422.8 1658.1L424.9 1663.1M456.9 1716.5L460.1 1718.7M405.8 1747.4L400.3 1751.6M368.2 1670.1L363 1677.5M364.9 1661.9L364.8 1657.4" fill="none" stroke="#b4b4b4" stroke-width="1.6" stroke-opacity="0.3" stroke-linecap="round"/><path d="M373.3 1723.2L377.3 1728.3M360.3 1701.2L357.4 1704.6M438.5 1641.3L436 1639M444.9 1738.8L450.2 1737.7M374.1 1685.6L375.9 1690.5M469 1652.6L475.8 1651.5M472 1728.1L467.6 1729.6M365.5 1725.5L366.6 1731M476.8 1721.1L472.6 1713.6M397.8 1629.2L390.6 1629.3M422.8 1658.1L424.9 1663.1M456.9 1716.5L460.1 1718.7M405.8 1747.4L400.3 1751.6M368.2 1670.1L363 1677.5M364.9 1661.9L364.8 1657.4" fill="none" stroke="#686868" stroke-width="0.8" stroke-opacity="0.6" stroke-linecap="round"/><g fill="#666666" fill-opacity="0.6" stroke="#c2c2c2" stroke-width="1.1" stroke-opacity="0.5"><ellipse cx="372" cy="1720.9" rx="3.3" ry="1.3" transform="rotate(60 372 1720.9)"/><ellipse cx="362.2" cy="1699.5" rx="3.2" ry="1.6" transform="rotate(137 362.2 1699.5)"/><circle cx="448.9" cy="1753.5" r="1.1"/><ellipse cx="495.1" cy="1653" rx="4.5" ry="1.4" transform="rotate(130 495.1 1653)"/><ellipse cx="436.9" cy="1665.8" rx="4.3" ry="1" transform="rotate(20 436.9 1665.8)"/><ellipse cx="441.7" cy="1643.8" rx="5.1" ry="1.3" transform="rotate(37 441.7 1643.8)"/><circle cx="396.5" cy="1744" r="1.2"/><circle cx="367.5" cy="1631.2" r="2"/><ellipse cx="441.5" cy="1741" rx="5.1" ry="1.8" transform="rotate(147 441.5 1741)"/><ellipse cx="372" cy="1683.2" rx="4" ry="1" transform="rotate(48 372 1683.2)"/><ellipse cx="452.2" cy="1752" rx="4.1" ry="1.5" transform="rotate(161 452.2 1752)"/><ellipse cx="482" cy="1620" rx="5.6" ry="0.9" transform="rotate(100 482 1620)"/><ellipse cx="383.8" cy="1733.4" rx="4.6" ry="1.7" transform="rotate(86 383.8 1733.4)"/><ellipse cx="466.7" cy="1653.7" rx="3.2" ry="1.5" transform="rotate(153 466.7 1653.7)"/><circle cx="458" cy="1768.8" r="1.2"/><ellipse cx="474" cy="1726.6" rx="3.1" ry="1.4" transform="rotate(143 474 1726.6)"/><ellipse cx="405.4" cy="1681.9" rx="5.3" ry="0.9" transform="rotate(92 405.4 1681.9)"/><circle cx="468.3" cy="1626.1" r="1.3"/><ellipse cx="365" cy="1723.1" rx="3" ry="1.7" transform="rotate(78 365 1723.1)"/><circle cx="453.8" cy="1753.7" r="2.1"/><ellipse cx="358.4" cy="1675.1" rx="4.9" ry="1.7" transform="rotate(97 358.4 1675.1)"/><ellipse cx="477.1" cy="1723.2" rx="2.7" ry="1.7" transform="rotate(81 477.1 1723.2)"/><ellipse cx="400.5" cy="1629.3" rx="3.4" ry="1.5" transform="rotate(2 400.5 1629.3)"/><circle cx="346.6" cy="1684.4" r="1.2"/><ellipse cx="421.3" cy="1656.4" rx="2.8" ry="1.6" transform="rotate(49 421.3 1656.4)"/><ellipse cx="453.7" cy="1714.3" rx="4.9" ry="1.7" transform="rotate(34 453.7 1714.3)"/><ellipse cx="407.8" cy="1746.6" rx="2.7" ry="1.1" transform="rotate(156 407.8 1746.6)"/><ellipse cx="412.8" cy="1717.4" rx="3.1" ry="1.5" transform="rotate(77 412.8 1717.4)"/><circle cx="452.2" cy="1704.2" r="1.8"/><circle cx="459.9" cy="1714.3" r="1.6"/><circle cx="494.2" cy="1672.8" r="1.5"/><circle cx="396.7" cy="1621.3" r="1.9"/><circle cx="490.4" cy="1713.7" r="1.1"/><circle cx="430.8" cy="1765.3" r="1.9"/><ellipse cx="368.9" cy="1665.9" rx="5.4" ry="1.4" transform="rotate(99 368.9 1665.9)"/><circle cx="417.1" cy="1683.4" r="1.6"/><circle cx="448.1" cy="1749.7" r="1.3"/><ellipse cx="366.6" cy="1666.4" rx="6" ry="1.7" transform="rotate(69 366.6 1666.4)"/><ellipse cx="379.6" cy="1736.5" rx="4" ry="1" transform="rotate(172 379.6 1736.5)"/><ellipse cx="352.4" cy="1739.3" rx="5.6" ry="1" transform="rotate(135 352.4 1739.3)"/></g></g><path d="M357.3 1754.1v3.2H430.1v-3.2M393.7 1757.3v-1.6" stroke="#d2c776" stroke-width="0.9" stroke-opacity="0.75" fill="none"/><g font-size="5" text-anchor="middle" opacity="0.7"><text x="357.3" y="1752.9" style="fill:#d2c776">0</text><text x="393.7" y="1752.9" style="fill:#d2c776">µm</text><text x="431.1" y="1752.9" style="fill:#d2c776">400</text><text x="358.3" y="1763.7" text-anchor="start" font-size="4.6" style="fill:#d2c776">1.75 x 1.28 mm, 2.37 mm²</text></g></g>
<g><filter id="mb19" x="0" y="0" width="100%" height="100%" color-interpolation-filters="sRGB"><feTurbulence type="fractalNoise" baseFrequency="0.55" numOctaves="1" seed="119" result="n"/><feColorMatrix in="n" type="matrix" values="0.1 0 0 0 0.472 0.1 0 0 0 0.472 0.1 0 0 0 0.472 0 0 0 0 1" result="g"/></filter><rect x="176.1" y="1781" width="158.7" height="157.7" filter="url(#mb19)"/><filter id="mf19" x="0" y="0" width="100%" height="100%" color-interpolation-filters="sRGB"><feTurbulence type="fractalNoise" baseFrequency="0.46" numOctaves="2" seed="19" result="n"/><feColorMatrix in="n" type="matrix" values="0.2 0 0 0 0.422 0.2 0 0 0 0.422 0.2 0 0 0 0.422 0 0 0 0 1" result="g"/><feTurbulence type="fractalNoise" baseFrequency="0.02" numOctaves="2" seed="50" result="p"/><feColorMatrix in="p" type="matrix" values="0 0 0 0 0 0 0 0 0 0 0 0 0 0 0 12 0 0 0 -5.76" result="m"/><feComposite in="g" in2="m" operator="in"/></filter><rect x="176.1" y="1781" width="158.7" height="157.7" filter="url(#mf19)"/><clipPath id="mc19"><rect x="176.1" y="1781" width="158.7" height="157.7"/></clipPath><g clip-path="url(#mc19)"><path d="M282.6 1907.2L284.6 1910.8M317.3 1925.7L319.5 1926.2M284.3 1827.8L290.3 1825.4M216.7 1800.2L210.7 1796.4M327 1844.2L323.3 1838.8M218.7 1853.4L212.3 1852.2M282.7 1928.2L286.6 1925.5M299.8 1872.7L293.9 1874.8M189.2 1817.6L184.2 1816.4M184.3 1890.5L185 1892.9M188.3 1918.3L185.8 1922.8M326 1787.9L328.8 1787.5M300.2 1812.4L298.7 1808M255.7 1884.9L261.2 1880.6M252.6 1918.6L252.3 1914.8M212.1 1784.5L216.1 1783.4M265.8 1926.4L270.1 1933.8M202.1 1840.7L207 1835.5M232.3 1920.4L235 1924.9" fill="none" stroke="#b4b4b4" stroke-width="1.6" stroke-opacity="0.3" stroke-linecap="round"/><path d="M282.6 1907.2L284.6 1910.8M317.3 1925.7L319.5 1926.2M284.3 1827.8L290.3 1825.4M216.7 1800.2L210.7 1796.4M327 1844.2L323.3 1838.8M218.7 1853.4L212.3 1852.2M282.7 1928.2L286.6 1925.5M299.8 1872.7L293.9 1874.8M189.2 1817.6L184.2 1816.4M184.3 1890.5L185 1892.9M188.3 1918.3L185.8 1922.8M326 1787.9L328.8 1787.5M300.2 1812.4L298.7 1808M255.7 1884.9L261.2 1880.6M252.6 1918.6L252.3 1914.8M212.1 1784.5L216.1 1783.4M265.8 1926.4L270.1 1933.8M202.1 1840.7L207 1835.5M232.3 1920.4L235 1924.9" fill="none" stroke="#686868" stroke-width="0.8" stroke-opacity="0.6" stroke-linecap="round"/><g fill="#666666" fill-opacity="0.6" stroke="#c2c2c2" stroke-width="1.1" stroke-opacity="0.5"><ellipse cx="282.9" cy="1903.6" rx="4.4" ry="1.8" transform="rotate(93 282.9 1903.6)"/><circle cx="327.9" cy="1911.3" r="1.7"/><ellipse cx="314.1" cy="1924.5" rx="4.2" ry="1" transform="rotate(20 314.1 1924.5)"/><ellipse cx="279.9" cy="1829" rx="5.6" ry="1.8" transform="rotate(164 279.9 1829)"/><circle cx="199.5" cy="1879.3" r="1.6"/><ellipse cx="252.3" cy="1801.4" rx="4.4" ry="1.7" transform="rotate(86 252.3 1801.4)"/><circle cx="315.9" cy="1820.6" r="1.8"/><ellipse cx="218.8" cy="1802.7" rx="4.1" ry="1.3" transform="rotate(51 218.8 1802.7)"/><ellipse cx="327.4" cy="1847.6" rx="4.3" ry="1.8" transform="rotate(83 327.4 1847.6)"/><ellipse cx="222.3" cy="1854.8" rx="4.8" ry="1.5" transform="rotate(20 222.3 1854.8)"/><ellipse cx="279" cy="1929" rx="4.7" ry="1.8" transform="rotate(167 279 1929)"/><ellipse cx="310.4" cy="1792.9" rx="4.3" ry="1.8" transform="rotate(52 310.4 1792.9)"/><ellipse cx="302.4" cy="1869.4" rx="5.3" ry="1.6" transform="rotate(129 302.4 1869.4)"/><circle cx="313" cy="1817.4" r="1.7"/><ellipse cx="193.7" cy="1893.3" rx="5.1" ry="1.1" transform="rotate(125 193.7 1893.3)"/><ellipse cx="229.4" cy="1893.7" rx="5" ry="1.5" transform="rotate(114 229.4 1893.7)"/><circle cx="192.6" cy="1850.2" r="1.4"/><ellipse cx="191.8" cy="1817.8" rx="3.2" ry="1.5" transform="rotate(5 191.8 1817.8)"/><ellipse cx="185.3" cy="1887.9" rx="3.5" ry="1.7" transform="rotate(110 185.3 1887.9)"/><circle cx="198" cy="1889.8" r="1.8"/><ellipse cx="194.1" cy="1820" rx="4.3" ry="1.4" transform="rotate(24 194.1 1820)"/><ellipse cx="187.3" cy="1913.5" rx="6.1" ry="1.3" transform="rotate(78 187.3 1913.5)"/><circle cx="259.4" cy="1787.1" r="1.9"/><circle cx="242.6" cy="1803.9" r="1.7"/><ellipse cx="191.4" cy="1899.3" rx="2.8" ry="1.8" transform="rotate(78 191.4 1899.3)"/><ellipse cx="308.3" cy="1927.4" rx="4.4" ry="1.3" transform="rotate(48 308.3 1927.4)"/><circle cx="243.6" cy="1786.3" r="1.7"/><circle cx="332" cy="1926.4" r="1.2"/><ellipse cx="322.1" cy="1787" rx="5" ry="1.4" transform="rotate(13 322.1 1787)"/><circle cx="330.3" cy="1826.2" r="1.5"/><ellipse cx="205.9" cy="1881.3" rx="3.5" ry="1" transform="rotate(87 205.9 1881.3)"/><ellipse cx="299.3" cy="1815.1" rx="3.6" ry="1.2" transform="rotate(107 299.3 1815.1)"/><ellipse cx="253.2" cy="1885.8" rx="3.3" ry="1.1" transform="rotate(161 253.2 1885.8)"/><ellipse cx="253.5" cy="1922.1" rx="4.5" ry="1.4" transform="rotate(74 253.5 1922.1)"/><ellipse cx="208" cy="1784.9" rx="5.1" ry="1.7" transform="rotate(173 208 1784.9)"/><ellipse cx="321" cy="1915.5" rx="5" ry="1.4" transform="rotate(111 321 1915.5)"/><ellipse cx="265.1" cy="1922" rx="5.5" ry="1.2" transform="rotate(81 265.1 1922)"/><circle cx="238.8" cy="1816.1" r="1.4"/><ellipse cx="200.7" cy="1844" rx="4.5" ry="1.3" transform="rotate(113 200.7 1844)"/><ellipse cx="229.7" cy="1919.1" rx="3.6" ry="1.6" transform="rotate(27 229.7 1919.1)"/><circle cx="324.1" cy="1885.9" r="1.3"/><circle cx="207.4" cy="1900.9" r="1.2"/><ellipse cx="259.2" cy="1835.5" rx="3.9" ry="1.3" transform="rotate(86 259.2 1835.5)"/><circle cx="188.7" cy="1899.5" r="1.4"/><ellipse cx="318.5" cy="1930.4" rx="4" ry="1.2" transform="rotate(49 318.5 1930.4)"/></g></g><path d="M191.5 1917.8v3.2H264.2v-3.2M227.8 1921v-1.6" stroke="#d2c776" stroke-width="0.9" stroke-opacity="0.75" fill="none"/><g font-size="5" text-anchor="middle" opacity="0.7"><text x="191.5" y="1916.6" style="fill:#d2c776">0</text><text x="227.8" y="1916.6" style="fill:#d2c776">µm</text><text x="265.2" y="1916.6" style="fill:#d2c776">400</text><text x="192.5" y="1927.4" text-anchor="start" font-size="4.6" style="fill:#d2c776">1.75 x 1.28 mm, 2.37 mm²</text></g></g>
<g><filter id="mf20" x="0" y="0" width="100%" height="100%" color-interpolation-filters="sRGB"><feTurbulence type="fractalNoise" baseFrequency="0.55" numOctaves="1" seed="20" result="n"/><feColorMatrix in="n" type="matrix" values="0.1 0 0 0 0.472 0.1 0 0 0 0.472 0.1 0 0 0 0.472 0 0 0 0 1" result="g"/></filter><rect x="341.1" y="1781" width="158.7" height="157.7" filter="url(#mf20)"/><clipPath id="mc20"><rect x="341.1" y="1781" width="158.7" height="157.7"/></clipPath><g clip-path="url(#mc20)"><defs><g id="cs20"><circle cx="483.2" cy="1888.5" r="1.6"/><circle cx="383.3" cy="1880.7" r="1.7"/><circle cx="431.7" cy="1809" r="1.3"/><circle cx="359.1" cy="1832.1" r="1.8"/><circle cx="375.4" cy="1831.7" r="1.7"/><circle cx="363.5" cy="1835" r="1.7"/><circle cx="375" cy="1820.3" r="1.1"/><circle cx="430.2" cy="1804.8" r="1.5"/><circle cx="387" cy="1878.2" r="1.1"/><circle cx="431.9" cy="1791.6" r="1.6"/><circle cx="386.3" cy="1889.8" r="1.2"/><circle cx="483.3" cy="1924.8" r="1.1"/><circle cx="367.3" cy="1845.4" r="1.5"/><circle cx="437.3" cy="1808.9" r="1.2"/><circle cx="435.8" cy="1792.9" r="1.1"/><circle cx="388.2" cy="1885.1" r="0.9"/><circle cx="391.9" cy="1895.2" r="1.8"/><circle cx="461.1" cy="1791.4" r="1.5"/><circle cx="432.5" cy="1791.7" r="1.4"/><circle cx="386.1" cy="1893.6" r="1.5"/><circle cx="384.3" cy="1876.6" r="1.4"/><circle cx="367.3" cy="1925.3" r="1.6"/><circle cx="481.1" cy="1917.5" r="1.3"/><circle cx="359.9" cy="1836.2" r="1.1"/><circle cx="458.1" cy="1793.9" r="1"/><circle cx="370.8" cy="1908.1" r="1.2"/><circle cx="357.8" cy="1910.4" r="1.1"/><circle cx="365.4" cy="1894.5" r="0.9"/></g></defs><mask id="mm20" maskUnits="userSpaceOnUse" x="341.1" y="1781" width="158.7" height="157.7"><use href="#cs20" fill="#fff"/></mask><filter id="mi20" x="0" y="0" width="100%" height="100%" color-interpolation-filters="sRGB"><feTurbulence type="fractalNoise" baseFrequency="0.45" numOctaves="2" seed="27" result="n"/><feColorMatrix in="n" type="matrix" values="0.4 0 0 0 0.305 0.4 0 0 0 0.305 0.4 0 0 0 0.305 0 0 0 0 1" result="g"/></filter><g mask="url(#mm20)"><rect x="341.1" y="1781" width="158.7" height="157.7" filter="url(#mi20)"/></g><use href="#cs20" fill="none" stroke="#c8c8c8" stroke-width="1.3" stroke-opacity="0.42"/></g><path d="M356.5 1917.8v3.2H429.2v-3.2M392.8 1921v-1.6" stroke="#d2c776" stroke-width="0.9" stroke-opacity="0.75" fill="none"/><g font-size="5" text-anchor="middle" opacity="0.7"><text x="356.5" y="1916.6" style="fill:#d2c776">0</text><text x="392.8" y="1916.6" style="fill:#d2c776">µm</text><text x="430.2" y="1916.6" style="fill:#d2c776">400</text><text x="357.5" y="1927.4" text-anchor="start" font-size="4.6" style="fill:#d2c776">1.75 x 1.28 mm, 2.37 mm²</text></g></g>
<g>
<text x="733.9" y="1607.9" font-size="24" text-anchor="middle">PDAC056T</text>
<g font-size="16">
<g fill="#848484" stroke="none"><path d="M592.5 1640H613.5" stroke="#848484" stroke-width="1.1"/><circle cx="603" cy="1640" r="4.35"/></g>
<text x="625.2" y="1645.6">Control</text>
<g fill="#fdbe85" stroke="none"><path d="M592.5 1660.5H613.5" stroke="#fdbe85" stroke-width="1.1"/><rect x="598.8" y="1656.3" width="8.4" height="8.4"/></g>
<text x="625.2" y="1666.1">Sorafenib 2µM</text>
<g fill="#bcbe1c" stroke="none"><path d="M592.5 1680.1H613.5" stroke="#bcbe1c" stroke-width="1.1"/><path d="M603 1675.2l4.7 8h-9.4z"/></g>
<text x="625.2" y="1685.7">LZX-2-73 4µM</text>
<g fill="#f94144" stroke="none"><path d="M592.5 1700.3H613.5" stroke="#f94144" stroke-width="1.1"/><path d="M603 1705.2l4.7 -8h-9.4z"/></g>
<text x="625.2" y="1705.9">Sorafenib + LZX-2-73</text>
</g>
<g fill="#f94144" stroke="none"><polyline points="585.2,1880.8 599.7,1875.6 614.2,1876.4 628.7,1875.6 643.2,1872.5 657.7,1884.3 672.2,1872.2 686.7,1877.4 701.3,1870.4 715.8,1876.9 730.3,1878.2 744.8,1874.3 759.3,1875.6 773.8,1869.8 788.3,1869.6 802.8,1864.3 817.3,1867 831.8,1865.7 846.4,1865.9 860.9,1865.9" fill="none" stroke="#f94144" stroke-width="1.1"/><path d="M585.2 1885.7l4.7 -8h-9.4z"/><path d="M599.7 1880.5l4.7 -8h-9.4z"/><path d="M614.2 1881.3l4.7 -8h-9.4z"/><path d="M628.7 1880.5l4.7 -8h-9.4z"/><path d="M643.2 1877.4l4.7 -8h-9.4z"/><path d="M657.7 1889.2l4.7 -8h-9.4z"/><path d="M672.2 1877.1l4.7 -8h-9.4z"/><path d="M686.7 1882.3l4.7 -8h-9.4z"/><path d="M701.3 1875.3l4.7 -8h-9.4z"/><path d="M715.8 1881.8l4.7 -8h-9.4z"/><path d="M730.3 1883.1l4.7 -8h-9.4z"/><path d="M744.8 1879.2l4.7 -8h-9.4z"/><path d="M759.3 1880.5l4.7 -8h-9.4z"/><path d="M773.8 1874.7l4.7 -8h-9.4z"/><path d="M788.3 1874.5l4.7 -8h-9.4z"/><path d="M802.8 1869.2l4.7 -8h-9.4z"/><path d="M817.3 1871.9l4.7 -8h-9.4z"/><path d="M831.8 1870.6l4.7 -8h-9.4z"/><path d="M846.4 1870.8l4.7 -8h-9.4z"/><path d="M860.9 1870.8l4.7 -8h-9.4z"/></g>
<g fill="#bcbe1c" stroke="none"><polyline points="585.2,1879.5 599.7,1871.7 614.2,1863.8 628.7,1869.8 643.2,1865.7 657.7,1859.4 672.2,1862 686.7,1862 701.3,1858.6 715.8,1858.6 730.3,1859.4 744.8,1862.5 759.3,1854.1 773.8,1841.6 788.3,1835 802.8,1835.8 817.3,1835.8 831.8,1833.2 846.4,1832.4 860.9,1823.2" fill="none" stroke="#bcbe1c" stroke-width="1.1"/><path d="M585.2 1874.6l4.7 8h-9.4z"/><path d="M599.7 1866.8l4.7 8h-9.4z"/><path d="M614.2 1858.9l4.7 8h-9.4z"/><path d="M628.7 1864.9l4.7 8h-9.4z"/><path d="M643.2 1860.8l4.7 8h-9.4z"/><path d="M657.7 1854.5l4.7 8h-9.4z"/><path d="M672.2 1857.1l4.7 8h-9.4z"/><path d="M686.7 1857.1l4.7 8h-9.4z"/><path d="M701.3 1853.7l4.7 8h-9.4z"/><path d="M715.8 1853.7l4.7 8h-9.4z"/><path d="M730.3 1854.5l4.7 8h-9.4z"/><path d="M744.8 1857.6l4.7 8h-9.4z"/><path d="M759.3 1849.2l4.7 8h-9.4z"/><path d="M773.8 1836.7l4.7 8h-9.4z"/><path d="M788.3 1830.1l4.7 8h-9.4z"/><path d="M802.8 1830.9l4.7 8h-9.4z"/><path d="M817.3 1830.9l4.7 8h-9.4z"/><path d="M831.8 1828.3l4.7 8h-9.4z"/><path d="M846.4 1827.5l4.7 8h-9.4z"/><path d="M860.9 1818.3l4.7 8h-9.4z"/></g>
<g fill="#fdbe85" stroke="none"><polyline points="585.2,1879.5 599.7,1863.8 614.2,1857.3 628.7,1863.8 643.2,1858.6 657.7,1858.6 672.2,1853.3 686.7,1850.7 701.3,1852.8 715.8,1852 730.3,1851.5 744.8,1849.4 759.3,1842.9 773.8,1844.2 788.3,1835 802.8,1835.8 817.3,1833.7 831.8,1833.2 846.4,1832.4 860.9,1826.6" fill="none" stroke="#fdbe85" stroke-width="1.1"/><rect x="581" y="1875.3" width="8.4" height="8.4"/><rect x="595.5" y="1859.6" width="8.4" height="8.4"/><rect x="610" y="1853.1" width="8.4" height="8.4"/><rect x="624.5" y="1859.6" width="8.4" height="8.4"/><rect x="639" y="1854.4" width="8.4" height="8.4"/><rect x="653.5" y="1854.4" width="8.4" height="8.4"/><rect x="668" y="1849.1" width="8.4" height="8.4"/><rect x="682.5" y="1846.5" width="8.4" height="8.4"/><rect x="697.1" y="1848.6" width="8.4" height="8.4"/><rect x="711.6" y="1847.8" width="8.4" height="8.4"/><rect x="726.1" y="1847.3" width="8.4" height="8.4"/><rect x="740.6" y="1845.2" width="8.4" height="8.4"/><rect x="755.1" y="1838.7" width="8.4" height="8.4"/><rect x="769.6" y="1840" width="8.4" height="8.4"/><rect x="784.1" y="1830.8" width="8.4" height="8.4"/><rect x="798.6" y="1831.6" width="8.4" height="8.4"/><rect x="813.1" y="1829.5" width="8.4" height="8.4"/><rect x="827.6" y="1829" width="8.4" height="8.4"/><rect x="842.2" y="1828.2" width="8.4" height="8.4"/><rect x="856.7" y="1822.4" width="8.4" height="8.4"/></g>
<g fill="#848484" stroke="none"><polyline points="585.2,1876.9 599.7,1869.1 614.2,1862 628.7,1862 643.2,1863 657.7,1859.4 672.2,1852 686.7,1846.3 701.3,1833.7 715.8,1833.7 730.3,1831.1 744.8,1830 759.3,1801.5 773.8,1780.5 788.3,1776.6 802.8,1774.2 817.3,1768 831.8,1758.5 846.4,1753 860.9,1736.5" fill="none" stroke="#848484" stroke-width="1.1"/><path d="M686.7 1841V1851.5M683.7 1841h6M683.7 1851.5h6M730.3 1825.3V1836.8M727.3 1825.3h6M727.3 1836.8h6M759.3 1795.7V1807.2M756.3 1795.7h6M756.3 1807.2h6M773.8 1775.8V1785.2M770.8 1775.8h6M770.8 1785.2h6M802.8 1769V1779.5M799.8 1769h6M799.8 1779.5h6M831.8 1753.3V1763.8M828.8 1753.3h6M828.8 1763.8h6M846.4 1747.3V1758.8M843.4 1747.3h6M843.4 1758.8h6" fill="none" stroke="#848484" stroke-width="1.1"/><circle cx="585.2" cy="1876.9" r="4.35"/><circle cx="599.7" cy="1869.1" r="4.35"/><circle cx="614.2" cy="1862" r="4.35"/><circle cx="628.7" cy="1862" r="4.35"/><circle cx="643.2" cy="1863" r="4.35"/><circle cx="657.7" cy="1859.4" r="4.35"/><circle cx="672.2" cy="1852" r="4.35"/><circle cx="686.7" cy="1846.3" r="4.35"/><circle cx="701.3" cy="1833.7" r="4.35"/><circle cx="715.8" cy="1833.7" r="4.35"/><circle cx="730.3" cy="1831.1" r="4.35"/><circle cx="744.8" cy="1830" r="4.35"/><circle cx="759.3" cy="1801.5" r="4.35"/><circle cx="773.8" cy="1780.5" r="4.35"/><circle cx="788.3" cy="1776.6" r="4.35"/><circle cx="802.8" cy="1774.2" r="4.35"/><circle cx="817.3" cy="1768" r="4.35"/><circle cx="831.8" cy="1758.5" r="4.35"/><circle cx="846.4" cy="1753" r="4.35"/><circle cx="860.9" cy="1736.5" r="4.35"/></g>
<path d="M585.2 1710.6V1915.8M576.6 1914.9H876.2M576.6 1729.7h8.6M576.6 1822.2h8.6M585.2 1914.9v8.4M657.5 1914.9v8.4M730 1914.9v8.4M802.8 1914.9v8.4M875.4 1914.9v8.4" fill="none" stroke="#000" stroke-width="1.8"/>
<g font-size="15" text-anchor="end">
<text x="574.7" y="1735">100</text>
<text x="574.7" y="1827.5">50</text>
<text x="574.7" y="1920.2">0</text>
</g><g font-size="15" text-anchor="middle">
<text x="585.2" y="1940.1">0</text>
<text x="657.5" y="1940.1">20</text>
<text x="730" y="1940.1">40</text>
<text x="802.8" y="1940.1">60</text>
<text x="875.4" y="1940.1">80</text>
</g>
<text x="730" y="1964.1" font-size="16" text-anchor="middle">Time (Hours)</text>
<text transform="translate(540.2 1813.4) rotate(-90)" font-size="16.8" text-anchor="middle">Phase Object Confluence (%)</text>
<text transform="translate(894 1843.8) rotate(-90)" font-size="17.4" text-anchor="middle" letter-spacing="0.85" stroke="#000" stroke-width="0.45">***</text>
<text transform="translate(909.7 1843.8) rotate(-90)" font-size="17.4" text-anchor="middle" letter-spacing="0.85" stroke="#000" stroke-width="0.45">**</text>
<text transform="translate(924.1 1843.8) rotate(-90)" font-size="17.4" text-anchor="middle" letter-spacing="0.85" stroke="#000" stroke-width="0.45">***</text>
<path d="M869.6 1825.8H878.5V1865.1H869.6M885.3 1825.8H894.2V1865.1H885.3M898.9 1734.7H908.1V1865.1H898.9" fill="none" stroke="#000" stroke-width="2.1"/>
</g>
<text transform="translate(1172 1543.2) rotate(0) scale(0.980 1)" font-size="30.4" text-anchor="middle">Sorafenib</text><rect x="1011.1" y="1554.4" width="324" height="6.2" fill="#000"/><text transform="translate(1089.7 1598.2) rotate(0) scale(0.990 1)" font-size="30.2" text-anchor="middle">Vehicle</text><text transform="translate(1251.3 1598.2) rotate(0) scale(0.990 1)" font-size="30.2" text-anchor="middle">4 µM</text>
<path d="M966 1614.5L963.2 1931.6" stroke="#000" stroke-width="5.6" fill="none"/><text transform="translate(953.7 1770.4) rotate(-90) scale(0.912 1)" font-size="32.3" text-anchor="middle">LZX-2-73</text><text transform="translate(998.7 1706.3) rotate(-90) scale(0.975 1)" font-size="31.2" text-anchor="middle">Vehicle</text><text transform="translate(998.7 1854.6) rotate(-90) scale(0.975 1)" font-size="31.2" text-anchor="middle">6 µM</text>
<g><filter id="mf21" x="0" y="0" width="100%" height="100%" color-interpolation-filters="sRGB"><feTurbulence type="fractalNoise" baseFrequency="0.46" numOctaves="2" seed="21" result="n"/><feColorMatrix in="n" type="matrix" values="0.2 0 0 0 0.422 0.2 0 0 0 0.422 0.2 0 0 0 0.422 0 0 0 0 1" result="g"/></filter><rect x="1014.3" y="1610" width="159.2" height="157.7" filter="url(#mf21)"/><clipPath id="mc21"><rect x="1014.3" y="1610" width="159.2" height="157.7"/></clipPath><g clip-path="url(#mc21)"><path d="M1035.1 1751L1032.5 1748.4M1118.6 1739.6L1118.1 1742.7M1152.7 1671.9L1150 1668.8M1165.1 1611.6L1157.1 1612.9M1072.1 1757.9L1076.3 1764.7M1118 1750.6L1110.8 1750.1M1161 1653.1L1159.2 1657.3M1089.6 1635.7L1087.3 1641.4M1146.2 1699.5L1142.9 1696.6M1135.6 1622L1128.3 1616.9M1044.8 1729L1039.6 1736.6M1133.1 1641.2L1129.3 1642.6M1143.3 1739.2L1144.8 1743.7M1120.6 1619.4L1126.4 1624.8M1072.1 1709L1067.2 1713.9M1040.5 1681.3L1037.3 1682.2M1158.9 1692.7L1162 1694.9M1085.8 1747.2L1084.3 1744.2M1023.4 1681.5L1018.4 1682M1067.4 1650.8L1066.9 1648.9M1061.7 1621.4L1065 1621.3M1123.7 1721.6L1121.5 1717.2M1047.1 1685.9L1044.9 1689M1132.1 1749.8L1134.4 1756.7M1154.3 1762.1L1148.1 1766.2M1169.8 1668L1167.2 1660.3M1101.1 1731.4L1098.4 1734.6M1045 1743.1L1040 1744.5M1141.6 1623.9L1136.9 1625.3M1088.7 1695.1L1086.9 1692.6M1145.2 1715.3L1147.6 1709.4M1147.5 1751.9L1141.3 1752.1M1131.7 1691.2L1126.6 1693.3M1067 1718.7L1071.3 1717.8M1047 1730.4L1051.2 1733.6M1056.1 1664.1L1060.8 1671.2M1136.3 1645.3L1130.6 1649.6M1143.9 1749.8L1146.9 1743.5M1164.6 1764L1167.6 1768.7" fill="none" stroke="#b4b4b4" stroke-width="1.6" stroke-opacity="0.3" stroke-linecap="round"/><path d="M1035.1 1751L1032.5 1748.4M1118.6 1739.6L1118.1 1742.7M1152.7 1671.9L1150 1668.8M1165.1 1611.6L1157.1 1612.9M1072.1 1757.9L1076.3 1764.7M1118 1750.6L1110.8 1750.1M1161 1653.1L1159.2 1657.3M1089.6 1635.7L1087.3 1641.4M1146.2 1699.5L1142.9 1696.6M1135.6 1622L1128.3 1616.9M1044.8 1729L1039.6 1736.6M1133.1 1641.2L1129.3 1642.6M1143.3 1739.2L1144.8 1743.7M1120.6 1619.4L1126.4 1624.8M1072.1 1709L1067.2 1713.9M1040.5 1681.3L1037.3 1682.2M1158.9 1692.7L1162 1694.9M1085.8 1747.2L1084.3 1744.2M1023.4 1681.5L1018.4 1682M1067.4 1650.8L1066.9 1648.9M1061.7 1621.4L1065 1621.3M1123.7 1721.6L1121.5 1717.2M1047.1 1685.9L1044.9 1689M1132.1 1749.8L1134.4 1756.7M1154.3 1762.1L1148.1 1766.2M1169.8 1668L1167.2 1660.3M1101.1 1731.4L1098.4 1734.6M1045 1743.1L1040 1744.5M1141.6 1623.9L1136.9 1625.3M1088.7 1695.1L1086.9 1692.6M1145.2 1715.3L1147.6 1709.4M1147.5 1751.9L1141.3 1752.1M1131.7 1691.2L1126.6 1693.3M1067 1718.7L1071.3 1717.8M1047 1730.4L1051.2 1733.6M1056.1 1664.1L1060.8 1671.2M1136.3 1645.3L1130.6 1649.6M1143.9 1749.8L1146.9 1743.5M1164.6 1764L1167.6 1768.7" fill="none" stroke="#686868" stroke-width="0.8" stroke-opacity="0.6" stroke-linecap="round"/><g fill="#666666" fill-opacity="0.6" stroke="#c2c2c2" stroke-width="1.1" stroke-opacity="0.5"><circle cx="1041.9" cy="1718" r="1.9"/><circle cx="1141.7" cy="1690.8" r="1.5"/><circle cx="1107.1" cy="1622.6" r="1.1"/><circle cx="1171.1" cy="1725.5" r="1.4"/><circle cx="1093.5" cy="1629.8" r="1.9"/><ellipse cx="1035.7" cy="1754.6" rx="4.6" ry="1.3" transform="rotate(81 1035.7 1754.6)"/><ellipse cx="1120.9" cy="1735.4" rx="6" ry="1.8" transform="rotate(118 1120.9 1735.4)"/><ellipse cx="1154" cy="1675" rx="4.2" ry="1.8" transform="rotate(65 1154 1675)"/><ellipse cx="1168.8" cy="1612.4" rx="4.8" ry="1.4" transform="rotate(12 1168.8 1612.4)"/><ellipse cx="1070.3" cy="1754.5" rx="4.8" ry="1" transform="rotate(62 1070.3 1754.5)"/><ellipse cx="1121.2" cy="1750.1" rx="4.1" ry="1.8" transform="rotate(172 1121.2 1750.1)"/><ellipse cx="1161.6" cy="1649.8" rx="4.2" ry="1.6" transform="rotate(101 1161.6 1649.8)"/><circle cx="1054.9" cy="1672.6" r="1.3"/><ellipse cx="1129.4" cy="1619.6" rx="4.9" ry="1.3" transform="rotate(25 1129.4 1619.6)"/><ellipse cx="1155.9" cy="1668.2" rx="3.9" ry="1.3" transform="rotate(27 1155.9 1668.2)"/><ellipse cx="1090.3" cy="1633.3" rx="3.1" ry="1.2" transform="rotate(105 1090.3 1633.3)"/><ellipse cx="1148.5" cy="1701.8" rx="4.1" ry="1.7" transform="rotate(46 1148.5 1701.8)"/><ellipse cx="1138.3" cy="1623" rx="3.6" ry="1.7" transform="rotate(21 1138.3 1623)"/><ellipse cx="1047.6" cy="1726.4" rx="4.8" ry="1.6" transform="rotate(136 1047.6 1726.4)"/><ellipse cx="1134.9" cy="1638.9" rx="3.5" ry="1.2" transform="rotate(128 1134.9 1638.9)"/><ellipse cx="1143.2" cy="1735.4" rx="4.7" ry="1" transform="rotate(88 1143.2 1735.4)"/><circle cx="1133.9" cy="1641.1" r="1.2"/><ellipse cx="1118.4" cy="1676.6" rx="4.9" ry="1.6" transform="rotate(156 1118.4 1676.6)"/><ellipse cx="1094.7" cy="1757.6" rx="5.1" ry="1.4" transform="rotate(122 1094.7 1757.6)"/><circle cx="1027.2" cy="1615.8" r="1.7"/><ellipse cx="1079.1" cy="1677.6" rx="4" ry="1.1" transform="rotate(143 1079.1 1677.6)"/><ellipse cx="1117.9" cy="1617.8" rx="3.9" ry="1.1" transform="rotate(31 1117.9 1617.8)"/><ellipse cx="1076.2" cy="1706.5" rx="6.1" ry="0.9" transform="rotate(148 1076.2 1706.5)"/><ellipse cx="1043.5" cy="1692.3" rx="4" ry="1.8" transform="rotate(111 1043.5 1692.3)"/><ellipse cx="1042.1" cy="1678.6" rx="3.9" ry="1.1" transform="rotate(122 1042.1 1678.6)"/><ellipse cx="1155.9" cy="1689.9" rx="5.1" ry="1" transform="rotate(42 1155.9 1689.9)"/><ellipse cx="1043.4" cy="1671.1" rx="3.3" ry="0.9" transform="rotate(49 1043.4 1671.1)"/><circle cx="1161.4" cy="1720.3" r="1.7"/><circle cx="1125" cy="1648.9" r="1.4"/><ellipse cx="1086.8" cy="1749.5" rx="3.1" ry="1.6" transform="rotate(66 1086.8 1749.5)"/><ellipse cx="1054.2" cy="1700.4" rx="4.7" ry="1.6" transform="rotate(148 1054.2 1700.4)"/><ellipse cx="1027.6" cy="1679" rx="6.2" ry="1" transform="rotate(149 1027.6 1679)"/><ellipse cx="1068.8" cy="1653.5" rx="3.7" ry="1.7" transform="rotate(63 1068.8 1653.5)"/><ellipse cx="1058.2" cy="1621" rx="4.4" ry="1.5" transform="rotate(6 1058.2 1621)"/><ellipse cx="1123.5" cy="1723.9" rx="2.9" ry="1.1" transform="rotate(94 1123.5 1723.9)"/><circle cx="1090.6" cy="1744.8" r="1.2"/><circle cx="1122" cy="1711.6" r="1.4"/><ellipse cx="1048.9" cy="1683.3" rx="3.9" ry="1.1" transform="rotate(125 1048.9 1683.3)"/><ellipse cx="1160.8" cy="1694.4" rx="3.3" ry="1.4" transform="rotate(158 1160.8 1694.4)"/><ellipse cx="1131.1" cy="1747.7" rx="2.9" ry="1.1" transform="rotate(65 1131.1 1747.7)"/><ellipse cx="1157.8" cy="1758.7" rx="6.1" ry="1.6" transform="rotate(135 1157.8 1758.7)"/><ellipse cx="1035.4" cy="1648.9" rx="4.9" ry="1.6" transform="rotate(76 1035.4 1648.9)"/><circle cx="1055.6" cy="1678.1" r="1.6"/><ellipse cx="1087.5" cy="1617.5" rx="4.7" ry="1.6" transform="rotate(148 1087.5 1617.5)"/><ellipse cx="1170.5" cy="1669.9" rx="2.6" ry="1.4" transform="rotate(70 1170.5 1669.9)"/><ellipse cx="1102.2" cy="1729.6" rx="2.7" ry="1" transform="rotate(121 1102.2 1729.6)"/><ellipse cx="1150.6" cy="1727.5" rx="3.5" ry="1.6" transform="rotate(67 1150.6 1727.5)"/><ellipse cx="1047.2" cy="1742.3" rx="2.9" ry="1.5" transform="rotate(160 1047.2 1742.3)"/><ellipse cx="1116.6" cy="1691" rx="5.4" ry="0.9" transform="rotate(24 1116.6 1691)"/><circle cx="1159.3" cy="1692.3" r="1.4"/><ellipse cx="1144.3" cy="1621.3" rx="4.8" ry="1.8" transform="rotate(136 1144.3 1621.3)"/><ellipse cx="1074.3" cy="1709.8" rx="3.9" ry="1.6" transform="rotate(114 1074.3 1709.8)"/><circle cx="1087.2" cy="1691" r="1.7"/><circle cx="1086.9" cy="1646" r="1.6"/><circle cx="1041.9" cy="1734.8" r="1.1"/><circle cx="1045.3" cy="1635.3" r="1.2"/><circle cx="1099.2" cy="1629.8" r="1.8"/><circle cx="1099.9" cy="1625.1" r="1.3"/><circle cx="1105.8" cy="1737.7" r="1.4"/><circle cx="1065.7" cy="1752.4" r="1.6"/><ellipse cx="1154.7" cy="1730.6" rx="3.3" ry="1" transform="rotate(104 1154.7 1730.6)"/><ellipse cx="1136.8" cy="1722.6" rx="3.2" ry="1.5" transform="rotate(95 1136.8 1722.6)"/><circle cx="1076.7" cy="1735.1" r="1.4"/><circle cx="1139.4" cy="1727.8" r="1.8"/><ellipse cx="1085" cy="1647.6" rx="5.7" ry="1.5" transform="rotate(67 1085 1647.6)"/><ellipse cx="1089.8" cy="1697.5" rx="3.3" ry="1.2" transform="rotate(65 1089.8 1697.5)"/><ellipse cx="1021.2" cy="1644.9" rx="3.8" ry="1.1" transform="rotate(156 1021.2 1644.9)"/><circle cx="1086.2" cy="1725.2" r="1.7"/><ellipse cx="1145.4" cy="1718.3" rx="3.8" ry="1.7" transform="rotate(86 1145.4 1718.3)"/><circle cx="1171" cy="1662.4" r="1.5"/><ellipse cx="1113.4" cy="1653.9" rx="5.5" ry="1.6" transform="rotate(48 1113.4 1653.9)"/><ellipse cx="1151.7" cy="1749.3" rx="6.1" ry="1.5" transform="rotate(148 1151.7 1749.3)"/><ellipse cx="1135.8" cy="1691.8" rx="5.2" ry="1" transform="rotate(8 1135.8 1691.8)"/><ellipse cx="1095.5" cy="1657.5" rx="5.2" ry="1.3" transform="rotate(80 1095.5 1657.5)"/><ellipse cx="1034.3" cy="1665.6" rx="5.6" ry="1.1" transform="rotate(126 1034.3 1665.6)"/><ellipse cx="1064.8" cy="1719.9" rx="3.1" ry="1.7" transform="rotate(152 1064.8 1719.9)"/><circle cx="1016.9" cy="1664.3" r="1.1"/><ellipse cx="1140.9" cy="1638.7" rx="4.6" ry="1.7" transform="rotate(103 1140.9 1638.7)"/><ellipse cx="1042.5" cy="1728.9" rx="5.9" ry="1.1" transform="rotate(17 1042.5 1728.9)"/><ellipse cx="1054.2" cy="1661.4" rx="4.2" ry="1.8" transform="rotate(54 1054.2 1661.4)"/><ellipse cx="1138.1" cy="1640.7" rx="6.1" ry="1.7" transform="rotate(110 1138.1 1640.7)"/><ellipse cx="1143.1" cy="1751.8" rx="2.6" ry="1.8" transform="rotate(110 1143.1 1751.8)"/><ellipse cx="1163.9" cy="1760.4" rx="4.7" ry="1.4" transform="rotate(79 1163.9 1760.4)"/><circle cx="1134.8" cy="1646.6" r="1.5"/><circle cx="1065" cy="1652.2" r="1.6"/></g></g><path d="M1029.7 1746.8v3.2H1102.7v-3.2M1066.2 1750v-1.6" stroke="#d2c776" stroke-width="0.9" stroke-opacity="0.75" fill="none"/><g font-size="5" text-anchor="middle" opacity="0.7"><text x="1029.7" y="1745.6" style="fill:#d2c776">0</text><text x="1066.2" y="1745.6" style="fill:#d2c776">µm</text><text x="1103.7" y="1745.6" style="fill:#d2c776">400</text><text x="1030.7" y="1756.4" text-anchor="start" font-size="4.6" style="fill:#d2c776">1.75 x 1.28 mm, 2.37 mm²</text></g></g>
<g><filter id="mf22" x="0" y="0" width="100%" height="100%" color-interpolation-filters="sRGB"><feTurbulence type="fractalNoise" baseFrequency="0.55" numOctaves="1" seed="22" result="n"/><feColorMatrix in="n" type="matrix" values="0.1 0 0 0 0.472 0.1 0 0 0 0.472 0.1 0 0 0 0.472 0 0 0 0 1" result="g"/></filter><rect x="1179.3" y="1610" width="158.5" height="157.7" filter="url(#mf22)"/><clipPath id="mc22"><rect x="1179.3" y="1610" width="158.5" height="157.7"/></clipPath><g clip-path="url(#mc22)"><path d="M1260.6 1695.3L1261.7 1701.1M1194.6 1641L1189.1 1635.9M1278.8 1757.1L1284.9 1754.9M1195.7 1637.1L1198 1634.7M1243.8 1651.8L1241.6 1653M1321.2 1700.9L1321.6 1705.1M1182.2 1761.5L1177.9 1762.9M1188.9 1752.6L1185.2 1749.9M1270.4 1663.8L1276 1667.1M1301.8 1718.9L1301.2 1723.3M1232.6 1733L1237.8 1732.6M1335 1661L1333.4 1658.2M1258.2 1647.7L1258.2 1644.2M1193 1743.8L1187 1744.3M1321.4 1715.5L1321.1 1711.2M1194 1766.4L1197.7 1768.9M1223.2 1751.6L1220.4 1758M1204.2 1618.7L1207.6 1614.3M1295.1 1715.1L1297.6 1710.5M1228.1 1627.5L1222 1631.6" fill="none" stroke="#b4b4b4" stroke-width="1.6" stroke-opacity="0.3" stroke-linecap="round"/><path d="M1260.6 1695.3L1261.7 1701.1M1194.6 1641L1189.1 1635.9M1278.8 1757.1L1284.9 1754.9M1195.7 1637.1L1198 1634.7M1243.8 1651.8L1241.6 1653M1321.2 1700.9L1321.6 1705.1M1182.2 1761.5L1177.9 1762.9M1188.9 1752.6L1185.2 1749.9M1270.4 1663.8L1276 1667.1M1301.8 1718.9L1301.2 1723.3M1232.6 1733L1237.8 1732.6M1335 1661L1333.4 1658.2M1258.2 1647.7L1258.2 1644.2M1193 1743.8L1187 1744.3M1321.4 1715.5L1321.1 1711.2M1194 1766.4L1197.7 1768.9M1223.2 1751.6L1220.4 1758M1204.2 1618.7L1207.6 1614.3M1295.1 1715.1L1297.6 1710.5M1228.1 1627.5L1222 1631.6" fill="none" stroke="#686868" stroke-width="0.8" stroke-opacity="0.6" stroke-linecap="round"/><g fill="#666666" fill-opacity="0.6" stroke="#c2c2c2" stroke-width="1.1" stroke-opacity="0.5"><circle cx="1329.3" cy="1633.6" r="1.2"/><ellipse cx="1281.9" cy="1665.1" rx="3.4" ry="1.2" transform="rotate(160 1281.9 1665.1)"/><circle cx="1325.3" cy="1717.3" r="2"/><ellipse cx="1272.4" cy="1659.8" rx="5.7" ry="1.7" transform="rotate(34 1272.4 1659.8)"/><circle cx="1329.8" cy="1699" r="2.1"/><circle cx="1229.6" cy="1732.1" r="1.9"/><circle cx="1284.4" cy="1640.4" r="2"/><ellipse cx="1259.5" cy="1691.5" rx="5" ry="1.2" transform="rotate(73 1259.5 1691.5)"/><circle cx="1262.7" cy="1728.4" r="1.5"/><circle cx="1196.5" cy="1732.1" r="1.3"/><ellipse cx="1182.3" cy="1682.5" rx="2.7" ry="1.1" transform="rotate(34 1182.3 1682.5)"/><ellipse cx="1278.6" cy="1680.2" rx="3.1" ry="1.6" transform="rotate(11 1278.6 1680.2)"/><ellipse cx="1196.9" cy="1642" rx="3.1" ry="0.9" transform="rotate(21 1196.9 1642)"/><ellipse cx="1296.2" cy="1684.7" rx="4.9" ry="1.6" transform="rotate(130 1296.2 1684.7)"/><ellipse cx="1275.3" cy="1756.9" rx="4.4" ry="1.2" transform="rotate(3 1275.3 1756.9)"/><ellipse cx="1193.1" cy="1641.3" rx="6.2" ry="1.3" transform="rotate(122 1193.1 1641.3)"/><circle cx="1243.5" cy="1630.1" r="1.3"/><ellipse cx="1311.3" cy="1708" rx="5.3" ry="0.9" transform="rotate(36 1311.3 1708)"/><ellipse cx="1246.1" cy="1651" rx="3" ry="1.7" transform="rotate(160 1246.1 1651)"/><ellipse cx="1274.6" cy="1618.5" rx="2.7" ry="0.9" transform="rotate(87 1274.6 1618.5)"/><circle cx="1333.6" cy="1742.1" r="1.4"/><ellipse cx="1314.8" cy="1737.7" rx="4" ry="1.1" transform="rotate(1 1314.8 1737.7)"/><ellipse cx="1319.3" cy="1696.7" rx="5.7" ry="1.1" transform="rotate(65 1319.3 1696.7)"/><ellipse cx="1331.7" cy="1641.3" rx="5.7" ry="1.2" transform="rotate(73 1331.7 1641.3)"/><circle cx="1211.4" cy="1636.9" r="1.6"/><ellipse cx="1331.1" cy="1635.5" rx="5.7" ry="1.4" transform="rotate(100 1331.1 1635.5)"/><ellipse cx="1184.7" cy="1757.8" rx="5.5" ry="1" transform="rotate(123 1184.7 1757.8)"/><ellipse cx="1245" cy="1707.7" rx="3.8" ry="1.7" transform="rotate(133 1245 1707.7)"/><circle cx="1320.6" cy="1735.1" r="1.3"/><ellipse cx="1190.2" cy="1754.3" rx="2.7" ry="1" transform="rotate(53 1190.2 1754.3)"/><circle cx="1242.2" cy="1633.5" r="1.7"/><ellipse cx="1322.2" cy="1750.9" rx="3.6" ry="1" transform="rotate(83 1322.2 1750.9)"/><circle cx="1297.4" cy="1697.5" r="1.3"/><ellipse cx="1267.7" cy="1662.2" rx="4" ry="1.1" transform="rotate(29 1267.7 1662.2)"/><circle cx="1242.3" cy="1682.5" r="1.8"/><circle cx="1325.9" cy="1629.7" r="1.7"/><circle cx="1303.6" cy="1653.1" r="1.9"/><ellipse cx="1264.4" cy="1702.1" rx="5.5" ry="1.3" transform="rotate(35 1264.4 1702.1)"/><ellipse cx="1301.2" cy="1714.6" rx="5.5" ry="1.6" transform="rotate(81 1301.2 1714.6)"/><ellipse cx="1274.3" cy="1648.9" rx="3.9" ry="1.2" transform="rotate(99 1274.3 1648.9)"/><ellipse cx="1271" cy="1647" rx="3.1" ry="0.9" transform="rotate(74 1271 1647)"/><ellipse cx="1228.9" cy="1731.4" rx="5" ry="1.1" transform="rotate(22 1228.9 1731.4)"/><ellipse cx="1335.1" cy="1663.6" rx="3.2" ry="1.5" transform="rotate(87 1335.1 1663.6)"/><ellipse cx="1258.7" cy="1651" rx="4.2" ry="1.4" transform="rotate(79 1258.7 1651)"/><ellipse cx="1182.8" cy="1693.4" rx="4.1" ry="1.8" transform="rotate(173 1182.8 1693.4)"/><ellipse cx="1195.9" cy="1743.5" rx="3.5" ry="1.5" transform="rotate(174 1195.9 1743.5)"/><ellipse cx="1321.1" cy="1718" rx="3.2" ry="1.7" transform="rotate(96 1321.1 1718)"/><ellipse cx="1255.6" cy="1644.7" rx="4.6" ry="1.7" transform="rotate(19 1255.6 1644.7)"/><circle cx="1198.2" cy="1683.3" r="1.3"/><ellipse cx="1191.2" cy="1764.5" rx="4.1" ry="1.3" transform="rotate(34 1191.2 1764.5)"/><ellipse cx="1193.9" cy="1684.1" rx="3.3" ry="1" transform="rotate(39 1193.9 1684.1)"/><ellipse cx="1224.7" cy="1750.1" rx="2.6" ry="1.6" transform="rotate(132 1224.7 1750.1)"/><ellipse cx="1294.7" cy="1618.8" rx="4.4" ry="1.1" transform="rotate(5 1294.7 1618.8)"/><ellipse cx="1328.9" cy="1760.3" rx="3.5" ry="1.6" transform="rotate(30 1328.9 1760.3)"/><circle cx="1287.3" cy="1629.7" r="1.9"/><ellipse cx="1331.2" cy="1752.4" rx="3.9" ry="1.5" transform="rotate(122 1331.2 1752.4)"/><circle cx="1285.7" cy="1697.4" r="1.4"/><ellipse cx="1201.7" cy="1622.7" rx="5.9" ry="1.7" transform="rotate(121 1201.7 1622.7)"/><ellipse cx="1292.3" cy="1717.3" rx="4.4" ry="1.4" transform="rotate(141 1292.3 1717.3)"/><ellipse cx="1230.5" cy="1625.2" rx="4.2" ry="1.4" transform="rotate(136 1230.5 1625.2)"/></g></g><path d="M1194.7 1746.8v3.2H1267.3v-3.2M1231 1750v-1.6" stroke="#d2c776" stroke-width="0.9" stroke-opacity="0.75" fill="none"/><g font-size="5" text-anchor="middle" opacity="0.7"><text x="1194.7" y="1745.6" style="fill:#d2c776">0</text><text x="1231" y="1745.6" style="fill:#d2c776">µm</text><text x="1268.3" y="1745.6" style="fill:#d2c776">400</text><text x="1195.7" y="1756.4" text-anchor="start" font-size="4.6" style="fill:#d2c776">1.75 x 1.28 mm, 2.37 mm²</text></g></g>
<g><filter id="mf23" x="0" y="0" width="100%" height="100%" color-interpolation-filters="sRGB"><feTurbulence type="fractalNoise" baseFrequency="0.55" numOctaves="1" seed="23" result="n"/><feColorMatrix in="n" type="matrix" values="0.1 0 0 0 0.472 0.1 0 0 0 0.472 0.1 0 0 0 0.472 0 0 0 0 1" result="g"/></filter><rect x="1014.3" y="1775" width="159.2" height="158.5" filter="url(#mf23)"/><clipPath id="mc23"><rect x="1014.3" y="1775" width="159.2" height="158.5"/></clipPath><g clip-path="url(#mc23)"><path d="M1162 1922.8L1164.6 1919.9M1085 1897.4L1087.6 1899.9M1041.3 1904.4L1037.6 1909.6M1111.3 1792.7L1115.1 1793.5M1167.8 1860.1L1171.6 1860.2M1132.9 1845.5L1137.7 1852.5M1024.4 1874.7L1030.2 1867.5M1111.9 1824.7L1112.2 1829.1M1019.3 1781.2L1022.1 1777.7M1035 1905.2L1031.4 1906.5M1059.9 1899.5L1056.2 1900.4M1081.2 1829.3L1079.2 1834.5M1162.5 1871.2L1162.2 1866.6M1046 1839.3L1042.3 1841.3M1086.7 1917.2L1091.5 1918.2M1104.5 1905.4L1100.9 1905.1M1036.3 1896.7L1032.7 1891.3M1125.2 1780.8L1119.7 1777.9M1029.8 1811L1028.5 1806.3M1033.3 1796.2L1040.1 1792M1089.6 1895.6L1083.6 1888.1" fill="none" stroke="#b4b4b4" stroke-width="1.6" stroke-opacity="0.3" stroke-linecap="round"/><path d="M1162 1922.8L1164.6 1919.9M1085 1897.4L1087.6 1899.9M1041.3 1904.4L1037.6 1909.6M1111.3 1792.7L1115.1 1793.5M1167.8 1860.1L1171.6 1860.2M1132.9 1845.5L1137.7 1852.5M1024.4 1874.7L1030.2 1867.5M1111.9 1824.7L1112.2 1829.1M1019.3 1781.2L1022.1 1777.7M1035 1905.2L1031.4 1906.5M1059.9 1899.5L1056.2 1900.4M1081.2 1829.3L1079.2 1834.5M1162.5 1871.2L1162.2 1866.6M1046 1839.3L1042.3 1841.3M1086.7 1917.2L1091.5 1918.2M1104.5 1905.4L1100.9 1905.1M1036.3 1896.7L1032.7 1891.3M1125.2 1780.8L1119.7 1777.9M1029.8 1811L1028.5 1806.3M1033.3 1796.2L1040.1 1792M1089.6 1895.6L1083.6 1888.1" fill="none" stroke="#686868" stroke-width="0.8" stroke-opacity="0.6" stroke-linecap="round"/><g fill="#666666" fill-opacity="0.6" stroke="#c2c2c2" stroke-width="1.1" stroke-opacity="0.5"><ellipse cx="1159.8" cy="1923.6" rx="2.9" ry="1.3" transform="rotate(160 1159.8 1923.6)"/><ellipse cx="1112.5" cy="1916.3" rx="6.1" ry="0.9" transform="rotate(19 1112.5 1916.3)"/><ellipse cx="1083.2" cy="1896.1" rx="2.7" ry="1.1" transform="rotate(37 1083.2 1896.1)"/><ellipse cx="1167.6" cy="1865.5" rx="3.2" ry="1.6" transform="rotate(146 1167.6 1865.5)"/><ellipse cx="1041.7" cy="1900.4" rx="5" ry="1.4" transform="rotate(96 1041.7 1900.4)"/><ellipse cx="1107.9" cy="1793.8" rx="4.6" ry="1.3" transform="rotate(162 1107.9 1793.8)"/><ellipse cx="1053.2" cy="1861.3" rx="4.7" ry="1.1" transform="rotate(165 1053.2 1861.3)"/><ellipse cx="1025" cy="1841.3" rx="5.5" ry="1.8" transform="rotate(4 1025 1841.3)"/><ellipse cx="1163.6" cy="1860.2" rx="5.3" ry="1.8" transform="rotate(177 1163.6 1860.2)"/><ellipse cx="1133.5" cy="1847.9" rx="2.9" ry="1.5" transform="rotate(53 1133.5 1847.9)"/><circle cx="1102.9" cy="1813.9" r="1.9"/><ellipse cx="1118.2" cy="1841" rx="4.8" ry="1" transform="rotate(29 1118.2 1841)"/><circle cx="1155.6" cy="1892.2" r="2"/><circle cx="1110.9" cy="1785" r="2.1"/><ellipse cx="1129.4" cy="1843.5" rx="5" ry="1.5" transform="rotate(29 1129.4 1843.5)"/><ellipse cx="1058.5" cy="1829.2" rx="6" ry="1.3" transform="rotate(4 1058.5 1829.2)"/><ellipse cx="1021" cy="1878.1" rx="6" ry="1.1" transform="rotate(134 1021 1878.1)"/><ellipse cx="1155.8" cy="1790.3" rx="5.7" ry="1.6" transform="rotate(157 1155.8 1790.3)"/><ellipse cx="1110.2" cy="1822.1" rx="3.9" ry="1.8" transform="rotate(57 1110.2 1822.1)"/><ellipse cx="1133.6" cy="1913.5" rx="5.1" ry="1.7" transform="rotate(96 1133.6 1913.5)"/><circle cx="1039" cy="1834.3" r="1.9"/><ellipse cx="1017.5" cy="1782.7" rx="3" ry="1.4" transform="rotate(140 1017.5 1782.7)"/><ellipse cx="1039" cy="1906.4" rx="5.3" ry="1.5" transform="rotate(16 1039 1906.4)"/><ellipse cx="1132" cy="1929.3" rx="5.1" ry="1.2" transform="rotate(24 1132 1929.3)"/><ellipse cx="1062.1" cy="1899.8" rx="2.8" ry="1" transform="rotate(8 1062.1 1899.8)"/><ellipse cx="1082.5" cy="1825.9" rx="4.5" ry="1.3" transform="rotate(111 1082.5 1825.9)"/><ellipse cx="1164.6" cy="1875.6" rx="6.1" ry="1.7" transform="rotate(64 1164.6 1875.6)"/><ellipse cx="1049" cy="1839.9" rx="3.7" ry="1.6" transform="rotate(10 1049 1839.9)"/><ellipse cx="1062.3" cy="1903.5" rx="3.9" ry="0.9" transform="rotate(71 1062.3 1903.5)"/><circle cx="1114.3" cy="1902.7" r="1.9"/><circle cx="1168.6" cy="1847.5" r="1.8"/><ellipse cx="1081.7" cy="1831.1" rx="5" ry="1.7" transform="rotate(169 1081.7 1831.1)"/><ellipse cx="1038.6" cy="1929" rx="5.5" ry="1.6" transform="rotate(135 1038.6 1929)"/><circle cx="1082" cy="1883.1" r="1.1"/><ellipse cx="1097" cy="1809.2" rx="5.7" ry="1.2" transform="rotate(116 1097 1809.2)"/><ellipse cx="1083.1" cy="1917.9" rx="4.6" ry="1.6" transform="rotate(168 1083.1 1917.9)"/><circle cx="1038" cy="1920.2" r="2.1"/><ellipse cx="1106.7" cy="1905.1" rx="2.7" ry="1.7" transform="rotate(173 1106.7 1905.1)"/><circle cx="1152.2" cy="1807.5" r="1.9"/><circle cx="1043.6" cy="1810.6" r="2.1"/><ellipse cx="1016.3" cy="1902.1" rx="4.6" ry="1.6" transform="rotate(136 1016.3 1902.1)"/><ellipse cx="1037.9" cy="1900.1" rx="4.7" ry="1.7" transform="rotate(63 1037.9 1900.1)"/><ellipse cx="1127.7" cy="1782.3" rx="3.7" ry="1" transform="rotate(29 1127.7 1782.3)"/><ellipse cx="1095" cy="1902.1" rx="4.5" ry="1.7" transform="rotate(94 1095 1902.1)"/><ellipse cx="1146.5" cy="1818.1" rx="5.6" ry="1.8" transform="rotate(108 1146.5 1818.1)"/><ellipse cx="1036.1" cy="1855.5" rx="3.3" ry="1.8" transform="rotate(64 1036.1 1855.5)"/><ellipse cx="1031.7" cy="1815.3" rx="5.8" ry="1" transform="rotate(66 1031.7 1815.3)"/><ellipse cx="1031.2" cy="1797.1" rx="2.9" ry="0.9" transform="rotate(155 1031.2 1797.1)"/><circle cx="1130.9" cy="1848.7" r="1.5"/><ellipse cx="1090.8" cy="1899.5" rx="5" ry="1.6" transform="rotate(72 1090.8 1899.5)"/></g></g><path d="M1029.7 1912.5v3.2H1102.7v-3.2M1066.2 1915.7v-1.6" stroke="#d2c776" stroke-width="0.9" stroke-opacity="0.75" fill="none"/><g font-size="5" text-anchor="middle" opacity="0.7"><text x="1029.7" y="1911.3" style="fill:#d2c776">0</text><text x="1066.2" y="1911.3" style="fill:#d2c776">µm</text><text x="1103.7" y="1911.3" style="fill:#d2c776">400</text><text x="1030.7" y="1922.1" text-anchor="start" font-size="4.6" style="fill:#d2c776">1.75 x 1.28 mm, 2.37 mm²</text></g></g>
<g><filter id="mf24" x="0" y="0" width="100%" height="100%" color-interpolation-filters="sRGB"><feTurbulence type="fractalNoise" baseFrequency="0.55" numOctaves="1" seed="24" result="n"/><feColorMatrix in="n" type="matrix" values="0.1 0 0 0 0.472 0.1 0 0 0 0.472 0.1 0 0 0 0.472 0 0 0 0 1" result="g"/></filter><rect x="1179.3" y="1775" width="158.5" height="158.5" filter="url(#mf24)"/><clipPath id="mc24"><rect x="1179.3" y="1775" width="158.5" height="158.5"/></clipPath><g clip-path="url(#mc24)"><path d="M1191.8 1892.2L1184.1 1891.7M1255.3 1910.5L1249.6 1916.8M1278.9 1878.8L1275.4 1875.9M1204.9 1795.1L1204.7 1787.5M1277.1 1820.9L1276.5 1826.4M1267.5 1845.2L1263.1 1848.8M1311.8 1822.8L1311.4 1827M1280.1 1836.1L1277 1831.3M1256.3 1784.7L1261.8 1779.3M1189.1 1812.8L1184.6 1810.4M1256.3 1834.5L1260.6 1836.6M1201.6 1781.9L1199.4 1781M1225.2 1848.6L1224 1844.8M1301.1 1875.1L1305.2 1879.1M1201.9 1875.8L1205.8 1879" fill="none" stroke="#b4b4b4" stroke-width="1.6" stroke-opacity="0.3" stroke-linecap="round"/><path d="M1191.8 1892.2L1184.1 1891.7M1255.3 1910.5L1249.6 1916.8M1278.9 1878.8L1275.4 1875.9M1204.9 1795.1L1204.7 1787.5M1277.1 1820.9L1276.5 1826.4M1267.5 1845.2L1263.1 1848.8M1311.8 1822.8L1311.4 1827M1280.1 1836.1L1277 1831.3M1256.3 1784.7L1261.8 1779.3M1189.1 1812.8L1184.6 1810.4M1256.3 1834.5L1260.6 1836.6M1201.6 1781.9L1199.4 1781M1225.2 1848.6L1224 1844.8M1301.1 1875.1L1305.2 1879.1M1201.9 1875.8L1205.8 1879" fill="none" stroke="#686868" stroke-width="0.8" stroke-opacity="0.6" stroke-linecap="round"/><g fill="#666666" fill-opacity="0.6" stroke="#c2c2c2" stroke-width="1.1" stroke-opacity="0.5"><circle cx="1291.4" cy="1906.7" r="1.8"/><ellipse cx="1195.5" cy="1894.1" rx="5.1" ry="1.6" transform="rotate(27 1195.5 1894.1)"/><ellipse cx="1257.2" cy="1907.6" rx="4.4" ry="1.5" transform="rotate(122 1257.2 1907.6)"/><ellipse cx="1281.6" cy="1879.1" rx="3.4" ry="1.6" transform="rotate(5 1281.6 1879.1)"/><circle cx="1314.1" cy="1818.2" r="1.6"/><ellipse cx="1205.1" cy="1799.1" rx="5" ry="1" transform="rotate(86 1205.1 1799.1)"/><ellipse cx="1278.8" cy="1817.3" rx="4.9" ry="1.6" transform="rotate(115 1278.8 1817.3)"/><ellipse cx="1270" cy="1844.1" rx="3.5" ry="1" transform="rotate(157 1270 1844.1)"/><ellipse cx="1193.9" cy="1827.7" rx="4" ry="1.4" transform="rotate(73 1193.9 1827.7)"/><ellipse cx="1310.8" cy="1820.5" rx="3.1" ry="1" transform="rotate(66 1310.8 1820.5)"/><ellipse cx="1281.1" cy="1838.8" rx="3.6" ry="1.5" transform="rotate(70 1281.1 1838.8)"/><ellipse cx="1252.8" cy="1787.5" rx="5.6" ry="1.7" transform="rotate(141 1252.8 1787.5)"/><ellipse cx="1194" cy="1813.2" rx="6.1" ry="1.1" transform="rotate(4 1194 1813.2)"/><ellipse cx="1299.5" cy="1869.3" rx="4.5" ry="1.5" transform="rotate(94 1299.5 1869.3)"/><ellipse cx="1252.4" cy="1835.5" rx="5" ry="1" transform="rotate(165 1252.4 1835.5)"/><circle cx="1224.9" cy="1911.5" r="1.4"/><circle cx="1296.8" cy="1871" r="1.2"/><ellipse cx="1214.4" cy="1928.5" rx="4.3" ry="1.6" transform="rotate(101 1214.4 1928.5)"/><ellipse cx="1205.3" cy="1784.2" rx="5.5" ry="1.1" transform="rotate(31 1205.3 1784.2)"/><ellipse cx="1226.5" cy="1850.3" rx="2.7" ry="1.4" transform="rotate(50 1226.5 1850.3)"/><ellipse cx="1302.2" cy="1837.7" rx="3.9" ry="1.3" transform="rotate(13 1302.2 1837.7)"/><circle cx="1254.1" cy="1840.9" r="1.9"/><ellipse cx="1301.6" cy="1874.9" rx="2.9" ry="1.8" transform="rotate(97 1301.6 1874.9)"/><ellipse cx="1299" cy="1870.7" rx="6" ry="1.4" transform="rotate(64 1299 1870.7)"/><circle cx="1250.5" cy="1911.3" r="1.7"/><ellipse cx="1319" cy="1788.8" rx="2.6" ry="1.3" transform="rotate(87 1319 1788.8)"/><ellipse cx="1256.4" cy="1917.5" rx="5.6" ry="1" transform="rotate(131 1256.4 1917.5)"/><ellipse cx="1198.7" cy="1873.8" rx="4.8" ry="1.8" transform="rotate(32 1198.7 1873.8)"/><ellipse cx="1330" cy="1928.3" rx="4.3" ry="1.1" transform="rotate(100 1330 1928.3)"/><ellipse cx="1303.5" cy="1891" rx="3.2" ry="1.7" transform="rotate(177 1303.5 1891)"/><ellipse cx="1316.7" cy="1798.4" rx="4.5" ry="1.1" transform="rotate(13 1316.7 1798.4)"/><circle cx="1251.1" cy="1873.8" r="1.7"/><ellipse cx="1330.4" cy="1850.4" rx="5" ry="1.2" transform="rotate(7 1330.4 1850.4)"/><circle cx="1280.8" cy="1796.3" r="2"/><circle cx="1291.5" cy="1850.8" r="1.7"/></g></g><path d="M1194.7 1912.5v3.2H1267.3v-3.2M1231 1915.7v-1.6" stroke="#d2c776" stroke-width="0.9" stroke-opacity="0.75" fill="none"/><g font-size="5" text-anchor="middle" opacity="0.7"><text x="1194.7" y="1911.3" style="fill:#d2c776">0</text><text x="1231" y="1911.3" style="fill:#d2c776">µm</text><text x="1268.3" y="1911.3" style="fill:#d2c776">400</text><text x="1195.7" y="1922.1" text-anchor="start" font-size="4.6" style="fill:#d2c776">1.75 x 1.28 mm, 2.37 mm²</text></g></g>
<g>
<text x="1587" y="1599.8" font-size="24" text-anchor="middle">PDAC088T</text>
<g font-size="16">
<g fill="#848484" stroke="none"><path d="M1432.5 1623.8H1453.1" stroke="#848484" stroke-width="1.1"/><circle cx="1442.8" cy="1623.8" r="4.35"/></g>
<text x="1465.2" y="1629.4">Control</text>
<g fill="#fdbe85" stroke="none"><path d="M1432.5 1643.5H1453.1" stroke="#fdbe85" stroke-width="1.1"/><rect x="1438.6" y="1639.3" width="8.4" height="8.4"/></g>
<text x="1465.2" y="1649.1">Sorafenib 4 µM</text>
<g fill="#bcbe1c" stroke="none"><path d="M1432.5 1664.4H1453.1" stroke="#bcbe1c" stroke-width="1.1"/><path d="M1442.8 1659.5l4.7 8h-9.4z"/></g>
<text x="1465.2" y="1670">LZX-2-73 6 µM</text>
<g fill="#f94144" stroke="none"><path d="M1432.5 1686.7H1453.1" stroke="#f94144" stroke-width="1.1"/><path d="M1442.8 1691.6l4.7 -8h-9.4z"/></g>
<text x="1465.2" y="1692.3">Sorafenib + LZX-2-73</text>
</g>
<g fill="#f94144" stroke="none"><polyline points="1424.6,1873 1439.2,1876.9 1453.7,1867 1468.3,1869.1 1482.8,1868.5 1497.4,1866.4 1512,1867 1526.5,1874.3 1541.1,1870.9 1555.7,1864.6 1570.2,1873.5 1584.8,1871.7 1599.4,1869.1 1613.9,1869.1 1628.5,1869.1 1643,1867.8 1657.6,1870.9 1672.2,1870.9 1686.7,1866.4 1701.3,1869.1" fill="none" stroke="#f94144" stroke-width="1.1"/><path d="M1439.2 1872.5V1881.4M1436.2 1872.5h6M1436.2 1881.4h6M1468.3 1864.6V1873.5M1465.3 1864.6h6M1465.3 1873.5h6M1570.2 1867.8V1879.3M1567.2 1867.8h6M1567.2 1879.3h6M1599.4 1863.3V1874.8M1596.4 1863.3h6M1596.4 1874.8h6M1613.9 1863.3V1874.8M1610.9 1863.3h6M1610.9 1874.8h6M1701.3 1861.7V1876.4M1698.3 1861.7h6M1698.3 1876.4h6" fill="none" stroke="#f94144" stroke-width="1.1"/><path d="M1424.6 1877.9l4.7 -8h-9.4z"/><path d="M1439.2 1881.8l4.7 -8h-9.4z"/><path d="M1453.7 1871.9l4.7 -8h-9.4z"/><path d="M1468.3 1874l4.7 -8h-9.4z"/><path d="M1482.8 1873.4l4.7 -8h-9.4z"/><path d="M1497.4 1871.3l4.7 -8h-9.4z"/><path d="M1512 1871.9l4.7 -8h-9.4z"/><path d="M1526.5 1879.2l4.7 -8h-9.4z"/><path d="M1541.1 1875.8l4.7 -8h-9.4z"/><path d="M1555.7 1869.5l4.7 -8h-9.4z"/><path d="M1570.2 1878.4l4.7 -8h-9.4z"/><path d="M1584.8 1876.6l4.7 -8h-9.4z"/><path d="M1599.4 1874l4.7 -8h-9.4z"/><path d="M1613.9 1874l4.7 -8h-9.4z"/><path d="M1628.5 1874l4.7 -8h-9.4z"/><path d="M1643 1872.7l4.7 -8h-9.4z"/><path d="M1657.6 1875.8l4.7 -8h-9.4z"/><path d="M1672.2 1875.8l4.7 -8h-9.4z"/><path d="M1686.7 1871.3l4.7 -8h-9.4z"/><path d="M1701.3 1874l4.7 -8h-9.4z"/></g>
<g fill="#bcbe1c" stroke="none"><polyline points="1424.6,1869.1 1439.2,1867.8 1453.7,1862 1468.3,1858.6 1482.8,1858.1 1497.4,1854.7 1512,1856 1526.5,1849.4 1541.1,1848.1 1555.7,1836.3 1570.2,1841.6 1584.8,1838.4 1599.4,1837.6 1613.9,1833.7 1628.5,1826.6 1643,1817.5 1657.6,1812.8 1672.2,1812.2 1686.7,1803.6 1701.3,1803.6" fill="none" stroke="#bcbe1c" stroke-width="1.1"/><path d="M1657.6 1807V1818.5M1654.6 1807h6M1654.6 1818.5h6M1672.2 1806.5V1818M1669.2 1806.5h6M1669.2 1818h6" fill="none" stroke="#bcbe1c" stroke-width="1.1"/><path d="M1424.6 1864.2l4.7 8h-9.4z"/><path d="M1439.2 1862.9l4.7 8h-9.4z"/><path d="M1453.7 1857.1l4.7 8h-9.4z"/><path d="M1468.3 1853.7l4.7 8h-9.4z"/><path d="M1482.8 1853.2l4.7 8h-9.4z"/><path d="M1497.4 1849.8l4.7 8h-9.4z"/><path d="M1512 1851.1l4.7 8h-9.4z"/><path d="M1526.5 1844.5l4.7 8h-9.4z"/><path d="M1541.1 1843.2l4.7 8h-9.4z"/><path d="M1555.7 1831.4l4.7 8h-9.4z"/><path d="M1570.2 1836.7l4.7 8h-9.4z"/><path d="M1584.8 1833.5l4.7 8h-9.4z"/><path d="M1599.4 1832.7l4.7 8h-9.4z"/><path d="M1613.9 1828.8l4.7 8h-9.4z"/><path d="M1628.5 1821.7l4.7 8h-9.4z"/><path d="M1643 1812.6l4.7 8h-9.4z"/><path d="M1657.6 1807.9l4.7 8h-9.4z"/><path d="M1672.2 1807.3l4.7 8h-9.4z"/><path d="M1686.7 1798.7l4.7 8h-9.4z"/><path d="M1701.3 1798.7l4.7 8h-9.4z"/></g>
<g fill="#fdbe85" stroke="none"><polyline points="1424.6,1873 1439.2,1869.8 1453.7,1861.2 1468.3,1865.1 1482.8,1864.3 1497.4,1856.8 1512,1854.7 1526.5,1850.7 1541.1,1846.8 1555.7,1836.3 1570.2,1835 1584.8,1838.4 1599.4,1835.8 1613.9,1841 1628.5,1833.2 1643,1811.4 1657.6,1821.9 1672.2,1820.6 1686.7,1798.3 1701.3,1796.5" fill="none" stroke="#fdbe85" stroke-width="1.1"/><path d="M1613.9 1832.7V1849.4M1610.9 1832.7h6M1610.9 1849.4h6M1657.6 1816.2V1827.7M1654.6 1816.2h6M1654.6 1827.7h6M1672.2 1813.5V1827.7M1669.2 1813.5h6M1669.2 1827.7h6" fill="none" stroke="#fdbe85" stroke-width="1.1"/><rect x="1420.4" y="1868.8" width="8.4" height="8.4"/><rect x="1435" y="1865.6" width="8.4" height="8.4"/><rect x="1449.5" y="1857" width="8.4" height="8.4"/><rect x="1464.1" y="1860.9" width="8.4" height="8.4"/><rect x="1478.6" y="1860.1" width="8.4" height="8.4"/><rect x="1493.2" y="1852.6" width="8.4" height="8.4"/><rect x="1507.8" y="1850.5" width="8.4" height="8.4"/><rect x="1522.3" y="1846.5" width="8.4" height="8.4"/><rect x="1536.9" y="1842.6" width="8.4" height="8.4"/><rect x="1551.5" y="1832.1" width="8.4" height="8.4"/><rect x="1566" y="1830.8" width="8.4" height="8.4"/><rect x="1580.6" y="1834.2" width="8.4" height="8.4"/><rect x="1595.2" y="1831.6" width="8.4" height="8.4"/><rect x="1609.7" y="1836.8" width="8.4" height="8.4"/><rect x="1624.3" y="1829" width="8.4" height="8.4"/><rect x="1638.8" y="1807.2" width="8.4" height="8.4"/><rect x="1653.4" y="1817.7" width="8.4" height="8.4"/><rect x="1668" y="1816.4" width="8.4" height="8.4"/><rect x="1682.5" y="1794.1" width="8.4" height="8.4"/><rect x="1697.1" y="1792.3" width="8.4" height="8.4"/></g>
<g fill="#848484" stroke="none"><polyline points="1424.6,1872.2 1439.2,1865.9 1453.7,1858.6 1468.3,1863 1482.8,1863 1497.4,1854.7 1512,1852.8 1526.5,1848.4 1541.1,1842.9 1555.7,1835.5 1570.2,1833.2 1584.8,1825.3 1599.4,1815.9 1613.9,1814.6 1628.5,1812.8 1643,1784.7 1657.6,1787.1 1672.2,1760.6 1686.7,1732.6 1701.3,1720.3" fill="none" stroke="#848484" stroke-width="1.1"/><path d="M1439.2 1861.2V1870.6M1436.2 1861.2h6M1436.2 1870.6h6M1453.7 1853.3V1863.8M1450.7 1853.3h6M1450.7 1863.8h6M1512 1847.1V1858.6M1509 1847.1h6M1509 1858.6h6M1541.1 1838.2V1847.6M1538.1 1838.2h6M1538.1 1847.6h6M1584.8 1816.9V1833.7M1581.8 1816.9h6M1581.8 1833.7h6M1599.4 1802.3V1829.5M1596.4 1802.3h6M1596.4 1829.5h6M1613.9 1801V1828.2M1610.9 1801h6M1610.9 1828.2h6M1628.5 1800.7V1824.8M1625.5 1800.7h6M1625.5 1824.8h6M1643 1780.8V1788.7M1640 1780.8h6M1640 1788.7h6" fill="none" stroke="#848484" stroke-width="1.1"/><circle cx="1424.6" cy="1872.2" r="4.35"/><circle cx="1439.2" cy="1865.9" r="4.35"/><circle cx="1453.7" cy="1858.6" r="4.35"/><circle cx="1468.3" cy="1863" r="4.35"/><circle cx="1482.8" cy="1863" r="4.35"/><circle cx="1497.4" cy="1854.7" r="4.35"/><circle cx="1512" cy="1852.8" r="4.35"/><circle cx="1526.5" cy="1848.4" r="4.35"/><circle cx="1541.1" cy="1842.9" r="4.35"/><circle cx="1555.7" cy="1835.5" r="4.35"/><circle cx="1570.2" cy="1833.2" r="4.35"/><circle cx="1584.8" cy="1825.3" r="4.35"/><circle cx="1599.4" cy="1815.9" r="4.35"/><circle cx="1613.9" cy="1814.6" r="4.35"/><circle cx="1628.5" cy="1812.8" r="4.35"/><circle cx="1643" cy="1784.7" r="4.35"/><circle cx="1657.6" cy="1787.1" r="4.35"/><circle cx="1672.2" cy="1760.6" r="4.35"/><circle cx="1686.7" cy="1732.6" r="4.35"/><circle cx="1701.3" cy="1720.3" r="4.35"/></g>
<path d="M1424.6 1698.8V1904.8M1416 1903.9H1716.4M1416 1717.9h8.6M1416 1810.9h8.6M1424.6 1903.9v8.4M1497.2 1903.9v8.4M1570 1903.9v8.4M1643 1903.9v8.4M1715.9 1903.9v8.4" fill="none" stroke="#000" stroke-width="1.8"/>
<g font-size="15" text-anchor="end">
<text x="1414.1" y="1723.2">100</text>
<text x="1414.1" y="1816.2">50</text>
<text x="1414.1" y="1909.2">0</text>
</g><g font-size="15" text-anchor="middle">
<text x="1424.6" y="1929.1">0</text>
<text x="1497.2" y="1929.1">20</text>
<text x="1570" y="1929.1">40</text>
<text x="1643" y="1929.1">60</text>
<text x="1715.9" y="1929.1">80</text>
</g>
<text x="1570.5" y="1953.7" font-size="16" text-anchor="middle">Time (Hours)</text>
<text transform="translate(1379.8 1803) rotate(-90)" font-size="16.8" text-anchor="middle">Phase Object Confluence (%)</text>
<text transform="translate(1734.7 1836.4) rotate(-90)" font-size="17.4" text-anchor="middle" letter-spacing="0.85" stroke="#000" stroke-width="0.45">**</text>
<text transform="translate(1750.4 1836.4) rotate(-90)" font-size="17.4" text-anchor="middle" letter-spacing="0.85" stroke="#000" stroke-width="0.45">**</text>
<text transform="translate(1768.8 1786.7) rotate(-90)" font-size="17.4" text-anchor="middle" letter-spacing="0.85" stroke="#000" stroke-width="0.45">**</text>
<path d="M1709.3 1800.4H1718.5V1868.3H1709.3M1725 1800.4H1734.2V1868.3H1725M1740.7 1716.1H1749.9V1868.3H1740.7" fill="none" stroke="#000" stroke-width="2.1"/>
</g>
</g>
<g id="panelC">
<defs><filter id="ob" x="-5%" y="-5%" width="110%" height="110%" color-interpolation-filters="sRGB"><feGaussianBlur stdDeviation="1" result="b"/><feTurbulence type="fractalNoise" baseFrequency="0.14" numOctaves="2" seed="5" result="t"/><feColorMatrix in="t" type="matrix" values="0 0 0 0 0.12 0 0 0 0 0.12 0 0 0 0 0.12 1.6 0 0 0 -0.62" result="n1"/><feColorMatrix in="t" type="matrix" values="0 0 0 0 0.6 0 0 0 0 0.6 0 0 0 0 0.6 0 1.5 0 0 -0.66" result="n2"/><feComposite in="n1" in2="b" operator="in" result="d"/><feComposite in="n2" in2="b" operator="in" result="l"/><feMerge><feMergeNode in="b"/><feMergeNode in="d"/><feMergeNode in="l"/></feMerge></filter><filter id="no" x="0" y="0" width="100%" height="100%" color-interpolation-filters="sRGB"><feTurbulence type="fractalNoise" baseFrequency="0.8" numOctaves="3" seed="11"/><feColorMatrix type="matrix" values="0 0 0 0 0.4 0 0 0 0 0.4 0 0 0 0 0.4 0.9 0 0 0 -0.33"/></filter></defs>
<text x="43.6" y="2055" font-size="37.3">C</text>
<text transform="translate(332.7 2044.2) rotate(0) scale(0.980 1)" font-size="30.4" text-anchor="middle">Sorafenib</text><rect x="172.4" y="2057.8" width="323.8" height="6.2" fill="#000"/><text transform="translate(250.7 2101.3) rotate(0) scale(0.990 1)" font-size="30.2" text-anchor="middle">Vehicle</text><text transform="translate(421.6 2101.3) rotate(0) scale(0.990 1)" font-size="30.2" text-anchor="middle">10 µM</text>
<path d="M124.4 2122.5L124.4 2435.7" stroke="#000" stroke-width="6" fill="none"/><text transform="translate(115.7 2273.6) rotate(-90) scale(0.912 1)" font-size="32.3" text-anchor="middle">LZX-2-73</text><text transform="translate(159.8 2210) rotate(-90) scale(0.975 1)" font-size="31.2" text-anchor="middle">Vehicle</text><text transform="translate(159.8 2357.6) rotate(-90) scale(0.975 1)" font-size="31.2" text-anchor="middle">25 µM</text>
<g><clipPath id="oc1"><rect x="172.4" y="2123.7" width="158.2" height="158.8"/></clipPath><rect x="172.4" y="2123.7" width="158.2" height="158.8" fill="#dadada"/><rect x="172.4" y="2123.7" width="158.2" height="158.8" filter="url(#no)" opacity="0.6"/><g clip-path="url(#oc1)"><g filter="url(#ob)"><g fill="#707070" fill-opacity="0.45" stroke="#5a5a5a" stroke-opacity="0.4" stroke-width="0.8"><circle cx="256.4" cy="2165.2" r="2"/><circle cx="264.3" cy="2167.1" r="2.8"/><circle cx="232.9" cy="2173" r="2.7"/><circle cx="276.1" cy="2192.7" r="2.1"/><circle cx="254.5" cy="2232" r="2.4"/><circle cx="195.5" cy="2253.6" r="2.3"/></g><g fill="#606060" fill-opacity="0.5"><circle cx="228.6" cy="2167" r="1.9"/><circle cx="286" cy="2203.2" r="2.4"/><circle cx="251.5" cy="2172.4" r="2.4"/><circle cx="244.7" cy="2169.3" r="3.1"/><circle cx="269.7" cy="2182.3" r="1.8"/><circle cx="212.3" cy="2186.7" r="2.3"/><circle cx="256" cy="2226.6" r="1.8"/><circle cx="255.1" cy="2227" r="2.5"/><circle cx="252.5" cy="2224.2" r="2.1"/><circle cx="221.9" cy="2203.8" r="1.8"/></g><path d="M276.1 2196.6C276 2200.3 274.4 2204.3 272.6 2207.7C270.9 2211.1 268.6 2214.7 265.7 2216.8C262.8 2218.9 258.7 2219.3 255 2220.3C251.3 2221.3 247.3 2223.4 243.6 2222.9C239.9 2222.4 235.7 2220 233 2217.4C230.4 2214.7 229.2 2210.5 227.9 2207.1C226.5 2203.6 225.1 2200.2 224.8 2196.6C224.5 2193 224.7 2188.7 226.1 2185.3C227.5 2181.9 230.4 2178.7 233.3 2176.2C236.3 2173.7 240 2171.1 243.6 2170.5C247.3 2169.8 251.4 2171.2 255.2 2172.1C258.9 2173 263.1 2173.7 266.1 2175.9C269.1 2178.1 271.3 2181.9 273 2185.3C274.6 2188.8 276.1 2192.9 276.1 2196.6Z" fill="#565656"/><g fill="#2a2a2a" fill-opacity="0.3"><circle cx="254.7" cy="2189.2" r="3.5"/><circle cx="253.8" cy="2197.5" r="4"/><circle cx="246.1" cy="2185.1" r="2.9"/><circle cx="241.2" cy="2200" r="3.9"/><circle cx="250.4" cy="2196.7" r="3.8"/><circle cx="260.1" cy="2195.5" r="3"/><circle cx="250.8" cy="2187" r="4.2"/><circle cx="250.6" cy="2205.7" r="4.4"/><circle cx="233.3" cy="2191.5" r="2"/></g><g fill="#909090" fill-opacity="0.22"><circle cx="246.1" cy="2206.5" r="4.2"/><circle cx="246.9" cy="2198.2" r="3.4"/><circle cx="242.6" cy="2195.7" r="3.2"/><circle cx="253.9" cy="2204.5" r="4.5"/><circle cx="242.4" cy="2192.8" r="2.7"/></g></g></g></g>
<g><clipPath id="oc2"><rect x="336.4" y="2123.7" width="158.2" height="158.8"/></clipPath><rect x="336.4" y="2123.7" width="158.2" height="158.8" fill="#dbdbdb"/><rect x="336.4" y="2123.7" width="158.2" height="158.8" filter="url(#no)" opacity="0.6"/><g clip-path="url(#oc2)"><g filter="url(#ob)"><g fill="#707070" fill-opacity="0.45" stroke="#5a5a5a" stroke-opacity="0.4" stroke-width="0.8"><circle cx="344.8" cy="2180.9" r="2.9"/><circle cx="351.7" cy="2187.8" r="2.9"/><circle cx="347.8" cy="2196.6" r="1.9"/><circle cx="358.6" cy="2178.9" r="1.9"/><circle cx="373.3" cy="2193.7" r="2.8"/><circle cx="381.2" cy="2191.7" r="2.7"/><circle cx="388" cy="2180.9" r="2.6"/><circle cx="392.9" cy="2188.8" r="2.2"/><circle cx="405.7" cy="2177.9" r="2.5"/><circle cx="367.4" cy="2210.4" r="2.5"/><circle cx="446" cy="2190.7" r="2.5"/><circle cx="471.5" cy="2187.8" r="3.2"/><circle cx="463.7" cy="2194.6" r="2"/><circle cx="466.6" cy="2204.5" r="2.3"/><circle cx="465.6" cy="2215.3" r="2.3"/><circle cx="429.3" cy="2200.5" r="2.7"/><circle cx="431.3" cy="2218.2" r="3.4"/><circle cx="425.4" cy="2226.1" r="3"/><circle cx="414.6" cy="2231" r="2.9"/><circle cx="407.7" cy="2237.9" r="2.5"/><circle cx="394.9" cy="2239.8" r="2.3"/><circle cx="447.9" cy="2258.5" r="3"/><circle cx="437.1" cy="2279.1" r="2.1"/><circle cx="337.9" cy="2231" r="1.8"/><circle cx="351.7" cy="2148.5" r="1.8"/><circle cx="369.4" cy="2157.3" r="2.4"/><circle cx="393.9" cy="2153.4" r="2.2"/><circle cx="389.1" cy="2223.3" r="1.7"/><circle cx="409.7" cy="2227.7" r="1"/><circle cx="397.2" cy="2225.8" r="2.2"/><circle cx="396.4" cy="2191.7" r="1.2"/><circle cx="422.4" cy="2200.1" r="2.1"/><circle cx="410.4" cy="2182.3" r="1.9"/><circle cx="378.8" cy="2239.7" r="1.2"/><circle cx="408.1" cy="2196.3" r="1.9"/><circle cx="380.4" cy="2214.8" r="2.1"/><circle cx="392.5" cy="2209.3" r="2"/><circle cx="386.8" cy="2231.3" r="1.6"/><circle cx="378.3" cy="2198.7" r="2.1"/><circle cx="404.1" cy="2192" r="1.4"/><circle cx="403.7" cy="2199.5" r="1.2"/></g><g fill="#606060" fill-opacity="0.5"><circle cx="421.8" cy="2200.2" r="3.1"/><circle cx="399.2" cy="2231" r="2.8"/><circle cx="388.5" cy="2208.9" r="2.7"/><circle cx="393" cy="2200.3" r="2.1"/><circle cx="384.8" cy="2207.7" r="2.7"/><circle cx="427.2" cy="2219.4" r="2.8"/><circle cx="421.2" cy="2200.5" r="2.8"/><circle cx="426.7" cy="2216.8" r="2.2"/><circle cx="411" cy="2231.6" r="1.9"/><circle cx="385.7" cy="2206.3" r="2.1"/><circle cx="413.2" cy="2231.2" r="2.4"/><circle cx="404.7" cy="2195" r="2.3"/><circle cx="417.4" cy="2227.5" r="1.9"/><circle cx="421.8" cy="2205.3" r="2.8"/></g><path d="M421.9 2209.4C421.7 2211.6 421.6 2213.7 420.9 2215.8C420.2 2217.8 419.2 2220.4 417.5 2221.7C415.9 2223 413.1 2223.2 410.9 2223.5C408.7 2223.8 406.6 2223.9 404.5 2223.5C402.3 2223.2 399.7 2222.8 398 2221.5C396.3 2220.2 395 2217.9 394.3 2215.9C393.5 2213.8 393.7 2211.6 393.5 2209.4C393.3 2207.2 392.3 2204.3 393.2 2202.4C394.1 2200.5 396.8 2199.3 398.7 2198.1C400.6 2197 402.5 2196.1 404.5 2195.5C406.6 2195 408.9 2194.6 411 2195C413.1 2195.3 415.5 2196.1 417.3 2197.4C419.1 2198.7 421 2200.6 421.8 2202.6C422.5 2204.6 422 2207.2 421.9 2209.4Z" fill="#666666"/><g fill="#2a2a2a" fill-opacity="0.3"><circle cx="400" cy="2212" r="3.8"/><circle cx="414.3" cy="2204.8" r="4.2"/><circle cx="405.9" cy="2206.5" r="2.3"/><circle cx="398.9" cy="2212.4" r="2.3"/><circle cx="414" cy="2217.4" r="2.6"/><circle cx="404.2" cy="2206.6" r="2"/><circle cx="409.4" cy="2209.8" r="2.2"/><circle cx="404.1" cy="2205.3" r="4.5"/><circle cx="405.2" cy="2210.3" r="3.5"/></g><g fill="#909090" fill-opacity="0.22"><circle cx="410.4" cy="2211.7" r="2.1"/><circle cx="406.3" cy="2204.6" r="2.6"/><circle cx="404.1" cy="2207.3" r="3.3"/><circle cx="406.3" cy="2208.9" r="2.1"/><circle cx="417.4" cy="2205.1" r="2.6"/></g></g></g></g>
<g><clipPath id="oc3"><rect x="172.4" y="2288" width="158.2" height="158.5"/></clipPath><linearGradient id="og3" x1="0" y1="0" x2="0.6" y2="1"><stop offset="0" stop-color="#cfcfcf"/><stop offset="1" stop-color="#c4c4c4"/></linearGradient><rect x="172.4" y="2288" width="158.2" height="158.5" fill="url(#og3)"/><rect x="172.4" y="2288" width="158.2" height="158.5" filter="url(#no)" opacity="0.25"/><g clip-path="url(#oc3)"><g filter="url(#ob)"><g fill="#707070" fill-opacity="0.45" stroke="#5a5a5a" stroke-opacity="0.4" stroke-width="0.8"><circle cx="244.6" cy="2308.6" r="2.1"/><circle cx="258.4" cy="2313.5" r="2.5"/><circle cx="268.2" cy="2304.6" r="2.2"/><circle cx="282.9" cy="2299.7" r="2.5"/><circle cx="272.1" cy="2291.9" r="2.6"/><circle cx="253.5" cy="2325.3" r="1.9"/><circle cx="244.6" cy="2333.1" r="1.8"/><circle cx="237.8" cy="2335.1" r="2.8"/><circle cx="260.4" cy="2335.1" r="2.1"/><circle cx="274.1" cy="2322.3" r="3"/><circle cx="278" cy="2327.2" r="2.1"/><circle cx="281" cy="2332.1" r="3"/><circle cx="295.7" cy="2314.5" r="2.4"/><circle cx="317.3" cy="2310.5" r="3.2"/><circle cx="316.3" cy="2316.4" r="2.8"/><circle cx="300.6" cy="2342.9" r="2.4"/><circle cx="294.7" cy="2354.7" r="3"/><circle cx="282" cy="2349.8" r="2.6"/><circle cx="187.7" cy="2338" r="2"/><circle cx="185.7" cy="2349.8" r="2.6"/><circle cx="176.9" cy="2363.6" r="2.8"/><circle cx="264.3" cy="2397" r="3.2"/><circle cx="274.1" cy="2397.9" r="3.2"/><circle cx="219.1" cy="2388.1" r="3.2"/><circle cx="216.2" cy="2377.3" r="2.4"/></g><g fill="#606060" fill-opacity="0.5"><circle cx="244.2" cy="2350.8" r="1.9"/><circle cx="246.8" cy="2351.7" r="2.2"/><circle cx="271.8" cy="2380.6" r="2.5"/><circle cx="240.4" cy="2349" r="2.8"/><circle cx="264.6" cy="2365.1" r="2.9"/><circle cx="219.7" cy="2384.8" r="3"/><circle cx="261" cy="2386.2" r="2.1"/><circle cx="267.1" cy="2370.7" r="2.7"/><circle cx="238.4" cy="2397.1" r="2.3"/><circle cx="231.6" cy="2394.5" r="2.6"/><circle cx="266" cy="2361.4" r="3.1"/><circle cx="263" cy="2353.3" r="2.7"/><circle cx="259.5" cy="2398.2" r="3.2"/><circle cx="265" cy="2362.2" r="2.8"/><circle cx="252" cy="2401" r="2.6"/><circle cx="241.7" cy="2393" r="3"/><circle cx="263.8" cy="2374.2" r="2.9"/><circle cx="229.6" cy="2385.5" r="2.2"/><circle cx="248.8" cy="2348.8" r="1.9"/><circle cx="232.2" cy="2363.7" r="2.8"/><circle cx="232.5" cy="2398.9" r="3.2"/><circle cx="217.4" cy="2374.4" r="2.2"/><circle cx="266.7" cy="2386.5" r="1.8"/><circle cx="252.7" cy="2396" r="2.7"/><circle cx="255.5" cy="2390.2" r="3"/><circle cx="234.8" cy="2401" r="3.1"/><circle cx="229.5" cy="2390.9" r="2.5"/><circle cx="230.9" cy="2356.7" r="2.6"/><circle cx="225.5" cy="2356.5" r="2.5"/><circle cx="222.8" cy="2385.9" r="2.1"/><circle cx="236.8" cy="2401.9" r="2.5"/><circle cx="229" cy="2370.2" r="2.4"/><circle cx="230.3" cy="2367" r="2.7"/><circle cx="233.5" cy="2362.2" r="2.7"/><circle cx="221.4" cy="2380.6" r="2.3"/><circle cx="238.8" cy="2351" r="1.8"/><circle cx="268.5" cy="2384.6" r="3.1"/><circle cx="245.4" cy="2397.7" r="2.6"/><circle cx="236.5" cy="2394.6" r="2.2"/><circle cx="229.4" cy="2392.8" r="2.2"/><circle cx="227.2" cy="2393.3" r="1.8"/><circle cx="222.6" cy="2364.7" r="2.2"/></g><path d="M263.1 2375.4C263.2 2378 263.7 2381.3 262.6 2383.6C261.5 2385.8 258.7 2387.6 256.5 2389.1C254.3 2390.5 251.9 2391.7 249.5 2392.3C247 2393 244.2 2393.3 241.6 2392.9C239 2392.5 235.9 2391.6 234 2389.9C232.1 2388.2 231.2 2385.3 230.1 2382.8C229.1 2380.4 228 2377.9 227.9 2375.4C227.8 2372.9 228.7 2370.2 229.6 2367.7C230.6 2365.3 231.8 2362.3 233.8 2360.6C235.8 2359 238.9 2358.5 241.6 2357.9C244.3 2357.3 247.4 2356.3 249.8 2356.9C252.3 2357.6 254.4 2360.1 256.4 2361.9C258.4 2363.7 260.5 2365.5 261.6 2367.7C262.7 2370 262.9 2372.8 263.1 2375.4Z" fill="#585858"/><g fill="#2a2a2a" fill-opacity="0.3"><circle cx="245.8" cy="2376.9" r="3.3"/><circle cx="249.3" cy="2385" r="4.1"/><circle cx="239.1" cy="2367.4" r="2.9"/><circle cx="248.2" cy="2378.1" r="4"/><circle cx="241" cy="2377.9" r="4.3"/><circle cx="245.6" cy="2375.4" r="4.4"/><circle cx="256.8" cy="2371.8" r="2.6"/><circle cx="245.3" cy="2364.7" r="3.7"/><circle cx="245.7" cy="2376.3" r="3.5"/></g><g fill="#909090" fill-opacity="0.22"><circle cx="239" cy="2366.3" r="3.1"/><circle cx="247" cy="2378.6" r="4"/><circle cx="245" cy="2379.8" r="3"/><circle cx="254.8" cy="2366.8" r="3.1"/><circle cx="241.9" cy="2375" r="2.9"/></g></g></g></g>
<g><clipPath id="oc4"><rect x="336.4" y="2288" width="158.2" height="158.5"/></clipPath><linearGradient id="og4" x1="0.7" y1="0" x2="0.3" y2="1"><stop offset="0" stop-color="#a6a6a6"/><stop offset="1" stop-color="#b9b9b9"/></linearGradient><rect x="336.4" y="2288" width="158.2" height="158.5" fill="url(#og4)"/><rect x="336.4" y="2288" width="158.2" height="158.5" filter="url(#no)" opacity="0.35"/><g clip-path="url(#oc4)"><g filter="url(#ob)"><g fill="#707070" fill-opacity="0.45" stroke="#5a5a5a" stroke-opacity="0.4" stroke-width="0.8"><circle cx="412.2" cy="2399.4" r="1.2"/><circle cx="439.9" cy="2378.6" r="1.5"/><circle cx="436.5" cy="2354.9" r="1.3"/><circle cx="345.9" cy="2355.7" r="1.3"/><circle cx="423.8" cy="2390.4" r="2.1"/><circle cx="422.4" cy="2347.2" r="2"/><circle cx="416.5" cy="2348.5" r="1.8"/><circle cx="404.1" cy="2335.5" r="2"/><circle cx="445.9" cy="2339.6" r="1.8"/><circle cx="371.5" cy="2366.4" r="1.2"/><circle cx="334.4" cy="2377.5" r="2"/><circle cx="357.8" cy="2354.9" r="1.4"/><circle cx="469" cy="2336.4" r="2"/><circle cx="365.5" cy="2365.7" r="1.5"/><circle cx="382.6" cy="2352.5" r="1.4"/><circle cx="417.7" cy="2350.2" r="1.1"/><circle cx="440.4" cy="2375.1" r="1.6"/><circle cx="375.9" cy="2372.3" r="1.4"/><circle cx="435.1" cy="2367.1" r="1.2"/><circle cx="378.3" cy="2340.8" r="1.3"/><circle cx="398.5" cy="2377.9" r="1.7"/><circle cx="443.6" cy="2348.3" r="1.1"/><circle cx="429.8" cy="2374.4" r="1.7"/><circle cx="414" cy="2420.6" r="1.4"/><circle cx="419.5" cy="2385.2" r="1.8"/><circle cx="423.2" cy="2358.6" r="2.1"/><circle cx="406.7" cy="2350.3" r="1.3"/><circle cx="425.7" cy="2364.5" r="1.9"/><circle cx="362.1" cy="2391" r="2"/><circle cx="400.5" cy="2391" r="1.2"/><circle cx="375.6" cy="2377.2" r="2.2"/><circle cx="390" cy="2394.2" r="1"/><circle cx="448.5" cy="2376.7" r="1.4"/><circle cx="393.2" cy="2415.5" r="1.1"/><circle cx="442.7" cy="2364.4" r="1.1"/><circle cx="432.6" cy="2374.4" r="1.2"/><circle cx="399.3" cy="2352.4" r="1.6"/><circle cx="408.8" cy="2385.9" r="2.2"/><circle cx="456.8" cy="2404.7" r="1.5"/><circle cx="434.1" cy="2365.9" r="1.6"/><circle cx="409.9" cy="2385.8" r="1.5"/><circle cx="408.9" cy="2383.8" r="2.1"/><circle cx="420.2" cy="2351" r="1.3"/><circle cx="409.5" cy="2380.3" r="1.2"/><circle cx="411.9" cy="2389.2" r="1.1"/></g><g fill="#585858" fill-opacity="0.6" stroke="#404040" stroke-opacity="0.4" stroke-width="1"><circle cx="408.7" cy="2361.6" r="7"/><circle cx="417.5" cy="2355.7" r="6"/><circle cx="419.5" cy="2369.5" r="6.5"/><circle cx="425.4" cy="2381.3" r="6"/><circle cx="423.4" cy="2393" r="5"/><circle cx="392" cy="2367.5" r="6"/><circle cx="381.2" cy="2355.7" r="5.5"/><circle cx="388" cy="2381.3" r="5"/><circle cx="395.9" cy="2391.1" r="4.5"/><circle cx="427.3" cy="2351.8" r="5"/><circle cx="413.6" cy="2342" r="4.5"/><circle cx="401.8" cy="2334.1" r="4.5"/><circle cx="398.8" cy="2326.3" r="4"/><circle cx="399.8" cy="2316.4" r="3.5"/><circle cx="433.2" cy="2373.4" r="4.5"/><circle cx="387.1" cy="2402.9" r="3.5"/><circle cx="380.2" cy="2386.2" r="3.5"/><circle cx="376.3" cy="2321.3" r="3"/><circle cx="392.9" cy="2308.6" r="3"/></g><g fill="#3c3c3c" fill-opacity="0.4"><circle cx="410.4" cy="2361.9" r="4"/><circle cx="417.1" cy="2357.3" r="3.5"/><circle cx="420.6" cy="2370.4" r="3.2"/><circle cx="423.7" cy="2380.1" r="3.8"/><circle cx="425" cy="2394.7" r="3"/></g></g></g></g>
<g>
<text x="609.5" y="2072.4" font-size="22.8">PDAC088T organoids</text>
<g font-size="19.4">
<rect x="629" y="2109.7" width="23.9" height="11.8" fill="#808080" stroke="#1a1a1a" stroke-width="1.3"/>
<text x="668.5" y="2121.6">Control</text>
<rect x="629" y="2140.6" width="23.9" height="11.8" fill="#fdbe85" stroke="#1a1a1a" stroke-width="1.3"/>
<text x="668.5" y="2152.8">Sorafenib 10 µM</text>
<rect x="629" y="2172" width="23.9" height="11.8" fill="#bebe00" stroke="#1a1a1a" stroke-width="1.3"/>
<text x="668.5" y="2183.7">LZX-2-73 25 µM</text>
<rect x="629" y="2200.8" width="23.9" height="11.8" fill="#f94144" stroke="#1a1a1a" stroke-width="1.3"/>
<text x="668.5" y="2212.5">Sorafenib + LZX-2-73</text>
</g>
<path d="M641.1 2285.3V2281.9M632.1 2281.9h18" stroke="#000" stroke-width="1.3" fill="none"/>
<rect x="624.1" y="2286" width="34" height="160.9" fill="#808080" stroke="#000" stroke-width="1.6"/>
<path d="M695.3 2350.5V2348.7M686.3 2348.7h18" stroke="#000" stroke-width="1.3" fill="none"/>
<rect x="678.3" y="2351.2" width="34" height="95.7" fill="#fdbe85" stroke="#000" stroke-width="1.6"/>
<path d="M749.3 2344.3V2342.2M740.3 2342.2h18" stroke="#000" stroke-width="1.3" fill="none"/>
<rect x="732" y="2345" width="34.5" height="102" fill="#bebe00" stroke="#000" stroke-width="1.6"/>
<path d="M803.3 2396.4V2395.3M794.3 2395.3h18" stroke="#000" stroke-width="1.3" fill="none"/>
<rect x="786.2" y="2397.1" width="34.2" height="49.9" fill="#f94144" stroke="#000" stroke-width="1.6"/>
<path d="M604.3 2216.4V2446.9M595.7 2446.9H840M595.7 2216.4h8.6M595.7 2274.1h8.6M595.7 2331.7h8.6M595.7 2389.3h8.6M641.1 2446.9v9M695.3 2446.9v9M749.3 2446.9v9M803.3 2446.9v9" fill="none" stroke="#000" stroke-width="1.35"/>
<g font-size="18" text-anchor="end">
<text x="593.1" y="2222.8">400</text>
<text x="593.1" y="2280.5">300</text>
<text x="593.1" y="2338.1">200</text>
<text x="593.1" y="2395.7">100</text>
<text x="593.1" y="2453.3">0</text>
</g>
<text transform="translate(549.5 2331) rotate(-90)" font-size="19" text-anchor="middle">Diameter of organoids (µm)</text>
<text x="724" y="2259.3" font-size="31" text-anchor="middle" letter-spacing="2.6" stroke="#000" stroke-width="0.5">****</text>
<text x="751.7" y="2292.1" font-size="31" text-anchor="middle" letter-spacing="2.6" stroke="#000" stroke-width="0.5">****</text>
<text x="781.1" y="2326.6" font-size="31" text-anchor="middle" letter-spacing="2.6" stroke="#000" stroke-width="0.5">****</text>
<path d="M641 2272V2260.2H804.7V2272M691.5 2305V2293.7H808.1V2305M749.1 2339.5V2328.3H809.4V2339.5" fill="none" stroke="#000" stroke-width="2.3"/>
</g>
<text transform="translate(1169.3 2044.2) rotate(0) scale(0.980 1)" font-size="30.4" text-anchor="middle">Sorafenib</text><rect x="1009" y="2058" width="324" height="6.2" fill="#000"/><text transform="translate(1087.6 2101.3) rotate(0) scale(0.990 1)" font-size="30.2" text-anchor="middle">Vehicle</text><text transform="translate(1257.9 2101.3) rotate(0) scale(0.990 1)" font-size="30.2" text-anchor="middle">10 µM</text>
<path d="M961.2 2122.3L961.2 2435.3" stroke="#000" stroke-width="5.8" fill="none"/><text transform="translate(951.1 2273.4) rotate(-90) scale(0.912 1)" font-size="32.3" text-anchor="middle">LZX-2-73</text><text transform="translate(997.4 2210.7) rotate(-90) scale(0.975 1)" font-size="31.2" text-anchor="middle">Vehicle</text><text transform="translate(997.4 2358.7) rotate(-90) scale(0.975 1)" font-size="31.2" text-anchor="middle">25 µM</text>
<g><clipPath id="oc5"><rect x="1014.3" y="2121.7" width="157.7" height="158.5"/></clipPath><rect x="1014.3" y="2121.7" width="157.7" height="158.5" fill="#dbdbdb"/><rect x="1014.3" y="2121.7" width="157.7" height="158.5" filter="url(#no)" opacity="0.6"/><g clip-path="url(#oc5)"><g filter="url(#ob)"><g fill="#707070" fill-opacity="0.45" stroke="#5a5a5a" stroke-opacity="0.4" stroke-width="0.8"><circle cx="1085" cy="2265" r="2.5"/><circle cx="1083.7" cy="2245.4" r="2.7"/><circle cx="1140" cy="2241.4" r="2.8"/><circle cx="1024.8" cy="2244.1" r="2.9"/><circle cx="1061.4" cy="2275.5" r="2.7"/><circle cx="1081.1" cy="2162.9" r="2.9"/><circle cx="1103.3" cy="2170.7" r="1.8"/><circle cx="1061.4" cy="2212.6" r="2.4"/></g><g fill="#606060" fill-opacity="0.5"><circle cx="1116.5" cy="2178.5" r="3.1"/><circle cx="1108.3" cy="2210.9" r="2.1"/><circle cx="1052.7" cy="2181.4" r="1.8"/><circle cx="1090.4" cy="2218.3" r="3.1"/><circle cx="1087.1" cy="2163.9" r="2.9"/><circle cx="1106.2" cy="2216.2" r="2"/><circle cx="1122.1" cy="2190.8" r="2.1"/><circle cx="1092.9" cy="2228.7" r="3"/><circle cx="1075" cy="2228.2" r="2.6"/><circle cx="1072.5" cy="2165.8" r="3.1"/><circle cx="1070.3" cy="2154.1" r="3.1"/><circle cx="1075.5" cy="2218.8" r="2"/></g><path d="M1108.7 2190.4C1108.7 2193.9 1107.5 2197.6 1106.1 2200.8C1104.6 2204 1102.5 2207.3 1099.9 2209.7C1097.3 2212.2 1093.7 2214.8 1090.2 2215.5C1086.8 2216.1 1082.9 2214.3 1079.2 2213.5C1075.6 2212.7 1071.2 2212.8 1068.3 2210.7C1065.5 2208.6 1063.6 2204.6 1062.1 2201.2C1060.7 2197.8 1060 2194.1 1059.8 2190.4C1059.5 2186.7 1059.2 2182.2 1060.7 2178.9C1062.2 2175.6 1065.7 2172.7 1068.7 2170.6C1071.8 2168.5 1075.4 2167.1 1079 2166.3C1082.6 2165.4 1086.5 2165.1 1090.1 2165.7C1093.8 2166.4 1098.1 2167.6 1100.7 2170C1103.4 2172.4 1104.7 2176.6 1106 2180C1107.4 2183.4 1108.7 2186.9 1108.7 2190.4Z" fill="#585858"/><g fill="#2a2a2a" fill-opacity="0.3"><circle cx="1084.7" cy="2190.1" r="4"/><circle cx="1077.6" cy="2198.1" r="2"/><circle cx="1088.9" cy="2203.1" r="4.3"/><circle cx="1090.2" cy="2188.2" r="2.9"/><circle cx="1084.4" cy="2176.2" r="4.1"/><circle cx="1100.9" cy="2194.3" r="2.2"/><circle cx="1075.7" cy="2204.3" r="3.4"/><circle cx="1082.3" cy="2195.6" r="2.4"/><circle cx="1087.4" cy="2190.3" r="2.1"/></g><g fill="#909090" fill-opacity="0.22"><circle cx="1084.9" cy="2190.3" r="3.9"/><circle cx="1087.6" cy="2191.3" r="4.4"/><circle cx="1070.8" cy="2188.3" r="2.3"/><circle cx="1078.6" cy="2199.6" r="4.3"/><circle cx="1086.8" cy="2191.7" r="3.7"/></g></g></g></g>
<g><clipPath id="oc6"><rect x="1183.2" y="2121.7" width="158.5" height="158.5"/></clipPath><rect x="1183.2" y="2121.7" width="158.5" height="158.5" fill="#dadada"/><rect x="1183.2" y="2121.7" width="158.5" height="158.5" filter="url(#no)" opacity="0.6"/><g clip-path="url(#oc6)"><g filter="url(#ob)"><g fill="#707070" fill-opacity="0.45" stroke="#5a5a5a" stroke-opacity="0.4" stroke-width="0.8"><circle cx="1240.8" cy="2136.7" r="3"/><circle cx="1226.4" cy="2157.6" r="4"/><circle cx="1209.4" cy="2161.6" r="3"/><circle cx="1218.6" cy="2173.3" r="3.5"/><circle cx="1222.5" cy="2183.8" r="2.8"/><circle cx="1257.9" cy="2168.1" r="2.8"/><circle cx="1246.1" cy="2176" r="2.4"/><circle cx="1235.6" cy="2228.3" r="3.4"/><circle cx="1242.2" cy="2217.9" r="2.1"/><circle cx="1252.6" cy="2220.5" r="1.8"/><circle cx="1260.5" cy="2215.2" r="2.6"/><circle cx="1236.9" cy="2238.8" r="2.4"/><circle cx="1219.9" cy="2268.9" r="2.7"/><circle cx="1271" cy="2189.1" r="2.2"/><circle cx="1273.6" cy="2199.5" r="2.7"/><circle cx="1231.7" cy="2246.7" r="2.1"/><circle cx="1255.1" cy="2187.4" r="1.6"/><circle cx="1240.2" cy="2180" r="1.2"/><circle cx="1235.6" cy="2194" r="2"/><circle cx="1242" cy="2182.4" r="2"/><circle cx="1234.8" cy="2219.2" r="2"/><circle cx="1227.4" cy="2204.8" r="1.1"/><circle cx="1256.8" cy="2212.7" r="2.1"/><circle cx="1233.4" cy="2189.7" r="1.2"/><circle cx="1233.4" cy="2178" r="2.1"/><circle cx="1216.6" cy="2195.7" r="1.8"/></g><g fill="#606060" fill-opacity="0.5"><circle cx="1243.2" cy="2176.8" r="3.2"/><circle cx="1268.6" cy="2201.5" r="2.6"/><circle cx="1243.6" cy="2217.6" r="1.9"/><circle cx="1265.1" cy="2184.5" r="2"/><circle cx="1241.1" cy="2182.9" r="2.1"/><circle cx="1234.3" cy="2199.9" r="2.1"/><circle cx="1264.9" cy="2182" r="1.8"/><circle cx="1253.2" cy="2183.3" r="2.3"/><circle cx="1267.7" cy="2186.4" r="2.2"/><circle cx="1237.1" cy="2211.2" r="2"/><circle cx="1266" cy="2198.2" r="2.4"/><circle cx="1250.1" cy="2179.4" r="3.2"/><circle cx="1251.2" cy="2222.5" r="3"/><circle cx="1239.2" cy="2177.6" r="2.4"/><circle cx="1261.5" cy="2178.5" r="2.5"/><circle cx="1229.2" cy="2202.1" r="2.4"/></g><path d="M1265.4 2198.2C1265.5 2200.5 1266 2203.3 1265.1 2205.2C1264.2 2207.2 1261.9 2208.7 1260 2210.1C1258.1 2211.5 1256.2 2212.8 1254 2213.5C1251.8 2214.2 1249 2214.7 1246.9 2214.1C1244.7 2213.5 1242.7 2211.5 1241.1 2210C1239.5 2208.4 1238.1 2206.6 1237.2 2204.6C1236.3 2202.6 1235.7 2200.4 1235.6 2198.2C1235.4 2196 1235.3 2193.3 1236.2 2191.3C1237.1 2189.3 1239.1 2187.5 1240.9 2186.1C1242.7 2184.8 1244.9 2183.9 1247.1 2183.4C1249.3 2182.8 1251.7 2182.7 1254 2183C1256.3 2183.3 1259.1 2183.8 1260.8 2185.2C1262.6 2186.7 1263.5 2189.4 1264.2 2191.6C1265 2193.8 1265.2 2195.9 1265.4 2198.2Z" fill="#5e5e5e"/><g fill="#2a2a2a" fill-opacity="0.3"><circle cx="1249.9" cy="2203.4" r="3.2"/><circle cx="1253.1" cy="2201.5" r="2.8"/><circle cx="1260.5" cy="2196.3" r="2.9"/><circle cx="1247.7" cy="2196.1" r="3"/><circle cx="1250.5" cy="2198.3" r="3.1"/><circle cx="1250.8" cy="2198.3" r="3.9"/><circle cx="1259.2" cy="2194.6" r="2.2"/><circle cx="1254.2" cy="2208" r="3.5"/><circle cx="1245.3" cy="2198.5" r="2.3"/></g><g fill="#909090" fill-opacity="0.22"><circle cx="1242.3" cy="2203.4" r="3.5"/><circle cx="1251.7" cy="2194.8" r="3.6"/><circle cx="1241.7" cy="2198.9" r="4.3"/><circle cx="1256.6" cy="2203.3" r="2.9"/><circle cx="1242.9" cy="2202.3" r="4"/></g></g></g></g>
<g><clipPath id="oc7"><rect x="1014.8" y="2289.4" width="158.7" height="158.4"/></clipPath><linearGradient id="og7" x1="0" y1="0" x2="1" y2="1"><stop offset="0" stop-color="#cbcbcb"/><stop offset="1" stop-color="#c8c8c8"/></linearGradient><rect x="1014.8" y="2289.4" width="158.7" height="158.4" fill="url(#og7)"/><rect x="1014.8" y="2289.4" width="158.7" height="158.4" filter="url(#no)" opacity="0.3"/><g clip-path="url(#oc7)"><g filter="url(#ob)"><g fill="#707070" fill-opacity="0.45" stroke="#5a5a5a" stroke-opacity="0.4" stroke-width="0.8"><circle cx="1106" cy="2333.1" r="3.2"/><circle cx="1112.5" cy="2338.3" r="2.2"/><circle cx="1100.7" cy="2341" r="2"/><circle cx="1121.7" cy="2338.3" r="2.6"/><circle cx="1137.4" cy="2343.6" r="1.9"/><circle cx="1155.7" cy="2351.4" r="4"/><circle cx="1040.5" cy="2375" r="2.4"/><circle cx="1134.8" cy="2375" r="3.6"/><circle cx="1153.1" cy="2382.9" r="2.2"/><circle cx="1132.2" cy="2388.1" r="3.4"/><circle cx="1074.5" cy="2367.2" r="1.9"/><circle cx="1090.2" cy="2361.9" r="3.4"/><circle cx="1077.2" cy="2390.7" r="2.4"/><circle cx="1090.2" cy="2406.4" r="1.8"/></g><g fill="#606060" fill-opacity="0.5"><circle cx="1083.8" cy="2383.8" r="1.9"/><circle cx="1076.8" cy="2388.6" r="2"/><circle cx="1104.8" cy="2400.6" r="3.1"/><circle cx="1081.1" cy="2366" r="3.2"/><circle cx="1126.8" cy="2384.2" r="2.2"/><circle cx="1112.4" cy="2391.2" r="2.2"/><circle cx="1108.6" cy="2358.3" r="2.6"/><circle cx="1086.7" cy="2359.6" r="2.6"/><circle cx="1117.6" cy="2383.3" r="2.1"/><circle cx="1091.2" cy="2356" r="2.2"/><circle cx="1081.2" cy="2364.7" r="2.2"/><circle cx="1107.7" cy="2351.8" r="2.1"/><circle cx="1079.7" cy="2365.7" r="3"/><circle cx="1098" cy="2355.6" r="3.2"/><circle cx="1117.2" cy="2391.4" r="2.9"/><circle cx="1114.1" cy="2395.2" r="1.9"/><circle cx="1087.8" cy="2353.5" r="2.6"/><circle cx="1115.7" cy="2361.4" r="2.8"/><circle cx="1080.7" cy="2362.8" r="2.4"/><circle cx="1115.8" cy="2352.5" r="2.5"/><circle cx="1091.3" cy="2360.6" r="2.8"/><circle cx="1083.4" cy="2353.3" r="3"/><circle cx="1096" cy="2397.8" r="2.7"/><circle cx="1123.3" cy="2379.5" r="2"/><circle cx="1114.3" cy="2388.6" r="2.9"/><circle cx="1114.7" cy="2391.1" r="2.3"/><circle cx="1113.5" cy="2362.9" r="2.4"/><circle cx="1074.5" cy="2367.9" r="2.9"/><circle cx="1114.3" cy="2360.6" r="2.4"/><circle cx="1083.3" cy="2397.7" r="3.1"/><circle cx="1112.1" cy="2392.3" r="2.1"/><circle cx="1103.1" cy="2399.3" r="2.6"/><circle cx="1099.3" cy="2394" r="2.4"/><circle cx="1084.4" cy="2393.9" r="3.1"/><circle cx="1092.1" cy="2354.5" r="2.7"/><circle cx="1092.5" cy="2360" r="3.1"/><circle cx="1105.8" cy="2349.4" r="2.9"/><circle cx="1083.4" cy="2390.1" r="1.9"/><circle cx="1088.5" cy="2362.6" r="1.9"/><circle cx="1105.7" cy="2395.1" r="2.3"/></g><path d="M1118.1 2376.3C1117.8 2379 1117.4 2381.5 1116.3 2383.8C1115.2 2386.1 1113.7 2388.5 1111.7 2390.1C1109.8 2391.7 1107.1 2392.8 1104.6 2393.4C1102.1 2394.1 1099.1 2394.6 1096.7 2394C1094.2 2393.4 1092.1 2391.4 1089.9 2389.9C1087.6 2388.3 1084.5 2387 1083.2 2384.7C1081.9 2382.5 1081.7 2379 1081.9 2376.3C1082.2 2373.6 1083.5 2371 1084.8 2368.6C1086.1 2366.3 1087.6 2364 1089.5 2362.3C1091.5 2360.6 1094.1 2359.2 1096.7 2358.6C1099.2 2358 1102.2 2357.9 1104.7 2358.6C1107.2 2359.2 1109.4 2361 1111.7 2362.5C1113.9 2364.1 1117.1 2365.6 1118.1 2367.9C1119.2 2370.2 1118.4 2373.6 1118.1 2376.3Z" fill="#5a5a5a"/><g fill="#2a2a2a" fill-opacity="0.3"><circle cx="1101.8" cy="2377" r="2.9"/><circle cx="1099.7" cy="2387" r="2.4"/><circle cx="1105" cy="2381.9" r="2.1"/><circle cx="1088.2" cy="2374.1" r="4.2"/><circle cx="1105.7" cy="2385" r="3.3"/><circle cx="1101.5" cy="2372.1" r="2.6"/><circle cx="1104.4" cy="2366.3" r="3.8"/><circle cx="1101.7" cy="2383" r="2.9"/><circle cx="1100.2" cy="2385.3" r="4.4"/></g><g fill="#909090" fill-opacity="0.22"><circle cx="1106.8" cy="2376" r="3.2"/><circle cx="1113" cy="2378.1" r="3.3"/><circle cx="1099.6" cy="2373.1" r="2.9"/><circle cx="1105.5" cy="2364.4" r="4.1"/><circle cx="1101.1" cy="2376.4" r="2.7"/></g></g></g></g>
<g><clipPath id="oc8"><rect x="1184" y="2289.4" width="158.2" height="158.4"/></clipPath><linearGradient id="og8" x1="0.3" y1="0" x2="0.7" y2="1"><stop offset="0" stop-color="#aaaaaa"/><stop offset="1" stop-color="#bababa"/></linearGradient><rect x="1184" y="2289.4" width="158.2" height="158.4" fill="url(#og8)"/><rect x="1184" y="2289.4" width="158.2" height="158.4" filter="url(#no)" opacity="0.35"/><g clip-path="url(#oc8)"><g filter="url(#ob)"><g fill="#707070" fill-opacity="0.45" stroke="#5a5a5a" stroke-opacity="0.4" stroke-width="0.8"><circle cx="1252.7" cy="2399.2" r="1.8"/><circle cx="1264.3" cy="2385" r="1.3"/><circle cx="1272.6" cy="2377.5" r="1.6"/><circle cx="1202.3" cy="2388.9" r="1.6"/><circle cx="1255.9" cy="2392.7" r="1.3"/><circle cx="1272.8" cy="2380" r="1.3"/><circle cx="1220" cy="2392.7" r="1.1"/><circle cx="1247.2" cy="2400.5" r="2.2"/><circle cx="1278.4" cy="2387.5" r="1.8"/><circle cx="1232.2" cy="2398.8" r="1.8"/><circle cx="1203.1" cy="2378.2" r="1.7"/><circle cx="1284.4" cy="2413.1" r="1.1"/><circle cx="1277.9" cy="2369.4" r="2.1"/><circle cx="1234.3" cy="2371.4" r="1.9"/><circle cx="1263.5" cy="2366.6" r="2.1"/><circle cx="1273.3" cy="2399.9" r="1.9"/><circle cx="1272.3" cy="2390.9" r="2.1"/><circle cx="1276.4" cy="2344.3" r="1.6"/><circle cx="1259.2" cy="2402.2" r="1.6"/><circle cx="1283.9" cy="2391.1" r="2.1"/><circle cx="1228.4" cy="2376.8" r="1.3"/><circle cx="1279.9" cy="2379.5" r="1.4"/><circle cx="1244.9" cy="2406.2" r="2"/><circle cx="1268.9" cy="2364.5" r="1.2"/><circle cx="1222.5" cy="2393.6" r="2.2"/><circle cx="1262.4" cy="2412.6" r="1.9"/><circle cx="1231.4" cy="2420.1" r="1.4"/><circle cx="1257.6" cy="2390.6" r="1.5"/><circle cx="1253" cy="2407.2" r="1.5"/><circle cx="1223.9" cy="2365.3" r="1.3"/><circle cx="1269.4" cy="2388.9" r="1.6"/><circle cx="1235.3" cy="2390.5" r="2"/><circle cx="1216.1" cy="2376.8" r="1.1"/><circle cx="1328.3" cy="2384.4" r="1.2"/><circle cx="1210.4" cy="2404.1" r="1.4"/><circle cx="1280.8" cy="2371.9" r="1"/><circle cx="1262.7" cy="2358.8" r="1"/><circle cx="1309.8" cy="2366.7" r="1.9"/><circle cx="1277" cy="2376.2" r="2.2"/><circle cx="1227.8" cy="2384" r="1.1"/></g><g fill="#5c5c5c" fill-opacity="0.6" stroke="#404040" stroke-opacity="0.4" stroke-width="1"><circle cx="1244.8" cy="2367.2" r="7"/><circle cx="1242.2" cy="2380.3" r="6"/><circle cx="1257.9" cy="2382.9" r="6.5"/><circle cx="1250" cy="2390.7" r="6.5"/><circle cx="1229.1" cy="2393.4" r="5"/><circle cx="1223.8" cy="2398.6" r="5"/><circle cx="1263.1" cy="2361.9" r="4.5"/><circle cx="1281.4" cy="2359.3" r="5.5"/><circle cx="1273.6" cy="2369.8" r="4"/><circle cx="1281.4" cy="2388.1" r="4"/><circle cx="1255.3" cy="2338.3" r="4.5"/><circle cx="1263.1" cy="2341" r="4"/><circle cx="1265.7" cy="2317.4" r="3"/><circle cx="1234.3" cy="2364.5" r="5"/><circle cx="1257.9" cy="2399.9" r="5"/></g><g fill="#3c3c3c" fill-opacity="0.4"><circle cx="1245.2" cy="2367.1" r="3.2"/><circle cx="1240.8" cy="2378.7" r="3.4"/><circle cx="1257.7" cy="2381.4" r="3.2"/><circle cx="1250.9" cy="2391.6" r="3.2"/><circle cx="1228.6" cy="2392.8" r="2.8"/></g></g></g></g>
<g>
<text x="1452.5" y="2073.6" font-size="23.1">PDAC056T organoids</text>
<g font-size="19.6">
<rect x="1496" y="2103.7" width="24.5" height="11.8" fill="#808080" stroke="#1a1a1a" stroke-width="1.3"/>
<text x="1536.8" y="2115.6">Control</text>
<rect x="1496" y="2135.4" width="24.5" height="11.8" fill="#fdbe85" stroke="#1a1a1a" stroke-width="1.3"/>
<text x="1536.8" y="2147.6">Sorafenib 12.5 µM</text>
<rect x="1496" y="2166.8" width="24.5" height="11.8" fill="#bebe00" stroke="#1a1a1a" stroke-width="1.3"/>
<text x="1536.8" y="2178.5">LZX-2-73 25 µM</text>
<rect x="1496" y="2198" width="24.5" height="11.8" fill="#f94144" stroke="#1a1a1a" stroke-width="1.3"/>
<text x="1536.8" y="2209.1">Sorafenib + LZX-2-73</text>
</g>
<path d="M1508 2275.9V2272.8M1499 2272.8h18" stroke="#000" stroke-width="1.3" fill="none"/>
<rect x="1490.9" y="2276.6" width="34.2" height="172.4" fill="#808080" stroke="#000" stroke-width="1.6"/>
<path d="M1563.2 2336.9V2335.3M1554.2 2335.3h18" stroke="#000" stroke-width="1.3" fill="none"/>
<rect x="1545.9" y="2337.6" width="34.7" height="111.4" fill="#fdbe85" stroke="#000" stroke-width="1.6"/>
<path d="M1618.5 2329.6V2327.8M1609.5 2327.8h18" stroke="#000" stroke-width="1.3" fill="none"/>
<rect x="1601.1" y="2330.3" width="34.7" height="118.7" fill="#bebe00" stroke="#000" stroke-width="1.6"/>
<path d="M1673.9 2388.5V2387.2M1664.9 2387.2h18" stroke="#000" stroke-width="1.3" fill="none"/>
<rect x="1656.7" y="2389.2" width="34.5" height="59.8" fill="#f94144" stroke="#000" stroke-width="1.6"/>
<path d="M1471.3 2215.1V2449M1462.7 2449H1711M1462.7 2249.2h8.6M1462.7 2315.4h8.6M1462.7 2382.2h8.6M1508 2449v9M1563.2 2449v9M1618.5 2449v9M1673.9 2449v9" fill="none" stroke="#000" stroke-width="1.35"/>
<g font-size="18" text-anchor="end">
<text x="1460.1" y="2255.6">300</text>
<text x="1460.1" y="2321.8">200</text>
<text x="1460.1" y="2388.6">100</text>
<text x="1460.1" y="2455.4">0</text>
</g>
<text transform="translate(1415.2 2332) rotate(-90)" font-size="19" text-anchor="middle">Diameter of organoids (µm)</text>
<text x="1591.3" y="2246.7" font-size="31" text-anchor="middle" letter-spacing="2.6" stroke="#000" stroke-width="0.5">****</text>
<text x="1618.5" y="2276.9" font-size="31" text-anchor="middle" letter-spacing="2.6" stroke="#000" stroke-width="0.5">****</text>
<text x="1645.5" y="2304.9" font-size="31" text-anchor="middle" letter-spacing="2.6" stroke="#000" stroke-width="0.5">****</text>
<path d="M1507.5 2268.8V2249.2H1671.7V2268.8M1562.2 2321.2V2279.3H1671.7V2291.1M1616.7 2312.8V2306.8H1671.7V2369.7" fill="none" stroke="#000" stroke-width="2.3"/>
</g>
</g>
</svg>
</body>
</html>
